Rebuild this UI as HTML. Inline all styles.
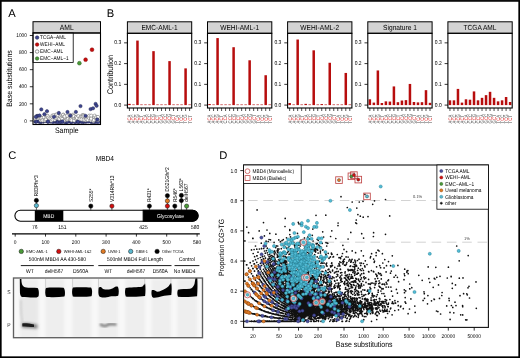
<!DOCTYPE html>
<html><head><meta charset="utf-8"><style>
html,body{margin:0;padding:0;background:#fff;}
svg{display:block;font-family:"Liberation Sans", sans-serif;will-change:transform;text-rendering:geometricPrecision;}
</style></head><body>
<svg width="520" height="358" viewBox="0 0 520 358">
<rect width="520" height="358" fill="#fff"/>
<rect x="0.8" y="0.9" width="518.4" height="356.3" fill="none" stroke="#000" stroke-width="1.7"/>
<text transform="translate(8.20,16.90)" font-size="11.20" text-anchor="start" fill="#000" >A</text>
<text transform="translate(106.80,16.70)" font-size="11.20" text-anchor="start" fill="#000" >B</text>
<text transform="translate(8.20,158.80)" font-size="11.20" text-anchor="start" fill="#000" >C</text>
<text transform="translate(219.20,158.50)" font-size="11.20" text-anchor="start" fill="#000" >D</text>
<rect x="33.0" y="21.7" width="67.5" height="11.3" fill="#d3d3d3" stroke="#000" stroke-width="1"/>
<text transform="translate(66.75,30.00) scale(0.8929,1)" font-size="7.62" text-anchor="middle" fill="#000" >AML</text>
<line x1="29.8" y1="120.90" x2="33.0" y2="120.90" stroke="#000" stroke-width="0.8"/>
<text transform="translate(26.90,122.65) scale(0.8929,1)" font-size="5.38" text-anchor="end" fill="#000" >0</text>
<line x1="29.8" y1="103.82" x2="33.0" y2="103.82" stroke="#000" stroke-width="0.8"/>
<text transform="translate(26.90,105.57) scale(0.8929,1)" font-size="5.38" text-anchor="end" fill="#000" >200</text>
<line x1="29.8" y1="86.74" x2="33.0" y2="86.74" stroke="#000" stroke-width="0.8"/>
<text transform="translate(26.90,88.49) scale(0.8929,1)" font-size="5.38" text-anchor="end" fill="#000" >400</text>
<line x1="29.8" y1="69.66" x2="33.0" y2="69.66" stroke="#000" stroke-width="0.8"/>
<text transform="translate(26.90,71.41) scale(0.8929,1)" font-size="5.38" text-anchor="end" fill="#000" >600</text>
<line x1="29.8" y1="52.58" x2="33.0" y2="52.58" stroke="#000" stroke-width="0.8"/>
<text transform="translate(26.90,54.33) scale(0.8929,1)" font-size="5.38" text-anchor="end" fill="#000" >800</text>
<line x1="29.8" y1="35.50" x2="33.0" y2="35.50" stroke="#000" stroke-width="0.8"/>
<text transform="translate(26.90,37.25) scale(0.8929,1)" font-size="5.38" text-anchor="end" fill="#000" >1000</text>
<text transform="translate(12.30,78.50) rotate(-90) scale(0.8929,1)" font-size="7.84" text-anchor="middle" fill="#000" >Base substitutions</text>
<text transform="translate(66.75,133.30) scale(0.8929,1)" font-size="7.84" text-anchor="middle" fill="#000" >Sample</text>
<g stroke-width="0.5">
<circle cx="35.5" cy="121.7" r="1.65" fill="#3d4591" stroke="#222650"/>
<circle cx="35.8" cy="121.6" r="1.65" fill="#3d4591" stroke="#222650"/>
<circle cx="36.8" cy="121.5" r="1.65" fill="#3d4591" stroke="#222650"/>
<circle cx="39.3" cy="121.7" r="1.65" fill="#3d4591" stroke="#222650"/>
<circle cx="39.2" cy="121.5" r="1.65" fill="#3d4591" stroke="#222650"/>
<circle cx="40.8" cy="121.9" r="1.65" fill="#3d4591" stroke="#222650"/>
<circle cx="41.1" cy="121.7" r="1.65" fill="#3d4591" stroke="#222650"/>
<circle cx="43.2" cy="121.7" r="1.65" fill="#3d4591" stroke="#222650"/>
<circle cx="43.6" cy="121.2" r="1.65" fill="#3d4591" stroke="#222650"/>
<circle cx="44.1" cy="120.9" r="1.65" fill="#3d4591" stroke="#222650"/>
<circle cx="45.8" cy="121.0" r="1.65" fill="#3d4591" stroke="#222650"/>
<circle cx="47.2" cy="121.2" r="1.65" fill="#3d4591" stroke="#222650"/>
<circle cx="48.0" cy="121.8" r="1.65" fill="#3d4591" stroke="#222650"/>
<circle cx="48.8" cy="120.7" r="1.65" fill="#3d4591" stroke="#222650"/>
<circle cx="50.3" cy="121.7" r="1.65" fill="#3d4591" stroke="#222650"/>
<circle cx="51.0" cy="121.1" r="1.65" fill="#3d4591" stroke="#222650"/>
<circle cx="51.9" cy="121.3" r="1.65" fill="#3d4591" stroke="#222650"/>
<circle cx="52.9" cy="122.1" r="1.65" fill="#3d4591" stroke="#222650"/>
<circle cx="55.0" cy="121.7" r="1.65" fill="#3d4591" stroke="#222650"/>
<circle cx="55.5" cy="121.5" r="1.65" fill="#3d4591" stroke="#222650"/>
<circle cx="56.7" cy="121.7" r="1.65" fill="#3d4591" stroke="#222650"/>
<circle cx="57.7" cy="121.2" r="1.65" fill="#3d4591" stroke="#222650"/>
<circle cx="57.8" cy="122.2" r="1.65" fill="#3d4591" stroke="#222650"/>
<circle cx="59.9" cy="122.0" r="1.65" fill="#3d4591" stroke="#222650"/>
<circle cx="62.1" cy="121.4" r="1.65" fill="#3d4591" stroke="#222650"/>
<circle cx="61.2" cy="122.0" r="1.65" fill="#3d4591" stroke="#222650"/>
<circle cx="63.4" cy="121.7" r="1.65" fill="#3d4591" stroke="#222650"/>
<circle cx="64.5" cy="121.6" r="1.65" fill="#3d4591" stroke="#222650"/>
<circle cx="65.6" cy="121.7" r="1.65" fill="#3d4591" stroke="#222650"/>
<circle cx="65.8" cy="122.3" r="1.65" fill="#3d4591" stroke="#222650"/>
<circle cx="67.0" cy="121.8" r="1.65" fill="#3d4591" stroke="#222650"/>
<circle cx="67.6" cy="121.8" r="1.65" fill="#3d4591" stroke="#222650"/>
<circle cx="69.3" cy="121.5" r="1.65" fill="#3d4591" stroke="#222650"/>
<circle cx="71.2" cy="122.1" r="1.65" fill="#3d4591" stroke="#222650"/>
<circle cx="71.1" cy="121.2" r="1.65" fill="#3d4591" stroke="#222650"/>
<circle cx="71.4" cy="122.0" r="1.65" fill="#3d4591" stroke="#222650"/>
<circle cx="73.6" cy="121.5" r="1.65" fill="#3d4591" stroke="#222650"/>
<circle cx="75.2" cy="122.2" r="1.65" fill="#3d4591" stroke="#222650"/>
<circle cx="75.6" cy="121.6" r="1.65" fill="#3d4591" stroke="#222650"/>
<circle cx="77.8" cy="121.6" r="1.65" fill="#3d4591" stroke="#222650"/>
<circle cx="77.8" cy="121.5" r="1.65" fill="#3d4591" stroke="#222650"/>
<circle cx="78.9" cy="121.8" r="1.65" fill="#3d4591" stroke="#222650"/>
<circle cx="79.4" cy="121.6" r="1.65" fill="#3d4591" stroke="#222650"/>
<circle cx="80.9" cy="121.7" r="1.65" fill="#3d4591" stroke="#222650"/>
<circle cx="82.6" cy="122.2" r="1.65" fill="#3d4591" stroke="#222650"/>
<circle cx="83.7" cy="121.7" r="1.65" fill="#3d4591" stroke="#222650"/>
<circle cx="85.0" cy="121.6" r="1.65" fill="#3d4591" stroke="#222650"/>
<circle cx="85.8" cy="121.7" r="1.65" fill="#3d4591" stroke="#222650"/>
<circle cx="86.7" cy="121.2" r="1.65" fill="#3d4591" stroke="#222650"/>
<circle cx="86.3" cy="121.0" r="1.65" fill="#3d4591" stroke="#222650"/>
<circle cx="88.1" cy="121.6" r="1.65" fill="#3d4591" stroke="#222650"/>
<circle cx="91.0" cy="121.8" r="1.65" fill="#3d4591" stroke="#222650"/>
<circle cx="90.4" cy="121.4" r="1.65" fill="#3d4591" stroke="#222650"/>
<circle cx="92.1" cy="121.8" r="1.65" fill="#3d4591" stroke="#222650"/>
<circle cx="92.7" cy="121.6" r="1.65" fill="#3d4591" stroke="#222650"/>
<circle cx="94.2" cy="122.0" r="1.65" fill="#3d4591" stroke="#222650"/>
<circle cx="95.0" cy="121.3" r="1.65" fill="#3d4591" stroke="#222650"/>
<circle cx="95.4" cy="121.7" r="1.65" fill="#3d4591" stroke="#222650"/>
<circle cx="96.6" cy="121.8" r="1.65" fill="#3d4591" stroke="#222650"/>
<circle cx="98.3" cy="122.1" r="1.65" fill="#3d4591" stroke="#222650"/>
<circle cx="34.9" cy="118.6" r="1.65" fill="#fff" stroke="#6a6a6a"/>
<circle cx="34.8" cy="117.8" r="1.65" fill="#fff" stroke="#6a6a6a"/>
<circle cx="36.9" cy="116.0" r="1.65" fill="#fff" stroke="#6a6a6a"/>
<circle cx="37.8" cy="116.9" r="1.65" fill="#fff" stroke="#6a6a6a"/>
<circle cx="38.4" cy="116.7" r="1.65" fill="#fff" stroke="#6a6a6a"/>
<circle cx="39.1" cy="118.2" r="1.65" fill="#fff" stroke="#6a6a6a"/>
<circle cx="38.4" cy="116.3" r="1.65" fill="#fff" stroke="#6a6a6a"/>
<circle cx="40.8" cy="117.4" r="1.65" fill="#fff" stroke="#6a6a6a"/>
<circle cx="40.5" cy="117.9" r="1.65" fill="#fff" stroke="#6a6a6a"/>
<circle cx="40.7" cy="120.3" r="1.65" fill="#fff" stroke="#6a6a6a"/>
<circle cx="41.7" cy="118.3" r="1.65" fill="#fff" stroke="#6a6a6a"/>
<circle cx="42.2" cy="120.2" r="1.65" fill="#fff" stroke="#6a6a6a"/>
<circle cx="42.6" cy="120.5" r="1.65" fill="#fff" stroke="#6a6a6a"/>
<circle cx="43.9" cy="117.3" r="1.65" fill="#fff" stroke="#6a6a6a"/>
<circle cx="44.7" cy="120.7" r="1.65" fill="#fff" stroke="#6a6a6a"/>
<circle cx="45.1" cy="119.7" r="1.65" fill="#fff" stroke="#6a6a6a"/>
<circle cx="46.0" cy="119.2" r="1.65" fill="#fff" stroke="#6a6a6a"/>
<circle cx="46.5" cy="116.7" r="1.65" fill="#fff" stroke="#6a6a6a"/>
<circle cx="46.9" cy="115.8" r="1.65" fill="#fff" stroke="#6a6a6a"/>
<circle cx="47.6" cy="115.9" r="1.65" fill="#fff" stroke="#6a6a6a"/>
<circle cx="48.9" cy="120.0" r="1.65" fill="#fff" stroke="#6a6a6a"/>
<circle cx="48.5" cy="117.6" r="1.65" fill="#fff" stroke="#6a6a6a"/>
<circle cx="49.6" cy="118.8" r="1.65" fill="#fff" stroke="#6a6a6a"/>
<circle cx="51.1" cy="120.7" r="1.65" fill="#fff" stroke="#6a6a6a"/>
<circle cx="51.4" cy="118.6" r="1.65" fill="#fff" stroke="#6a6a6a"/>
<circle cx="52.3" cy="115.7" r="1.65" fill="#fff" stroke="#6a6a6a"/>
<circle cx="52.6" cy="117.2" r="1.65" fill="#fff" stroke="#6a6a6a"/>
<circle cx="52.6" cy="119.8" r="1.65" fill="#fff" stroke="#6a6a6a"/>
<circle cx="53.7" cy="115.2" r="1.65" fill="#fff" stroke="#6a6a6a"/>
<circle cx="54.7" cy="119.7" r="1.65" fill="#fff" stroke="#6a6a6a"/>
<circle cx="55.1" cy="117.9" r="1.65" fill="#fff" stroke="#6a6a6a"/>
<circle cx="55.9" cy="114.8" r="1.65" fill="#fff" stroke="#6a6a6a"/>
<circle cx="56.7" cy="114.6" r="1.65" fill="#fff" stroke="#6a6a6a"/>
<circle cx="57.8" cy="116.1" r="1.65" fill="#fff" stroke="#6a6a6a"/>
<circle cx="57.7" cy="118.2" r="1.65" fill="#fff" stroke="#6a6a6a"/>
<circle cx="59.3" cy="118.3" r="1.65" fill="#fff" stroke="#6a6a6a"/>
<circle cx="59.3" cy="118.9" r="1.65" fill="#fff" stroke="#6a6a6a"/>
<circle cx="60.5" cy="116.5" r="1.65" fill="#fff" stroke="#6a6a6a"/>
<circle cx="61.3" cy="118.0" r="1.65" fill="#fff" stroke="#6a6a6a"/>
<circle cx="62.3" cy="118.8" r="1.65" fill="#fff" stroke="#6a6a6a"/>
<circle cx="62.6" cy="115.7" r="1.65" fill="#fff" stroke="#6a6a6a"/>
<circle cx="63.3" cy="114.8" r="1.65" fill="#fff" stroke="#6a6a6a"/>
<circle cx="64.3" cy="120.7" r="1.65" fill="#fff" stroke="#6a6a6a"/>
<circle cx="63.1" cy="114.8" r="1.65" fill="#fff" stroke="#6a6a6a"/>
<circle cx="64.1" cy="116.6" r="1.65" fill="#fff" stroke="#6a6a6a"/>
<circle cx="65.9" cy="118.6" r="1.65" fill="#fff" stroke="#6a6a6a"/>
<circle cx="64.8" cy="116.5" r="1.65" fill="#fff" stroke="#6a6a6a"/>
<circle cx="66.8" cy="119.7" r="1.65" fill="#fff" stroke="#6a6a6a"/>
<circle cx="67.4" cy="119.5" r="1.65" fill="#fff" stroke="#6a6a6a"/>
<circle cx="67.2" cy="115.8" r="1.65" fill="#fff" stroke="#6a6a6a"/>
<circle cx="68.2" cy="118.7" r="1.65" fill="#fff" stroke="#6a6a6a"/>
<circle cx="69.7" cy="115.1" r="1.65" fill="#fff" stroke="#6a6a6a"/>
<circle cx="70.3" cy="118.6" r="1.65" fill="#fff" stroke="#6a6a6a"/>
<circle cx="70.4" cy="119.7" r="1.65" fill="#fff" stroke="#6a6a6a"/>
<circle cx="70.9" cy="119.2" r="1.65" fill="#fff" stroke="#6a6a6a"/>
<circle cx="71.6" cy="120.3" r="1.65" fill="#fff" stroke="#6a6a6a"/>
<circle cx="73.0" cy="114.7" r="1.65" fill="#fff" stroke="#6a6a6a"/>
<circle cx="72.6" cy="115.9" r="1.65" fill="#fff" stroke="#6a6a6a"/>
<circle cx="74.1" cy="120.6" r="1.65" fill="#fff" stroke="#6a6a6a"/>
<circle cx="73.9" cy="116.1" r="1.65" fill="#fff" stroke="#6a6a6a"/>
<circle cx="75.9" cy="118.8" r="1.65" fill="#fff" stroke="#6a6a6a"/>
<circle cx="76.2" cy="117.0" r="1.65" fill="#fff" stroke="#6a6a6a"/>
<circle cx="77.5" cy="118.8" r="1.65" fill="#fff" stroke="#6a6a6a"/>
<circle cx="76.1" cy="116.9" r="1.65" fill="#fff" stroke="#6a6a6a"/>
<circle cx="76.9" cy="118.0" r="1.65" fill="#fff" stroke="#6a6a6a"/>
<circle cx="78.4" cy="116.1" r="1.65" fill="#fff" stroke="#6a6a6a"/>
<circle cx="80.3" cy="117.5" r="1.65" fill="#fff" stroke="#6a6a6a"/>
<circle cx="79.4" cy="119.4" r="1.65" fill="#fff" stroke="#6a6a6a"/>
<circle cx="81.5" cy="116.4" r="1.65" fill="#fff" stroke="#6a6a6a"/>
<circle cx="81.5" cy="119.5" r="1.65" fill="#fff" stroke="#6a6a6a"/>
<circle cx="82.2" cy="115.4" r="1.65" fill="#fff" stroke="#6a6a6a"/>
<circle cx="83.1" cy="115.0" r="1.65" fill="#fff" stroke="#6a6a6a"/>
<circle cx="82.9" cy="116.3" r="1.65" fill="#fff" stroke="#6a6a6a"/>
<circle cx="83.7" cy="119.9" r="1.65" fill="#fff" stroke="#6a6a6a"/>
<circle cx="84.1" cy="115.7" r="1.65" fill="#fff" stroke="#6a6a6a"/>
<circle cx="85.5" cy="120.2" r="1.65" fill="#fff" stroke="#6a6a6a"/>
<circle cx="87.2" cy="119.1" r="1.65" fill="#fff" stroke="#6a6a6a"/>
<circle cx="86.5" cy="119.2" r="1.65" fill="#fff" stroke="#6a6a6a"/>
<circle cx="87.7" cy="119.9" r="1.65" fill="#fff" stroke="#6a6a6a"/>
<circle cx="88.3" cy="116.9" r="1.65" fill="#fff" stroke="#6a6a6a"/>
<circle cx="88.9" cy="117.9" r="1.65" fill="#fff" stroke="#6a6a6a"/>
<circle cx="89.3" cy="115.7" r="1.65" fill="#fff" stroke="#6a6a6a"/>
<circle cx="90.9" cy="118.0" r="1.65" fill="#fff" stroke="#6a6a6a"/>
<circle cx="90.8" cy="120.3" r="1.65" fill="#fff" stroke="#6a6a6a"/>
<circle cx="91.2" cy="115.7" r="1.65" fill="#fff" stroke="#6a6a6a"/>
<circle cx="91.1" cy="118.7" r="1.65" fill="#fff" stroke="#6a6a6a"/>
<circle cx="93.4" cy="121.0" r="1.65" fill="#fff" stroke="#6a6a6a"/>
<circle cx="93.9" cy="120.0" r="1.65" fill="#fff" stroke="#6a6a6a"/>
<circle cx="94.3" cy="117.1" r="1.65" fill="#fff" stroke="#6a6a6a"/>
<circle cx="94.7" cy="115.7" r="1.65" fill="#fff" stroke="#6a6a6a"/>
<circle cx="96.4" cy="119.4" r="1.65" fill="#fff" stroke="#6a6a6a"/>
<circle cx="96.2" cy="117.4" r="1.65" fill="#fff" stroke="#6a6a6a"/>
<circle cx="96.5" cy="117.2" r="1.65" fill="#fff" stroke="#6a6a6a"/>
<circle cx="97.8" cy="120.0" r="1.65" fill="#fff" stroke="#6a6a6a"/>
<circle cx="98.0" cy="117.0" r="1.65" fill="#fff" stroke="#6a6a6a"/>
<circle cx="41.3" cy="109.4" r="1.65" fill="#3d4591" stroke="#222650"/>
<circle cx="47.0" cy="111.2" r="1.65" fill="#3d4591" stroke="#222650"/>
<circle cx="44.4" cy="114.2" r="1.65" fill="#3d4591" stroke="#222650"/>
<circle cx="58.8" cy="113.0" r="1.65" fill="#3d4591" stroke="#222650"/>
<circle cx="67.5" cy="112.0" r="1.65" fill="#3d4591" stroke="#222650"/>
<circle cx="75.9" cy="111.9" r="1.65" fill="#3d4591" stroke="#222650"/>
<circle cx="80.5" cy="106.1" r="1.65" fill="#3d4591" stroke="#222650"/>
<circle cx="90.6" cy="109.1" r="1.65" fill="#3d4591" stroke="#222650"/>
<circle cx="93.0" cy="108.3" r="1.65" fill="#3d4591" stroke="#222650"/>
<circle cx="95.6" cy="103.9" r="1.65" fill="#3d4591" stroke="#222650"/>
<circle cx="96.6" cy="105.8" r="1.65" fill="#3d4591" stroke="#222650"/>
<circle cx="37.2" cy="115.9" r="1.65" fill="#3d4591" stroke="#222650"/>
<circle cx="35.8" cy="116.9" r="1.65" fill="#3d4591" stroke="#222650"/>
<circle cx="39.5" cy="115.5" r="1.65" fill="#3d4591" stroke="#222650"/>
<circle cx="70.3" cy="115.6" r="1.65" fill="#3d4591" stroke="#222650"/>
<circle cx="85.5" cy="115.8" r="1.65" fill="#3d4591" stroke="#222650"/>
<circle cx="97.3" cy="119.5" r="1.65" fill="#3d4591" stroke="#222650"/>
<circle cx="54.0" cy="116.8" r="1.65" fill="#3d4591" stroke="#222650"/>
<circle cx="62.5" cy="121.5" r="1.65" fill="#3d4591" stroke="#222650"/>
<circle cx="48.0" cy="121.5" r="1.65" fill="#3d4591" stroke="#222650"/>
<circle cx="78.0" cy="121.7" r="1.65" fill="#3d4591" stroke="#222650"/>
<circle cx="92" cy="49.7" r="1.9" fill="#c50b0b" stroke="#8a1010"/>
<circle cx="85.6" cy="59.7" r="1.9" fill="#c50b0b" stroke="#8a1010"/>
<circle cx="79.4" cy="63.2" r="1.9" fill="#4a9a38" stroke="#2e6124"/>
</g>
<rect x="33.0" y="33.0" width="40.2" height="29.4" fill="#fff" stroke="#000" stroke-width="0.8"/>
<circle cx="37.1" cy="37.60" r="1.75" fill="#3d4591" stroke="#222650" stroke-width="0.55"/>
<text transform="translate(40.10,39.20) scale(0.8929,1)" font-size="5.32" text-anchor="start" fill="#000" >TCGA−AML</text>
<circle cx="37.1" cy="44.57" r="1.75" fill="#c50b0b" stroke="#8a1010" stroke-width="0.55"/>
<text transform="translate(40.10,46.17) scale(0.8929,1)" font-size="5.32" text-anchor="start" fill="#000" >WEHI−AML</text>
<circle cx="37.1" cy="51.54" r="1.75" fill="#fff" stroke="#444" stroke-width="0.55"/>
<text transform="translate(40.10,53.14) scale(0.8929,1)" font-size="5.32" text-anchor="start" fill="#000" >EMC−AML</text>
<circle cx="37.1" cy="58.51" r="1.75" fill="#4a9a38" stroke="#2e6124" stroke-width="0.55"/>
<text transform="translate(40.10,60.11) scale(0.8929,1)" font-size="5.32" text-anchor="start" fill="#000" >EMC−AML−1</text>
<rect x="33.0" y="33.0" width="67.5" height="91.5" fill="none" stroke="#000" stroke-width="1.1"/>
<text transform="translate(112.60,74.60) rotate(-90) scale(0.8929,1)" font-size="8.18" text-anchor="middle" fill="#000" >Contribution</text>
<rect x="127.4" y="21.8" width="64.3" height="11.499999999999996" fill="#d3d3d3" stroke="#000" stroke-width="1"/>
<text transform="translate(159.55,30.00) scale(0.8929,1)" font-size="7.39" text-anchor="middle" fill="#000" >EMC-AML-1</text>
<line x1="124.10000000000001" y1="105.10" x2="127.4" y2="105.10" stroke="#000" stroke-width="0.8"/>
<text transform="translate(121.20,106.55) scale(0.8929,1)" font-size="5.60" text-anchor="end" fill="#000" >0.0</text>
<line x1="124.10000000000001" y1="84.35" x2="127.4" y2="84.35" stroke="#000" stroke-width="0.8"/>
<text transform="translate(121.20,85.80) scale(0.8929,1)" font-size="5.60" text-anchor="end" fill="#000" >0.1</text>
<line x1="124.10000000000001" y1="63.60" x2="127.4" y2="63.60" stroke="#000" stroke-width="0.8"/>
<text transform="translate(121.20,65.05) scale(0.8929,1)" font-size="5.60" text-anchor="end" fill="#000" >0.2</text>
<line x1="124.10000000000001" y1="42.85" x2="127.4" y2="42.85" stroke="#000" stroke-width="0.8"/>
<text transform="translate(121.20,44.30) scale(0.8929,1)" font-size="5.60" text-anchor="end" fill="#000" >0.3</text>
<rect x="128.20" y="103.85" width="2.5" height="1.25" fill="#b70d0d"/>
<line x1="129.45" y1="108.0" x2="129.45" y2="111.0" stroke="#000" stroke-width="0.7"/>
<text transform="translate(131.35,123.4) rotate(-90) scale(0.82,1)" font-size="5.2" fill="#555">A<tspan fill="#e03a3a">C</tspan>A</text>
<rect x="132.21" y="104.50" width="2.5" height="0.60" fill="#b70d0d"/>
<line x1="133.46" y1="108.0" x2="133.46" y2="111.0" stroke="#000" stroke-width="0.7"/>
<text transform="translate(135.36,123.4) rotate(-90) scale(0.82,1)" font-size="5.2" fill="#555">A<tspan fill="#e03a3a">C</tspan>C</text>
<rect x="136.22" y="40.57" width="2.5" height="64.53" fill="#b70d0d"/>
<line x1="137.47" y1="108.0" x2="137.47" y2="111.0" stroke="#000" stroke-width="0.7"/>
<text transform="translate(139.37,123.4) rotate(-90) scale(0.82,1)" font-size="5.2" fill="#555">A<tspan fill="#e03a3a">C</tspan>G</text>
<rect x="140.23" y="104.50" width="2.5" height="0.60" fill="#b70d0d"/>
<line x1="141.48" y1="108.0" x2="141.48" y2="111.0" stroke="#000" stroke-width="0.7"/>
<text transform="translate(143.38,123.4) rotate(-90) scale(0.82,1)" font-size="5.2" fill="#555">A<tspan fill="#e03a3a">C</tspan>T</text>
<rect x="144.24" y="104.50" width="2.5" height="0.60" fill="#b70d0d"/>
<line x1="145.49" y1="108.0" x2="145.49" y2="111.0" stroke="#000" stroke-width="0.7"/>
<text transform="translate(147.39,123.4) rotate(-90) scale(0.82,1)" font-size="5.2" fill="#555">C<tspan fill="#e03a3a">C</tspan>A</text>
<rect x="148.25" y="104.50" width="2.5" height="0.60" fill="#b70d0d"/>
<line x1="149.50" y1="108.0" x2="149.50" y2="111.0" stroke="#000" stroke-width="0.7"/>
<text transform="translate(151.40,123.4) rotate(-90) scale(0.82,1)" font-size="5.2" fill="#555">C<tspan fill="#e03a3a">C</tspan>C</text>
<rect x="152.26" y="51.15" width="2.5" height="53.95" fill="#b70d0d"/>
<line x1="153.51" y1="108.0" x2="153.51" y2="111.0" stroke="#000" stroke-width="0.7"/>
<text transform="translate(155.41,123.4) rotate(-90) scale(0.82,1)" font-size="5.2" fill="#555">C<tspan fill="#e03a3a">C</tspan>G</text>
<rect x="156.27" y="104.50" width="2.5" height="0.60" fill="#b70d0d"/>
<line x1="157.52" y1="108.0" x2="157.52" y2="111.0" stroke="#000" stroke-width="0.7"/>
<text transform="translate(159.42,123.4) rotate(-90) scale(0.82,1)" font-size="5.2" fill="#555">C<tspan fill="#e03a3a">C</tspan>T</text>
<rect x="160.28" y="104.50" width="2.5" height="0.60" fill="#b70d0d"/>
<line x1="161.53" y1="108.0" x2="161.53" y2="111.0" stroke="#000" stroke-width="0.7"/>
<text transform="translate(163.43,123.4) rotate(-90) scale(0.82,1)" font-size="5.2" fill="#555">G<tspan fill="#e03a3a">C</tspan>A</text>
<rect x="164.29" y="104.50" width="2.5" height="0.60" fill="#b70d0d"/>
<line x1="165.54" y1="108.0" x2="165.54" y2="111.0" stroke="#000" stroke-width="0.7"/>
<text transform="translate(167.44,123.4) rotate(-90) scale(0.82,1)" font-size="5.2" fill="#555">G<tspan fill="#e03a3a">C</tspan>C</text>
<rect x="168.30" y="61.11" width="2.5" height="43.99" fill="#b70d0d"/>
<line x1="169.55" y1="108.0" x2="169.55" y2="111.0" stroke="#000" stroke-width="0.7"/>
<text transform="translate(171.45,123.4) rotate(-90) scale(0.82,1)" font-size="5.2" fill="#555">G<tspan fill="#e03a3a">C</tspan>G</text>
<rect x="172.31" y="104.50" width="2.5" height="0.60" fill="#b70d0d"/>
<line x1="173.56" y1="108.0" x2="173.56" y2="111.0" stroke="#000" stroke-width="0.7"/>
<text transform="translate(175.46,123.4) rotate(-90) scale(0.82,1)" font-size="5.2" fill="#555">G<tspan fill="#e03a3a">C</tspan>T</text>
<rect x="176.32" y="104.50" width="2.5" height="0.60" fill="#b70d0d"/>
<line x1="177.57" y1="108.0" x2="177.57" y2="111.0" stroke="#000" stroke-width="0.7"/>
<text transform="translate(179.47,123.4) rotate(-90) scale(0.82,1)" font-size="5.2" fill="#555">T<tspan fill="#e03a3a">C</tspan>A</text>
<rect x="180.33" y="104.50" width="2.5" height="0.60" fill="#b70d0d"/>
<line x1="181.58" y1="108.0" x2="181.58" y2="111.0" stroke="#000" stroke-width="0.7"/>
<text transform="translate(183.48,123.4) rotate(-90) scale(0.82,1)" font-size="5.2" fill="#555">T<tspan fill="#e03a3a">C</tspan>C</text>
<rect x="184.34" y="68.37" width="2.5" height="36.73" fill="#b70d0d"/>
<line x1="185.59" y1="108.0" x2="185.59" y2="111.0" stroke="#000" stroke-width="0.7"/>
<text transform="translate(187.49,123.4) rotate(-90) scale(0.82,1)" font-size="5.2" fill="#555">T<tspan fill="#e03a3a">C</tspan>G</text>
<rect x="188.35" y="104.50" width="2.5" height="0.60" fill="#b70d0d"/>
<line x1="189.60" y1="108.0" x2="189.60" y2="111.0" stroke="#000" stroke-width="0.7"/>
<text transform="translate(191.50,123.4) rotate(-90) scale(0.82,1)" font-size="5.2" fill="#555">T<tspan fill="#e03a3a">C</tspan>T</text>
<rect x="127.4" y="33.3" width="64.3" height="74.7" fill="none" stroke="#000" stroke-width="1.1"/>
<rect x="207.5" y="21.8" width="64.3" height="11.499999999999996" fill="#d3d3d3" stroke="#000" stroke-width="1"/>
<text transform="translate(239.65,30.00) scale(0.8929,1)" font-size="7.39" text-anchor="middle" fill="#000" >WEHI-AML-1</text>
<line x1="204.2" y1="105.10" x2="207.5" y2="105.10" stroke="#000" stroke-width="0.8"/>
<text transform="translate(201.30,106.55) scale(0.8929,1)" font-size="5.60" text-anchor="end" fill="#000" >0.0</text>
<line x1="204.2" y1="84.35" x2="207.5" y2="84.35" stroke="#000" stroke-width="0.8"/>
<text transform="translate(201.30,85.80) scale(0.8929,1)" font-size="5.60" text-anchor="end" fill="#000" >0.1</text>
<line x1="204.2" y1="63.60" x2="207.5" y2="63.60" stroke="#000" stroke-width="0.8"/>
<text transform="translate(201.30,65.05) scale(0.8929,1)" font-size="5.60" text-anchor="end" fill="#000" >0.2</text>
<line x1="204.2" y1="42.85" x2="207.5" y2="42.85" stroke="#000" stroke-width="0.8"/>
<text transform="translate(201.30,44.30) scale(0.8929,1)" font-size="5.60" text-anchor="end" fill="#000" >0.3</text>
<rect x="208.30" y="104.06" width="2.5" height="1.04" fill="#b70d0d"/>
<line x1="209.55" y1="108.0" x2="209.55" y2="111.0" stroke="#000" stroke-width="0.7"/>
<text transform="translate(211.45,123.4) rotate(-90) scale(0.82,1)" font-size="5.2" fill="#555">A<tspan fill="#e03a3a">C</tspan>A</text>
<rect x="212.31" y="104.50" width="2.5" height="0.60" fill="#b70d0d"/>
<line x1="213.56" y1="108.0" x2="213.56" y2="111.0" stroke="#000" stroke-width="0.7"/>
<text transform="translate(215.46,123.4) rotate(-90) scale(0.82,1)" font-size="5.2" fill="#555">A<tspan fill="#e03a3a">C</tspan>C</text>
<rect x="216.32" y="38.08" width="2.5" height="67.02" fill="#b70d0d"/>
<line x1="217.57" y1="108.0" x2="217.57" y2="111.0" stroke="#000" stroke-width="0.7"/>
<text transform="translate(219.47,123.4) rotate(-90) scale(0.82,1)" font-size="5.2" fill="#555">A<tspan fill="#e03a3a">C</tspan>G</text>
<rect x="220.33" y="104.50" width="2.5" height="0.60" fill="#b70d0d"/>
<line x1="221.58" y1="108.0" x2="221.58" y2="111.0" stroke="#000" stroke-width="0.7"/>
<text transform="translate(223.48,123.4) rotate(-90) scale(0.82,1)" font-size="5.2" fill="#555">A<tspan fill="#e03a3a">C</tspan>T</text>
<rect x="224.34" y="104.50" width="2.5" height="0.60" fill="#b70d0d"/>
<line x1="225.59" y1="108.0" x2="225.59" y2="111.0" stroke="#000" stroke-width="0.7"/>
<text transform="translate(227.49,123.4) rotate(-90) scale(0.82,1)" font-size="5.2" fill="#555">C<tspan fill="#e03a3a">C</tspan>A</text>
<rect x="228.35" y="104.50" width="2.5" height="0.60" fill="#b70d0d"/>
<line x1="229.60" y1="108.0" x2="229.60" y2="111.0" stroke="#000" stroke-width="0.7"/>
<text transform="translate(231.50,123.4) rotate(-90) scale(0.82,1)" font-size="5.2" fill="#555">C<tspan fill="#e03a3a">C</tspan>C</text>
<rect x="232.36" y="47.21" width="2.5" height="57.89" fill="#b70d0d"/>
<line x1="233.61" y1="108.0" x2="233.61" y2="111.0" stroke="#000" stroke-width="0.7"/>
<text transform="translate(235.51,123.4) rotate(-90) scale(0.82,1)" font-size="5.2" fill="#555">C<tspan fill="#e03a3a">C</tspan>G</text>
<rect x="236.37" y="104.50" width="2.5" height="0.60" fill="#b70d0d"/>
<line x1="237.62" y1="108.0" x2="237.62" y2="111.0" stroke="#000" stroke-width="0.7"/>
<text transform="translate(239.52,123.4) rotate(-90) scale(0.82,1)" font-size="5.2" fill="#555">C<tspan fill="#e03a3a">C</tspan>T</text>
<rect x="240.38" y="104.50" width="2.5" height="0.60" fill="#b70d0d"/>
<line x1="241.63" y1="108.0" x2="241.63" y2="111.0" stroke="#000" stroke-width="0.7"/>
<text transform="translate(243.53,123.4) rotate(-90) scale(0.82,1)" font-size="5.2" fill="#555">G<tspan fill="#e03a3a">C</tspan>A</text>
<rect x="244.39" y="104.50" width="2.5" height="0.60" fill="#b70d0d"/>
<line x1="245.64" y1="108.0" x2="245.64" y2="111.0" stroke="#000" stroke-width="0.7"/>
<text transform="translate(247.54,123.4) rotate(-90) scale(0.82,1)" font-size="5.2" fill="#555">G<tspan fill="#e03a3a">C</tspan>C</text>
<rect x="248.40" y="60.28" width="2.5" height="44.82" fill="#b70d0d"/>
<line x1="249.65" y1="108.0" x2="249.65" y2="111.0" stroke="#000" stroke-width="0.7"/>
<text transform="translate(251.55,123.4) rotate(-90) scale(0.82,1)" font-size="5.2" fill="#555">G<tspan fill="#e03a3a">C</tspan>G</text>
<rect x="252.41" y="104.50" width="2.5" height="0.60" fill="#b70d0d"/>
<line x1="253.66" y1="108.0" x2="253.66" y2="111.0" stroke="#000" stroke-width="0.7"/>
<text transform="translate(255.56,123.4) rotate(-90) scale(0.82,1)" font-size="5.2" fill="#555">G<tspan fill="#e03a3a">C</tspan>T</text>
<rect x="256.42" y="104.50" width="2.5" height="0.60" fill="#b70d0d"/>
<line x1="257.67" y1="108.0" x2="257.67" y2="111.0" stroke="#000" stroke-width="0.7"/>
<text transform="translate(259.57,123.4) rotate(-90) scale(0.82,1)" font-size="5.2" fill="#555">T<tspan fill="#e03a3a">C</tspan>A</text>
<rect x="260.43" y="104.50" width="2.5" height="0.60" fill="#b70d0d"/>
<line x1="261.68" y1="108.0" x2="261.68" y2="111.0" stroke="#000" stroke-width="0.7"/>
<text transform="translate(263.58,123.4) rotate(-90) scale(0.82,1)" font-size="5.2" fill="#555">T<tspan fill="#e03a3a">C</tspan>C</text>
<rect x="264.44" y="75.22" width="2.5" height="29.88" fill="#b70d0d"/>
<line x1="265.69" y1="108.0" x2="265.69" y2="111.0" stroke="#000" stroke-width="0.7"/>
<text transform="translate(267.59,123.4) rotate(-90) scale(0.82,1)" font-size="5.2" fill="#555">T<tspan fill="#e03a3a">C</tspan>G</text>
<rect x="268.45" y="104.50" width="2.5" height="0.60" fill="#b70d0d"/>
<line x1="269.70" y1="108.0" x2="269.70" y2="111.0" stroke="#000" stroke-width="0.7"/>
<text transform="translate(271.60,123.4) rotate(-90) scale(0.82,1)" font-size="5.2" fill="#555">T<tspan fill="#e03a3a">C</tspan>T</text>
<rect x="207.5" y="33.3" width="64.3" height="74.7" fill="none" stroke="#000" stroke-width="1.1"/>
<rect x="287.6" y="21.8" width="64.3" height="11.499999999999996" fill="#d3d3d3" stroke="#000" stroke-width="1"/>
<text transform="translate(319.75,30.00) scale(0.8929,1)" font-size="7.39" text-anchor="middle" fill="#000" >WEHI-AML-2</text>
<line x1="284.3" y1="105.10" x2="287.6" y2="105.10" stroke="#000" stroke-width="0.8"/>
<text transform="translate(281.40,106.55) scale(0.8929,1)" font-size="5.60" text-anchor="end" fill="#000" >0.0</text>
<line x1="284.3" y1="84.35" x2="287.6" y2="84.35" stroke="#000" stroke-width="0.8"/>
<text transform="translate(281.40,85.80) scale(0.8929,1)" font-size="5.60" text-anchor="end" fill="#000" >0.1</text>
<line x1="284.3" y1="63.60" x2="287.6" y2="63.60" stroke="#000" stroke-width="0.8"/>
<text transform="translate(281.40,65.05) scale(0.8929,1)" font-size="5.60" text-anchor="end" fill="#000" >0.2</text>
<line x1="284.3" y1="42.85" x2="287.6" y2="42.85" stroke="#000" stroke-width="0.8"/>
<text transform="translate(281.40,44.30) scale(0.8929,1)" font-size="5.60" text-anchor="end" fill="#000" >0.3</text>
<rect x="288.40" y="103.02" width="2.5" height="2.08" fill="#b70d0d"/>
<line x1="289.65" y1="108.0" x2="289.65" y2="111.0" stroke="#000" stroke-width="0.7"/>
<text transform="translate(291.55,123.4) rotate(-90) scale(0.82,1)" font-size="5.2" fill="#555">A<tspan fill="#e03a3a">C</tspan>A</text>
<rect x="292.41" y="104.50" width="2.5" height="0.60" fill="#b70d0d"/>
<line x1="293.66" y1="108.0" x2="293.66" y2="111.0" stroke="#000" stroke-width="0.7"/>
<text transform="translate(295.56,123.4) rotate(-90) scale(0.82,1)" font-size="5.2" fill="#555">A<tspan fill="#e03a3a">C</tspan>C</text>
<rect x="296.42" y="39.53" width="2.5" height="65.57" fill="#b70d0d"/>
<line x1="297.67" y1="108.0" x2="297.67" y2="111.0" stroke="#000" stroke-width="0.7"/>
<text transform="translate(299.57,123.4) rotate(-90) scale(0.82,1)" font-size="5.2" fill="#555">A<tspan fill="#e03a3a">C</tspan>G</text>
<rect x="300.43" y="104.50" width="2.5" height="0.60" fill="#b70d0d"/>
<line x1="301.68" y1="108.0" x2="301.68" y2="111.0" stroke="#000" stroke-width="0.7"/>
<text transform="translate(303.58,123.4) rotate(-90) scale(0.82,1)" font-size="5.2" fill="#555">A<tspan fill="#e03a3a">C</tspan>T</text>
<rect x="304.44" y="103.85" width="2.5" height="1.25" fill="#b70d0d"/>
<line x1="305.69" y1="108.0" x2="305.69" y2="111.0" stroke="#000" stroke-width="0.7"/>
<text transform="translate(307.59,123.4) rotate(-90) scale(0.82,1)" font-size="5.2" fill="#555">C<tspan fill="#e03a3a">C</tspan>A</text>
<rect x="308.45" y="104.48" width="2.5" height="0.62" fill="#b70d0d"/>
<line x1="309.70" y1="108.0" x2="309.70" y2="111.0" stroke="#000" stroke-width="0.7"/>
<text transform="translate(311.60,123.4) rotate(-90) scale(0.82,1)" font-size="5.2" fill="#555">C<tspan fill="#e03a3a">C</tspan>C</text>
<rect x="312.46" y="50.32" width="2.5" height="54.78" fill="#b70d0d"/>
<line x1="313.71" y1="108.0" x2="313.71" y2="111.0" stroke="#000" stroke-width="0.7"/>
<text transform="translate(315.61,123.4) rotate(-90) scale(0.82,1)" font-size="5.2" fill="#555">C<tspan fill="#e03a3a">C</tspan>G</text>
<rect x="316.47" y="104.50" width="2.5" height="0.60" fill="#b70d0d"/>
<line x1="317.72" y1="108.0" x2="317.72" y2="111.0" stroke="#000" stroke-width="0.7"/>
<text transform="translate(319.62,123.4) rotate(-90) scale(0.82,1)" font-size="5.2" fill="#555">C<tspan fill="#e03a3a">C</tspan>T</text>
<rect x="320.48" y="104.06" width="2.5" height="1.04" fill="#b70d0d"/>
<line x1="321.73" y1="108.0" x2="321.73" y2="111.0" stroke="#000" stroke-width="0.7"/>
<text transform="translate(323.63,123.4) rotate(-90) scale(0.82,1)" font-size="5.2" fill="#555">G<tspan fill="#e03a3a">C</tspan>A</text>
<rect x="324.49" y="104.50" width="2.5" height="0.60" fill="#b70d0d"/>
<line x1="325.74" y1="108.0" x2="325.74" y2="111.0" stroke="#000" stroke-width="0.7"/>
<text transform="translate(327.64,123.4) rotate(-90) scale(0.82,1)" font-size="5.2" fill="#555">G<tspan fill="#e03a3a">C</tspan>C</text>
<rect x="328.50" y="62.77" width="2.5" height="42.33" fill="#b70d0d"/>
<line x1="329.75" y1="108.0" x2="329.75" y2="111.0" stroke="#000" stroke-width="0.7"/>
<text transform="translate(331.65,123.4) rotate(-90) scale(0.82,1)" font-size="5.2" fill="#555">G<tspan fill="#e03a3a">C</tspan>G</text>
<rect x="332.51" y="104.50" width="2.5" height="0.60" fill="#b70d0d"/>
<line x1="333.76" y1="108.0" x2="333.76" y2="111.0" stroke="#000" stroke-width="0.7"/>
<text transform="translate(335.66,123.4) rotate(-90) scale(0.82,1)" font-size="5.2" fill="#555">G<tspan fill="#e03a3a">C</tspan>T</text>
<rect x="336.52" y="104.50" width="2.5" height="0.60" fill="#b70d0d"/>
<line x1="337.77" y1="108.0" x2="337.77" y2="111.0" stroke="#000" stroke-width="0.7"/>
<text transform="translate(339.67,123.4) rotate(-90) scale(0.82,1)" font-size="5.2" fill="#555">T<tspan fill="#e03a3a">C</tspan>A</text>
<rect x="340.53" y="104.50" width="2.5" height="0.60" fill="#b70d0d"/>
<line x1="341.78" y1="108.0" x2="341.78" y2="111.0" stroke="#000" stroke-width="0.7"/>
<text transform="translate(343.68,123.4) rotate(-90) scale(0.82,1)" font-size="5.2" fill="#555">T<tspan fill="#e03a3a">C</tspan>C</text>
<rect x="344.54" y="72.94" width="2.5" height="32.16" fill="#b70d0d"/>
<line x1="345.79" y1="108.0" x2="345.79" y2="111.0" stroke="#000" stroke-width="0.7"/>
<text transform="translate(347.69,123.4) rotate(-90) scale(0.82,1)" font-size="5.2" fill="#555">T<tspan fill="#e03a3a">C</tspan>G</text>
<rect x="348.55" y="104.50" width="2.5" height="0.60" fill="#b70d0d"/>
<line x1="349.80" y1="108.0" x2="349.80" y2="111.0" stroke="#000" stroke-width="0.7"/>
<text transform="translate(351.70,123.4) rotate(-90) scale(0.82,1)" font-size="5.2" fill="#555">T<tspan fill="#e03a3a">C</tspan>T</text>
<rect x="287.6" y="33.3" width="64.3" height="74.7" fill="none" stroke="#000" stroke-width="1.1"/>
<rect x="367.8" y="21.8" width="64.3" height="11.499999999999996" fill="#d3d3d3" stroke="#000" stroke-width="1"/>
<text transform="translate(399.95,30.00) scale(0.8929,1)" font-size="7.39" text-anchor="middle" fill="#000" >Signature 1</text>
<line x1="364.5" y1="105.10" x2="367.8" y2="105.10" stroke="#000" stroke-width="0.8"/>
<text transform="translate(361.60,106.55) scale(0.8929,1)" font-size="5.60" text-anchor="end" fill="#000" >0.0</text>
<line x1="364.5" y1="84.35" x2="367.8" y2="84.35" stroke="#000" stroke-width="0.8"/>
<text transform="translate(361.60,85.80) scale(0.8929,1)" font-size="5.60" text-anchor="end" fill="#000" >0.1</text>
<line x1="364.5" y1="63.60" x2="367.8" y2="63.60" stroke="#000" stroke-width="0.8"/>
<text transform="translate(361.60,65.05) scale(0.8929,1)" font-size="5.60" text-anchor="end" fill="#000" >0.2</text>
<line x1="364.5" y1="42.85" x2="367.8" y2="42.85" stroke="#000" stroke-width="0.8"/>
<text transform="translate(361.60,44.30) scale(0.8929,1)" font-size="5.60" text-anchor="end" fill="#000" >0.3</text>
<rect x="368.60" y="99.29" width="2.5" height="5.81" fill="#b70d0d"/>
<line x1="369.85" y1="108.0" x2="369.85" y2="111.0" stroke="#000" stroke-width="0.7"/>
<text transform="translate(371.75,123.4) rotate(-90) scale(0.82,1)" font-size="5.2" fill="#555">A<tspan fill="#e03a3a">C</tspan>A</text>
<rect x="372.61" y="102.61" width="2.5" height="2.49" fill="#b70d0d"/>
<line x1="373.86" y1="108.0" x2="373.86" y2="111.0" stroke="#000" stroke-width="0.7"/>
<text transform="translate(375.76,123.4) rotate(-90) scale(0.82,1)" font-size="5.2" fill="#555">A<tspan fill="#e03a3a">C</tspan>C</text>
<rect x="376.62" y="70.45" width="2.5" height="34.65" fill="#b70d0d"/>
<line x1="377.87" y1="108.0" x2="377.87" y2="111.0" stroke="#000" stroke-width="0.7"/>
<text transform="translate(379.77,123.4) rotate(-90) scale(0.82,1)" font-size="5.2" fill="#555">A<tspan fill="#e03a3a">C</tspan>G</text>
<rect x="380.63" y="103.02" width="2.5" height="2.08" fill="#b70d0d"/>
<line x1="381.88" y1="108.0" x2="381.88" y2="111.0" stroke="#000" stroke-width="0.7"/>
<text transform="translate(383.78,123.4) rotate(-90) scale(0.82,1)" font-size="5.2" fill="#555">A<tspan fill="#e03a3a">C</tspan>T</text>
<rect x="384.64" y="101.36" width="2.5" height="3.73" fill="#b70d0d"/>
<line x1="385.89" y1="108.0" x2="385.89" y2="111.0" stroke="#000" stroke-width="0.7"/>
<text transform="translate(387.79,123.4) rotate(-90) scale(0.82,1)" font-size="5.2" fill="#555">C<tspan fill="#e03a3a">C</tspan>A</text>
<rect x="388.65" y="101.57" width="2.5" height="3.53" fill="#b70d0d"/>
<line x1="389.90" y1="108.0" x2="389.90" y2="111.0" stroke="#000" stroke-width="0.7"/>
<text transform="translate(391.80,123.4) rotate(-90) scale(0.82,1)" font-size="5.2" fill="#555">C<tspan fill="#e03a3a">C</tspan>C</text>
<rect x="392.66" y="86.42" width="2.5" height="18.67" fill="#b70d0d"/>
<line x1="393.91" y1="108.0" x2="393.91" y2="111.0" stroke="#000" stroke-width="0.7"/>
<text transform="translate(395.81,123.4) rotate(-90) scale(0.82,1)" font-size="5.2" fill="#555">C<tspan fill="#e03a3a">C</tspan>G</text>
<rect x="396.67" y="102.19" width="2.5" height="2.91" fill="#b70d0d"/>
<line x1="397.92" y1="108.0" x2="397.92" y2="111.0" stroke="#000" stroke-width="0.7"/>
<text transform="translate(399.82,123.4) rotate(-90) scale(0.82,1)" font-size="5.2" fill="#555">C<tspan fill="#e03a3a">C</tspan>T</text>
<rect x="400.68" y="100.53" width="2.5" height="4.56" fill="#b70d0d"/>
<line x1="401.93" y1="108.0" x2="401.93" y2="111.0" stroke="#000" stroke-width="0.7"/>
<text transform="translate(403.83,123.4) rotate(-90) scale(0.82,1)" font-size="5.2" fill="#555">G<tspan fill="#e03a3a">C</tspan>A</text>
<rect x="404.69" y="100.12" width="2.5" height="4.98" fill="#b70d0d"/>
<line x1="405.94" y1="108.0" x2="405.94" y2="111.0" stroke="#000" stroke-width="0.7"/>
<text transform="translate(407.84,123.4) rotate(-90) scale(0.82,1)" font-size="5.2" fill="#555">G<tspan fill="#e03a3a">C</tspan>C</text>
<rect x="408.70" y="83.94" width="2.5" height="21.16" fill="#b70d0d"/>
<line x1="409.95" y1="108.0" x2="409.95" y2="111.0" stroke="#000" stroke-width="0.7"/>
<text transform="translate(411.85,123.4) rotate(-90) scale(0.82,1)" font-size="5.2" fill="#555">G<tspan fill="#e03a3a">C</tspan>G</text>
<rect x="412.71" y="101.99" width="2.5" height="3.11" fill="#b70d0d"/>
<line x1="413.96" y1="108.0" x2="413.96" y2="111.0" stroke="#000" stroke-width="0.7"/>
<text transform="translate(415.86,123.4) rotate(-90) scale(0.82,1)" font-size="5.2" fill="#555">G<tspan fill="#e03a3a">C</tspan>T</text>
<rect x="416.72" y="102.40" width="2.5" height="2.70" fill="#b70d0d"/>
<line x1="417.97" y1="108.0" x2="417.97" y2="111.0" stroke="#000" stroke-width="0.7"/>
<text transform="translate(419.87,123.4) rotate(-90) scale(0.82,1)" font-size="5.2" fill="#555">T<tspan fill="#e03a3a">C</tspan>A</text>
<rect x="420.73" y="102.19" width="2.5" height="2.91" fill="#b70d0d"/>
<line x1="421.98" y1="108.0" x2="421.98" y2="111.0" stroke="#000" stroke-width="0.7"/>
<text transform="translate(423.88,123.4) rotate(-90) scale(0.82,1)" font-size="5.2" fill="#555">T<tspan fill="#e03a3a">C</tspan>C</text>
<rect x="424.74" y="90.16" width="2.5" height="14.94" fill="#b70d0d"/>
<line x1="425.99" y1="108.0" x2="425.99" y2="111.0" stroke="#000" stroke-width="0.7"/>
<text transform="translate(427.89,123.4) rotate(-90) scale(0.82,1)" font-size="5.2" fill="#555">T<tspan fill="#e03a3a">C</tspan>G</text>
<rect x="428.75" y="102.82" width="2.5" height="2.28" fill="#b70d0d"/>
<line x1="430.00" y1="108.0" x2="430.00" y2="111.0" stroke="#000" stroke-width="0.7"/>
<text transform="translate(431.90,123.4) rotate(-90) scale(0.82,1)" font-size="5.2" fill="#555">T<tspan fill="#e03a3a">C</tspan>T</text>
<rect x="367.8" y="33.3" width="64.3" height="74.7" fill="none" stroke="#000" stroke-width="1.1"/>
<rect x="447.9" y="21.8" width="64.3" height="11.499999999999996" fill="#d3d3d3" stroke="#000" stroke-width="1"/>
<text transform="translate(480.05,30.00) scale(0.8929,1)" font-size="7.39" text-anchor="middle" fill="#000" >TCGA AML</text>
<line x1="444.59999999999997" y1="105.10" x2="447.9" y2="105.10" stroke="#000" stroke-width="0.8"/>
<text transform="translate(441.70,106.55) scale(0.8929,1)" font-size="5.60" text-anchor="end" fill="#000" >0.0</text>
<line x1="444.59999999999997" y1="84.35" x2="447.9" y2="84.35" stroke="#000" stroke-width="0.8"/>
<text transform="translate(441.70,85.80) scale(0.8929,1)" font-size="5.60" text-anchor="end" fill="#000" >0.1</text>
<line x1="444.59999999999997" y1="63.60" x2="447.9" y2="63.60" stroke="#000" stroke-width="0.8"/>
<text transform="translate(441.70,65.05) scale(0.8929,1)" font-size="5.60" text-anchor="end" fill="#000" >0.2</text>
<line x1="444.59999999999997" y1="42.85" x2="447.9" y2="42.85" stroke="#000" stroke-width="0.8"/>
<text transform="translate(441.70,44.30) scale(0.8929,1)" font-size="5.60" text-anchor="end" fill="#000" >0.3</text>
<rect x="448.70" y="100.33" width="2.5" height="4.77" fill="#b70d0d"/>
<line x1="449.95" y1="108.0" x2="449.95" y2="111.0" stroke="#000" stroke-width="0.7"/>
<text transform="translate(451.85,123.4) rotate(-90) scale(0.82,1)" font-size="5.2" fill="#555">A<tspan fill="#e03a3a">C</tspan>A</text>
<rect x="452.71" y="100.33" width="2.5" height="4.77" fill="#b70d0d"/>
<line x1="453.96" y1="108.0" x2="453.96" y2="111.0" stroke="#000" stroke-width="0.7"/>
<text transform="translate(455.86,123.4) rotate(-90) scale(0.82,1)" font-size="5.2" fill="#555">A<tspan fill="#e03a3a">C</tspan>C</text>
<rect x="456.72" y="88.91" width="2.5" height="16.19" fill="#b70d0d"/>
<line x1="457.97" y1="108.0" x2="457.97" y2="111.0" stroke="#000" stroke-width="0.7"/>
<text transform="translate(459.87,123.4) rotate(-90) scale(0.82,1)" font-size="5.2" fill="#555">A<tspan fill="#e03a3a">C</tspan>G</text>
<rect x="460.73" y="102.61" width="2.5" height="2.49" fill="#b70d0d"/>
<line x1="461.98" y1="108.0" x2="461.98" y2="111.0" stroke="#000" stroke-width="0.7"/>
<text transform="translate(463.88,123.4) rotate(-90) scale(0.82,1)" font-size="5.2" fill="#555">A<tspan fill="#e03a3a">C</tspan>T</text>
<rect x="464.74" y="99.29" width="2.5" height="5.81" fill="#b70d0d"/>
<line x1="465.99" y1="108.0" x2="465.99" y2="111.0" stroke="#000" stroke-width="0.7"/>
<text transform="translate(467.89,123.4) rotate(-90) scale(0.82,1)" font-size="5.2" fill="#555">C<tspan fill="#e03a3a">C</tspan>A</text>
<rect x="468.75" y="99.70" width="2.5" height="5.39" fill="#b70d0d"/>
<line x1="470.00" y1="108.0" x2="470.00" y2="111.0" stroke="#000" stroke-width="0.7"/>
<text transform="translate(471.90,123.4) rotate(-90) scale(0.82,1)" font-size="5.2" fill="#555">C<tspan fill="#e03a3a">C</tspan>C</text>
<rect x="472.76" y="91.41" width="2.5" height="13.69" fill="#b70d0d"/>
<line x1="474.01" y1="108.0" x2="474.01" y2="111.0" stroke="#000" stroke-width="0.7"/>
<text transform="translate(475.91,123.4) rotate(-90) scale(0.82,1)" font-size="5.2" fill="#555">C<tspan fill="#e03a3a">C</tspan>G</text>
<rect x="476.77" y="100.33" width="2.5" height="4.77" fill="#b70d0d"/>
<line x1="478.02" y1="108.0" x2="478.02" y2="111.0" stroke="#000" stroke-width="0.7"/>
<text transform="translate(479.92,123.4) rotate(-90) scale(0.82,1)" font-size="5.2" fill="#555">C<tspan fill="#e03a3a">C</tspan>T</text>
<rect x="480.78" y="97.84" width="2.5" height="7.26" fill="#b70d0d"/>
<line x1="482.03" y1="108.0" x2="482.03" y2="111.0" stroke="#000" stroke-width="0.7"/>
<text transform="translate(483.93,123.4) rotate(-90) scale(0.82,1)" font-size="5.2" fill="#555">G<tspan fill="#e03a3a">C</tspan>A</text>
<rect x="484.79" y="95.14" width="2.5" height="9.96" fill="#b70d0d"/>
<line x1="486.04" y1="108.0" x2="486.04" y2="111.0" stroke="#000" stroke-width="0.7"/>
<text transform="translate(487.94,123.4) rotate(-90) scale(0.82,1)" font-size="5.2" fill="#555">G<tspan fill="#e03a3a">C</tspan>C</text>
<rect x="488.80" y="91.82" width="2.5" height="13.28" fill="#b70d0d"/>
<line x1="490.05" y1="108.0" x2="490.05" y2="111.0" stroke="#000" stroke-width="0.7"/>
<text transform="translate(491.95,123.4) rotate(-90) scale(0.82,1)" font-size="5.2" fill="#555">G<tspan fill="#e03a3a">C</tspan>G</text>
<rect x="492.81" y="97.84" width="2.5" height="7.26" fill="#b70d0d"/>
<line x1="494.06" y1="108.0" x2="494.06" y2="111.0" stroke="#000" stroke-width="0.7"/>
<text transform="translate(495.96,123.4) rotate(-90) scale(0.82,1)" font-size="5.2" fill="#555">G<tspan fill="#e03a3a">C</tspan>T</text>
<rect x="496.82" y="101.36" width="2.5" height="3.73" fill="#b70d0d"/>
<line x1="498.07" y1="108.0" x2="498.07" y2="111.0" stroke="#000" stroke-width="0.7"/>
<text transform="translate(499.97,123.4) rotate(-90) scale(0.82,1)" font-size="5.2" fill="#555">T<tspan fill="#e03a3a">C</tspan>A</text>
<rect x="500.83" y="100.33" width="2.5" height="4.77" fill="#b70d0d"/>
<line x1="502.08" y1="108.0" x2="502.08" y2="111.0" stroke="#000" stroke-width="0.7"/>
<text transform="translate(503.98,123.4) rotate(-90) scale(0.82,1)" font-size="5.2" fill="#555">T<tspan fill="#e03a3a">C</tspan>C</text>
<rect x="504.84" y="97.01" width="2.5" height="8.09" fill="#b70d0d"/>
<line x1="506.09" y1="108.0" x2="506.09" y2="111.0" stroke="#000" stroke-width="0.7"/>
<text transform="translate(507.99,123.4) rotate(-90) scale(0.82,1)" font-size="5.2" fill="#555">T<tspan fill="#e03a3a">C</tspan>G</text>
<rect x="508.85" y="101.99" width="2.5" height="3.11" fill="#b70d0d"/>
<line x1="510.10" y1="108.0" x2="510.10" y2="111.0" stroke="#000" stroke-width="0.7"/>
<text transform="translate(512.00,123.4) rotate(-90) scale(0.82,1)" font-size="5.2" fill="#555">T<tspan fill="#e03a3a">C</tspan>T</text>
<rect x="447.9" y="33.3" width="64.3" height="74.7" fill="none" stroke="#000" stroke-width="1.1"/>
<text transform="translate(104.80,160.90) scale(0.8929,1)" font-size="7.39" text-anchor="middle" fill="#000" >MBD4</text>
<rect x="14.9" y="210.3" width="183.2" height="10.899999999999977" rx="5.5" ry="5.5" fill="#fff" stroke="#000" stroke-width="1.1"/>
<rect x="34.8" y="210.3" width="28.5" height="10.899999999999977" fill="#000"/>
<path d="M143.2 210.3H192.6A5.45 5.45 0 0 1 192.6 221.2H143.2Z" fill="#000" stroke="#000" stroke-width="1.1"/>
<text transform="translate(48.70,217.50) scale(0.8929,1)" font-size="5.60" text-anchor="middle" fill="#fff" >MBD</text>
<text transform="translate(170.50,217.70) scale(0.8929,1)" font-size="5.60" text-anchor="middle" fill="#fff" >Glycosylase</text>
<text transform="translate(34.80,229.00) scale(0.8929,1)" font-size="5.60" text-anchor="middle" fill="#000" >76</text>
<text transform="translate(62.40,229.00) scale(0.8929,1)" font-size="5.60" text-anchor="middle" fill="#000" >151</text>
<text transform="translate(143.50,229.00) scale(0.8929,1)" font-size="5.60" text-anchor="middle" fill="#000" >425</text>
<text transform="translate(195.20,229.00) scale(0.8929,1)" font-size="5.60" text-anchor="middle" fill="#000" >580</text>
<line x1="36.4" y1="210.3" x2="36.4" y2="200.4" stroke="#000" stroke-width="0.6"/>
<circle cx="36.4" cy="205.6" r="2.15" fill="#5bb8cf" stroke="#000" stroke-width="0.45"/>
<circle cx="36.4" cy="200.4" r="2.15" fill="#000" stroke="#000" stroke-width="0.45"/>
<text transform="translate(38.20,196.40) rotate(-90) scale(0.8929,1)" font-size="5.60" text-anchor="start" fill="#000" >R83Pfs*3</text>
<line x1="90.8" y1="210.3" x2="90.8" y2="206.1" stroke="#000" stroke-width="0.6"/>
<circle cx="90.8" cy="206.1" r="2.15" fill="#000" stroke="#000" stroke-width="0.45"/>
<text transform="translate(92.60,202.10) rotate(-90) scale(0.8929,1)" font-size="5.60" text-anchor="start" fill="#000" >S255*</text>
<line x1="111.9" y1="210.3" x2="111.9" y2="206.1" stroke="#000" stroke-width="0.6"/>
<circle cx="111.9" cy="206.1" r="2.15" fill="#d40f0f" stroke="#000" stroke-width="0.45"/>
<text transform="translate(113.70,202.10) rotate(-90) scale(0.8929,1)" font-size="5.60" text-anchor="start" fill="#000" >V314Rfs*13</text>
<line x1="149.4" y1="210.3" x2="149.4" y2="206.1" stroke="#000" stroke-width="0.6"/>
<circle cx="149.4" cy="206.1" r="2.15" fill="#000" stroke="#000" stroke-width="0.45"/>
<text transform="translate(151.20,202.10) rotate(-90) scale(0.8929,1)" font-size="5.60" text-anchor="start" fill="#000" >R431*</text>
<line x1="167.4" y1="210.3" x2="167.4" y2="195.7" stroke="#000" stroke-width="0.6"/>
<circle cx="167.4" cy="206.1" r="2.15" fill="#d40f0f" stroke="#000" stroke-width="0.45"/>
<circle cx="167.4" cy="200.9" r="2.15" fill="#e07b26" stroke="#000" stroke-width="0.45"/>
<circle cx="167.4" cy="195.7" r="2.15" fill="#000" stroke="#000" stroke-width="0.45"/>
<text transform="translate(169.20,191.70) rotate(-90) scale(0.8929,1)" font-size="5.60" text-anchor="start" fill="#000" >D521Gfs*2</text>
<line x1="174.8" y1="210.3" x2="174.8" y2="206.1" stroke="#000" stroke-width="0.6"/>
<circle cx="174.8" cy="206.1" r="2.15" fill="#000" stroke="#000" stroke-width="0.45"/>
<text transform="translate(176.60,202.10) rotate(-90) scale(0.8929,1)" font-size="5.60" text-anchor="start" fill="#000" >R546*</text>
<line x1="181.4" y1="210.3" x2="181.4" y2="195.4" stroke="#000" stroke-width="0.6"/>
<circle cx="181.4" cy="200.6" r="2.15" fill="#000" stroke="#000" stroke-width="0.45"/>
<circle cx="181.4" cy="195.4" r="2.15" fill="#000" stroke="#000" stroke-width="0.45"/>
<text transform="translate(183.20,191.40) rotate(-90) scale(0.8929,1)" font-size="5.60" text-anchor="start" fill="#000" >L563*</text>
<line x1="186.6" y1="210.3" x2="186.6" y2="206.1" stroke="#000" stroke-width="0.6"/>
<circle cx="186.6" cy="206.1" r="2.15" fill="#4a9a38" stroke="#000" stroke-width="0.45"/>
<text transform="translate(188.40,202.10) rotate(-90) scale(0.8929,1)" font-size="5.60" text-anchor="start" fill="#000" >delH567</text>
<line x1="12" y1="233.9" x2="199.8" y2="233.9" stroke="#000" stroke-width="1.3"/>
<line x1="15.2" y1="233.9" x2="15.2" y2="236.6" stroke="#000" stroke-width="0.8"/>
<text transform="translate(15.20,244.00) scale(0.8929,1)" font-size="5.49" text-anchor="middle" fill="#000" >0</text>
<line x1="45.5" y1="233.9" x2="45.5" y2="236.6" stroke="#000" stroke-width="0.8"/>
<text transform="translate(45.50,244.00) scale(0.8929,1)" font-size="5.49" text-anchor="middle" fill="#000" >100</text>
<line x1="75.8" y1="233.9" x2="75.8" y2="236.6" stroke="#000" stroke-width="0.8"/>
<text transform="translate(75.80,244.00) scale(0.8929,1)" font-size="5.49" text-anchor="middle" fill="#000" >200</text>
<line x1="106.1" y1="233.9" x2="106.1" y2="236.6" stroke="#000" stroke-width="0.8"/>
<text transform="translate(106.10,244.00) scale(0.8929,1)" font-size="5.49" text-anchor="middle" fill="#000" >300</text>
<line x1="136.4" y1="233.9" x2="136.4" y2="236.6" stroke="#000" stroke-width="0.8"/>
<text transform="translate(136.40,244.00) scale(0.8929,1)" font-size="5.49" text-anchor="middle" fill="#000" >400</text>
<line x1="166.7" y1="233.9" x2="166.7" y2="236.6" stroke="#000" stroke-width="0.8"/>
<text transform="translate(166.70,244.00) scale(0.8929,1)" font-size="5.49" text-anchor="middle" fill="#000" >500</text>
<line x1="197.1" y1="233.9" x2="197.1" y2="236.6" stroke="#000" stroke-width="0.8"/>
<text transform="translate(197.10,244.00) scale(0.8929,1)" font-size="5.49" text-anchor="middle" fill="#000" >580</text>
<circle cx="21.3" cy="251.4" r="2.2" fill="#4a9a38" stroke="#000" stroke-width="0.45"/>
<text transform="translate(26.30,252.90) scale(0.8929,1)" font-size="4.37" text-anchor="start" fill="#000" >EMC-AML-1</text>
<circle cx="58.8" cy="251.4" r="2.2" fill="#d40f0f" stroke="#000" stroke-width="0.45"/>
<text transform="translate(63.80,252.90) scale(0.8929,1)" font-size="4.37" text-anchor="start" fill="#000" >WEHI-AML-1&amp;2</text>
<circle cx="103.2" cy="251.4" r="2.2" fill="#e07b26" stroke="#000" stroke-width="0.45"/>
<text transform="translate(108.20,252.90) scale(0.8929,1)" font-size="4.37" text-anchor="start" fill="#000" >UVM-1</text>
<circle cx="130.7" cy="251.4" r="2.2" fill="#5bb8cf" stroke="#000" stroke-width="0.45"/>
<text transform="translate(135.70,252.90) scale(0.8929,1)" font-size="4.37" text-anchor="start" fill="#000" >GBM-1</text>
<circle cx="157.1" cy="251.4" r="2.2" fill="#000" stroke="#000" stroke-width="0.45"/>
<text transform="translate(162.10,252.90) scale(0.8929,1)" font-size="4.37" text-anchor="start" fill="#000" >Other TCGA</text>
<text transform="translate(57.40,261.30) scale(0.8929,1)" font-size="5.54" text-anchor="middle" fill="#000" >500nM MBD4 AA 430-580</text>
<text transform="translate(135.00,261.30) scale(0.8929,1)" font-size="5.54" text-anchor="middle" fill="#000" >500nM MBD4 Full Length</text>
<text transform="translate(187.00,261.30) scale(0.8929,1)" font-size="5.54" text-anchor="middle" fill="#000" >Control</text>
<line x1="20.8" y1="265.6" x2="93.8" y2="265.6" stroke="#000" stroke-width="0.9"/>
<line x1="98.3" y1="265.6" x2="171.5" y2="265.6" stroke="#000" stroke-width="0.9"/>
<line x1="174.5" y1="265.6" x2="199.4" y2="265.6" stroke="#000" stroke-width="0.9"/>
<text transform="translate(30.00,273.00) scale(0.8929,1)" font-size="5.60" text-anchor="middle" fill="#000" >WT</text>
<text transform="translate(54.00,273.00) scale(0.8929,1)" font-size="5.60" text-anchor="middle" fill="#000" >delH567</text>
<text transform="translate(80.60,273.00) scale(0.8929,1)" font-size="5.60" text-anchor="middle" fill="#000" >D560A</text>
<text transform="translate(108.50,273.00) scale(0.8929,1)" font-size="5.60" text-anchor="middle" fill="#000" >WT</text>
<text transform="translate(136.00,273.00) scale(0.8929,1)" font-size="5.60" text-anchor="middle" fill="#000" >delH567</text>
<text transform="translate(160.30,273.00) scale(0.8929,1)" font-size="5.60" text-anchor="middle" fill="#000" >D560A</text>
<text transform="translate(184.60,273.00) scale(0.8929,1)" font-size="5.60" text-anchor="middle" fill="#000" >No MBD4</text>
<text transform="translate(8.80,294.40) scale(0.8929,1)" font-size="5.60" text-anchor="middle" fill="#333" >S</text>
<text transform="translate(8.80,327.40) scale(0.8929,1)" font-size="5.60" text-anchor="middle" fill="#333" >P</text>
<defs><filter id="bl1" x="-50%" y="-50%" width="200%" height="200%"><feGaussianBlur stdDeviation="0.75"/></filter><filter id="bl2" x="-50%" y="-50%" width="200%" height="200%"><feGaussianBlur stdDeviation="1.5"/></filter><filter id="bl3" x="-50%" y="-50%" width="200%" height="200%"><feGaussianBlur stdDeviation="0.9"/></filter><clipPath id="gclip"><rect x="13.5" y="278.0" width="189.0" height="59.69999999999999"/></clipPath></defs>
<g clip-path="url(#gclip)">
<rect x="13.5" y="278.0" width="189.0" height="59.69999999999999" fill="#f8f8f8"/>
<g filter="url(#bl2)">
<rect x="20.0" y="279" width="18.3" height="60" fill="#eeeeee"/>
<rect x="45.4" y="279" width="18.89999999999999" height="60" fill="#eeeeee"/>
<rect x="72.39999999999999" y="279" width="19.000000000000007" height="60" fill="#eeeeee"/>
<rect x="98.39999999999999" y="279" width="19.6" height="60" fill="#eeeeee"/>
<rect x="125.2" y="279" width="19.9" height="60" fill="#eeeeee"/>
<rect x="151.60000000000002" y="279" width="19.4" height="60" fill="#eeeeee"/>
<rect x="177.4" y="279" width="19.600000000000016" height="60" fill="#eeeeee"/>
</g>
<path d="M20.5 297 C20.5 308 21 316 23 322 L37.5 322 L37.5 297 Z" fill="#e8e8e8" filter="url(#bl2)"/>
<g filter="url(#bl1)" fill="#000">
<path d="M19.8 279 L21.4 279 C21.4 283 22 286 25 287.3 C29 288 34 287.8 37.5 288 C39 289 39.2 294 38.6 296.2 C37 297.8 35 297.6 33 297.6 C30 297.2 26 297.4 22 297 C20.4 296.3 19.8 294 19.9 291 Z"/>
<path d="M45.8 288 C50 287.4 58 287.6 63.6 287.8 C65.2 289 65.3 295 64.4 296.6 C58 297.4 50 297.4 46 296.8 C45 294.5 45 290.5 45.8 288 Z"/>
<path d="M72.8 287.5 C78 287 86 287.2 91 287.5 C92.4 289 92.4 294.5 91.4 296.2 C86 297 78 297 72.8 296.4 C71.8 294 71.8 290 72.8 287.5 Z"/>
<path d="M98.6 287.4 C100.2 286.4 101.5 286.8 103 288.9 C106 289.9 110 289.9 113 288.2 C115 286.6 117 286.2 118 287 C119 289 119 293.5 118.2 295.7 C115 296.4 112 296.2 110 296.4 C106 297.7 103 297.8 100.5 297 C98.3 296.2 98.1 293 98.6 287.4 Z"/>
<path d="M125.6 288 C130 287.2 138 287.4 142 286.8 C143.2 286.2 143.8 285.2 144.2 283.8 L145.2 283.8 C145.6 287 145.6 293 145.1 296 C140 296.8 130 297 125.8 296.4 C124.8 294 124.8 290.5 125.6 288 Z"/>
<path d="M151.7 290.2 C153 289.5 155 290.2 157 291.7 C160 291.7 163 289.8 166 288.2 C168 287.2 169.5 285.2 170.4 283.2 L171.4 283.5 C171.8 287 171.8 291 171.3 295 C168 295.7 165 295.4 162 296.3 C159 297.3 156 298 153.3 297.7 C151.4 297 151.2 293 151.7 290.2 Z"/>
<path d="M177.9 289.8 C181 289.2 186 289 190 288.8 C192 288.3 193.5 286.8 194.5 284 C195 281 195.3 279 195.6 277.8 L197.3 278 C197.6 283 197.6 290 197.1 296.2 C192 297 184 297.2 178 296.7 C177.1 294.5 177.1 292 177.9 289.8 Z"/>
</g>
<line x1="45.6" y1="279" x2="45.6" y2="288.5" stroke="#b8b8b8" stroke-width="0.6"/>
<line x1="72.6" y1="279" x2="72.6" y2="288" stroke="#b8b8b8" stroke-width="0.6"/>
<line x1="144.7" y1="279" x2="144.7" y2="285" stroke="#b8b8b8" stroke-width="0.6"/>
<line x1="170.9" y1="279" x2="170.9" y2="284.5" stroke="#b8b8b8" stroke-width="0.6"/>
<line x1="98.5" y1="279" x2="98.5" y2="288" stroke="#b8b8b8" stroke-width="0.6"/>
<path d="M21.8 323 C26 322.6 32 323.4 37.4 324.4 L37.4 328.4 C32 328.4 26 327.8 22 327.6 Z" fill="#777" filter="url(#bl2)"/>
<path d="M20.8 300 C20.8 310 21.2 318 22.6 323.5" fill="none" stroke="#c8c8c8" stroke-width="1.6" filter="url(#bl3)"/>
<path d="M22.2 323.5 C25 323.1 30 323.6 34 324.6 L34 327 C30 326.9 25 326.6 22.4 326.5 Z" fill="#1e1e1e" filter="url(#bl1)"/>
<path d="M100 324.2 C102 325.5 103.5 326.2 105 326 C107 325.5 108 324.2 110 324.1 C112 324 114 324.3 116.5 324.5" fill="none" stroke="#7f7f7f" stroke-width="2.6" filter="url(#bl3)"/>
</g>
<rect x="13.5" y="278.0" width="189.0" height="59.69999999999999" fill="none" stroke="#606060" stroke-width="1.35"/>
<defs><clipPath id="dclip"><rect x="243.6" y="165.0" width="244.8" height="162.4"/></clipPath></defs>
<line x1="248" y1="200.5" x2="488.4" y2="200.5" stroke="#c8c8c8" stroke-width="0.8" stroke-dasharray="9.6 5.7"/>
<line x1="248" y1="242.2" x2="488.4" y2="242.2" stroke="#c8c8c8" stroke-width="0.8" stroke-dasharray="9.6 5.7"/>
<text transform="translate(417.60,197.60) scale(0.8929,1)" font-size="4.48" text-anchor="middle" fill="#444" >0.1%</text>
<text transform="translate(467.00,239.50) scale(0.8929,1)" font-size="4.48" text-anchor="middle" fill="#444" >1%</text>
<g clip-path="url(#dclip)">
<path d="M305.5 296.8h0M296.0 301.4h0M315.2 300.6h0M271.4 297.5h0M317.4 310.5h0M313.5 300.9h0M302.3 292.2h0M277.3 305.3h0M270.4 317.2h0M282.9 318.7h0M321.3 311.3h0M312.0 306.3h0M315.0 295.2h0M290.2 309.2h0M325.1 311.3h0M289.4 321.3h0M314.5 311.1h0M320.0 308.6h0M322.5 315.5h0M316.1 318.9h0M300.3 301.6h0M304.6 310.4h0M316.0 313.2h0M295.6 306.2h0M301.8 299.8h0M337.6 316.8h0M313.3 299.1h0M328.0 314.4h0M328.5 318.7h0M281.0 310.1h0M342.0 316.8h0M317.9 298.5h0M301.4 307.6h0M310.6 312.5h0M281.5 288.4h0M301.3 315.9h0M314.4 292.4h0M279.0 297.2h0M289.9 315.2h0M289.8 311.1h0M308.3 304.3h0M321.6 304.8h0M266.3 316.6h0M294.5 300.3h0M329.0 299.8h0M292.1 306.2h0M284.7 306.5h0M309.3 311.1h0M303.8 305.0h0M315.6 309.8h0M341.5 301.6h0M290.0 305.0h0M315.3 303.0h0M308.2 318.1h0M325.8 315.0h0M296.6 298.6h0M310.8 301.7h0M296.5 308.5h0M312.4 304.6h0M280.7 295.7h0M291.5 315.5h0M310.2 308.4h0M289.6 290.3h0M283.7 308.5h0M337.7 315.6h0M315.1 317.1h0M323.4 303.0h0M322.2 301.8h0M297.4 313.5h0M288.0 310.4h0M285.1 311.6h0M322.4 307.8h0M296.8 310.1h0M262.7 305.2h0M292.3 308.1h0M288.0 303.8h0M304.4 306.7h0M270.2 300.9h0M296.8 311.8h0M289.1 310.8h0M301.0 306.2h0M336.6 304.4h0M342.0 305.7h0M293.8 305.2h0M311.7 308.1h0M282.0 302.5h0M283.0 305.7h0M283.4 293.2h0M270.4 317.2h0M316.7 309.4h0M313.7 307.1h0M307.7 298.5h0M285.9 311.9h0M311.3 308.7h0M296.1 308.2h0M309.9 314.3h0M295.4 314.6h0M298.0 304.6h0M312.3 284.3h0M271.8 321.3h0M304.3 295.6h0M308.0 290.3h0M304.4 309.0h0M307.4 310.3h0M353.2 298.6h0M289.1 296.2h0M340.2 299.6h0M328.4 301.6h0M308.4 311.7h0M294.7 312.6h0M342.5 298.0h0M324.3 309.1h0M260.6 298.1h0M334.2 294.6h0M265.4 306.7h0M322.7 312.3h0M277.6 308.7h0M311.2 298.4h0M310.6 304.7h0M314.2 312.6h0M336.6 304.2h0M307.0 302.5h0M282.2 310.5h0M334.0 320.4h0M295.3 297.6h0M311.5 290.0h0M312.8 308.6h0M314.9 304.5h0M304.6 306.6h0M303.9 306.5h0M323.2 298.5h0M297.4 307.2h0M306.7 315.7h0M279.3 306.5h0M282.1 310.5h0M274.5 293.3h0M277.6 302.5h0M296.3 306.6h0M328.9 301.1h0M322.2 314.1h0M307.5 289.6h0M296.5 314.9h0M298.7 309.2h0M335.7 308.0h0M270.4 309.1h0M348.8 301.3h0M259.5 309.2h0M292.0 302.2h0M276.5 291.8h0M309.4 312.0h0M277.2 302.1h0M282.5 289.6h0M267.0 303.0h0M311.1 313.5h0M291.4 292.3h0M299.0 294.7h0M298.1 305.9h0M318.5 307.9h0M286.2 309.7h0M311.3 299.4h0M318.7 301.3h0M323.9 304.8h0M313.8 308.1h0M282.1 294.4h0M301.8 314.6h0M328.3 297.1h0M290.8 309.4h0M325.6 301.6h0M313.9 313.4h0M288.7 306.4h0M315.4 295.8h0M294.8 309.3h0M295.3 285.7h0M324.5 302.2h0M324.5 311.2h0M329.0 309.6h0M305.0 311.7h0M307.8 299.6h0M314.2 312.6h0M308.1 311.6h0M283.1 308.3h0M286.4 305.1h0M302.4 298.8h0M284.7 311.4h0M319.1 315.5h0M315.7 315.5h0M333.2 313.0h0M271.7 313.6h0M313.6 316.9h0M312.4 289.9h0M307.2 309.0h0M334.9 315.1h0M311.5 315.5h0M340.7 314.1h0M306.3 306.3h0M308.9 308.9h0M328.4 302.0h0M334.7 314.2h0M301.7 295.7h0M304.5 309.0h0M313.5 306.3h0M298.2 306.1h0M293.1 306.6h0M346.2 309.1h0M283.6 313.6h0M312.2 290.6h0M334.6 320.9h0M323.7 303.9h0M325.6 316.1h0M331.5 312.4h0M320.3 315.7h0M282.9 300.5h0M296.8 313.4h0M270.2 313.2h0M317.6 315.1h0M299.3 312.5h0M335.1 304.1h0M292.3 306.4h0M312.0 299.9h0M304.1 305.1h0M298.1 309.1h0M312.4 310.3h0M305.3 311.8h0M288.5 312.7h0M302.5 310.9h0M294.2 305.5h0M294.8 293.6h0M332.1 294.7h0M313.2 305.2h0M306.6 298.5h0M285.7 300.1h0M294.7 314.4h0M322.9 317.5h0M302.6 304.3h0M278.4 302.8h0M298.1 309.1h0M318.8 301.3h0M287.5 316.9h0M307.4 304.8h0M300.4 304.4h0M334.6 310.3h0M329.3 304.1h0M326.8 311.9h0M284.4 308.9h0M305.2 308.1h0M286.4 319.0h0M285.6 321.3h0M293.0 317.6h0M289.5 315.1h0M326.4 312.8h0M287.0 303.0h0M290.2 309.2h0M279.3 312.4h0M344.7 296.5h0M316.8 320.5h0M280.5 318.5h0M298.4 301.7h0M309.6 311.2h0M302.5 295.3h0M254.1 285.4h0M313.5 308.0h0M314.2 304.0h0M306.3 306.5h0M284.4 306.5h0M316.6 303.2h0M352.3 300.9h0M306.0 299.3h0M335.8 306.0h0M302.2 317.4h0M305.4 306.0h0M278.1 309.0h0M331.6 299.9h0M304.1 295.4h0M314.6 302.6h0M300.3 295.9h0M310.0 304.1h0M313.6 307.1h0M277.7 311.9h0M309.2 311.0h0M304.0 295.4h0M310.8 301.7h0M266.9 307.6h0M327.9 293.9h0M333.8 300.1h0M307.0 308.9h0M280.6 295.7h0M311.3 304.0h0M329.2 315.2h0M275.7 291.2h0M306.3 309.8h0M285.0 311.6h0M278.5 321.3h0M301.2 306.4h0M320.6 295.3h0M279.4 297.7h0M317.4 311.3h0M319.2 301.0h0M318.5 311.6h0M323.7 308.9h0M312.4 302.0h0M321.8 308.7h0M315.1 308.7h0M345.7 294.8h0M316.2 314.0h0M287.9 308.2h0M344.5 304.3h0M297.7 302.7h0M279.9 318.4h0M318.4 304.3h0M268.0 321.3h0M293.7 308.9h0M311.8 308.0h0M289.2 304.6h0M303.8 292.4h0M307.2 314.7h0M314.7 305.1h0M312.2 307.4h0M244.8 301.2h0M304.1 312.6h0M329.8 321.3h0M299.2 300.6h0M318.9 308.1h0M286.2 316.7h0M331.1 307.0h0M333.7 298.7h0M315.7 305.7h0M308.5 305.5h0M304.8 300.6h0M307.4 311.4h0M312.3 302.7h0M313.9 302.9h0M301.9 308.0h0M304.6 308.0h0M338.6 315.1h0M317.1 302.5h0M319.2 303.1h0M287.0 309.9h0M295.1 299.3h0M292.1 311.9h0M314.9 289.3h0M301.8 315.9h0M301.7 306.5h0M335.7 301.2h0M309.2 305.9h0M322.7 309.1h0M297.6 307.2h0M283.6 298.3h0M305.5 309.5h0M307.0 304.7h0M302.5 314.7h0M310.4 302.6h0M286.1 314.2h0M323.7 302.8h0M300.4 303.2h0M318.2 285.7h0M295.7 306.2h0M296.5 305.1h0M309.0 311.0h0M270.2 305.0h0M296.0 306.6h0M302.8 304.6h0M285.1 299.4h0M296.6 308.3h0M308.8 303.5h0M303.5 312.5h0M301.5 309.2h0M289.2 296.2h0M293.4 306.9h0M314.9 303.5h0M321.2 299.2h0M311.9 307.3h0M293.2 306.8h0M272.8 306.2h0M302.4 310.7h0M286.1 309.5h0M285.2 287.3h0M293.0 312.1h0M260.3 309.7h0M277.7 293.0h0M304.3 306.5h0M312.6 307.7h0M296.5 300.5h0M299.3 314.0h0M284.8 304.0h0M320.0 305.3h0M318.2 294.3h0M306.4 305.3h0M305.3 315.4h0M316.3 314.8h0M309.8 306.1h0M289.1 294.1h0M314.6 300.0h0M316.0 297.8h0M304.0 306.5h0M330.8 302.7h0M315.4 315.5h0M302.5 301.6h0M289.5 311.0h0M297.5 308.9h0M320.1 314.3h0M298.4 304.7h0M302.8 311.0h0M302.9 302.0h0M339.0 314.1h0M290.8 303.5h0M324.7 317.1h0M334.2 306.4h0M288.3 321.3h0M302.9 308.3h0M271.1 309.4h0M322.9 297.8h0M308.1 300.8h0M299.3 305.2h0M267.0 303.0h0M285.0 306.7h0M312.8 313.2h0M319.2 303.7h0M297.2 305.4h0M295.6 319.6h0M277.7 299.3h0M309.6 316.2h0M316.6 298.3h0M290.5 321.3h0M311.0 296.0h0M295.2 311.1h0M271.8 313.6h0M333.5 309.2h0M305.2 315.4h0M287.3 301.1h0M295.4 316.2h0M306.1 315.5h0M298.0 298.2h0M316.8 299.3h0M327.5 315.9h0M310.9 311.6h0M275.8 318.0h0M283.8 303.4h0M317.1 310.4h0M329.1 305.0h0M285.6 314.2h0M308.5 302.1h0M299.8 308.3h0M321.5 314.6h0M296.3 304.9h0M278.3 305.9h0M282.6 321.3h0M283.6 300.9h0M331.8 308.8h0M326.4 308.3h0M320.5 306.8h0M331.1 303.7h0M250.0 296.2h0M319.4 315.5h0M316.9 303.2h0M330.7 303.0h0M311.7 309.9h0M309.5 301.8h0M313.6 316.9h0M320.2 301.9h0M326.5 313.5h0M276.5 285.3h0M325.0 290.7h0M317.5 305.1h0M310.8 298.9h0M336.1 310.1h0M296.5 310.0h0M295.1 301.0h0M311.5 311.8h0M307.5 294.0h0M319.7 304.9h0M297.0 313.3h0M294.0 316.0h0M302.5 303.0h0M320.7 306.8h0M352.8 300.9h0M289.5 294.5h0M297.3 307.2h0M301.2 314.5h0M303.5 317.5h0M293.1 315.8h0M296.6 310.1h0M291.2 295.9h0M296.2 300.0h0M307.4 290.5h0M312.0 298.0h0M283.2 300.5h0M305.2 304.7h0M287.9 312.6h0M303.9 316.3h0M317.1 308.9h0M313.4 308.0h0M296.8 292.7h0M313.0 308.6h0M280.7 290.0h0M339.5 317.8h0M318.4 318.3h0M330.3 300.7h0M282.4 318.7h0M337.2 301.1h0M316.0 305.9h0M330.6 315.0h0M312.1 302.6h0M308.8 304.7h0M324.2 298.4h0M333.1 319.5h0M330.3 306.5h0M301.6 313.2h0M283.6 303.4h0M281.8 313.1h0M304.0 310.1h0M286.6 293.5h0M296.0 319.6h0M331.5 306.8h0M337.0 305.0h0M297.0 313.4h0M308.8 302.3h0M276.7 301.6h0M308.8 307.8h0M280.6 298.6h0M296.8 319.7h0M297.1 302.3h0M292.4 308.1h0M309.7 299.9h0M307.4 306.0h0M322.4 307.8h0M285.7 297.8h0M327.3 306.1h0M299.4 296.7h0M280.3 309.7h0M322.2 305.1h0M309.4 303.0h0M301.8 291.7h0M314.3 311.9h0M311.4 313.6h0M293.7 315.9h0M297.8 304.2h0M360.3 312.3h0M287.1 305.6h0M302.4 293.5h0M308.3 305.3h0M313.2 307.0h0M326.1 312.7h0M299.5 312.5h0M297.3 300.9h0M300.0 305.7h0M283.0 308.3h0M310.1 310.2h0M290.8 319.3h0M327.3 307.8h0M319.7 307.1h0M281.7 291.2h0M285.9 309.5h0M342.0 321.3h0M314.9 316.3h0M306.8 306.8h0M311.0 310.6h0M306.3 310.9h0M333.3 302.0h0M316.9 310.3h0M305.9 313.2h0M325.9 303.7h0M319.2 309.7h0M306.1 315.5h0M282.2 313.2h0M309.4 296.9h0M297.1 313.5h0M309.2 311.0h0M279.1 303.2h0M332.7 296.1h0M298.5 313.8h0M281.2 299.0h0M316.2 308.3h0M304.2 296.8h0M289.9 313.2h0M293.8 312.4h0M309.4 305.9h0M304.5 303.1h0M312.0 306.4h0M322.3 298.4h0M313.8 308.2h0M292.3 302.7h0M308.7 300.2h0M303.5 305.0h0M324.2 305.4h0M304.3 313.9h0M313.0 311.4h0M311.1 305.8h0M352.6 303.5h0M328.9 306.0h0M305.9 292.1h0M333.1 309.3h0M308.2 297.8h0M324.3 302.5h0M301.4 306.2h0M329.8 315.9h0M304.9 293.6h0M329.1 299.0h0M256.8 321.3h0M277.3 321.3h0M309.6 304.9h0M331.3 315.7h0M308.5 296.9h0M296.1 304.9h0M302.4 304.3h0M307.0 299.1h0M287.5 319.1h0M340.1 305.3h0M323.0 311.2h0M313.6 304.5h0M326.0 308.2h0M275.7 301.2h0M316.4 299.7h0M322.2 309.5h0M302.0 305.3h0M306.1 315.5h0M309.8 317.3h0M307.0 302.2h0M291.2 321.3h0M305.3 310.7h0M293.8 306.9h0M301.7 303.7h0M289.3 302.5h0M307.9 310.5h0M317.1 297.1h0M318.0 310.6h0M281.1 310.1h0M317.3 310.5h0M337.4 306.5h0M328.8 301.7h0M299.8 312.6h0M291.8 306.0h0M305.2 310.5h0M308.0 309.5h0M253.0 291.2h0M305.8 303.9h0M311.0 313.5h0M311.5 307.0h0M313.4 311.5h0M309.4 310.0h0M328.3 313.0h0M311.1 302.9h0M297.8 310.5h0M275.3 297.3h0M301.3 304.9h0M355.4 312.6h0M329.9 306.5h0M326.1 313.9h0M321.2 306.5h0M314.2 310.9h0M288.2 303.8h0M276.6 298.4h0M321.7 309.4h0M301.3 317.2h0M292.0 294.6h0M323.1 310.0h0M300.0 305.7h0M284.7 291.7h0M309.3 298.6h0M311.0 304.9h0M290.1 294.8h0M309.4 294.5h0M319.0 292.9h0M314.3 303.3h0M326.0 301.9h0M299.9 302.8h0M321.8 309.4h0M308.0 305.3h0M265.4 306.7h0M308.9 304.7h0M349.4 303.9h0M300.0 300.0h0M301.2 307.5h0M312.4 306.5h0M310.6 311.5h0M300.4 307.2h0M296.0 303.1h0M314.7 305.0h0M312.1 306.3h0M302.5 301.8h0M313.8 292.6h0M275.4 297.3h0M333.9 310.9h0M280.2 298.1h0M306.2 304.2h0M315.9 295.9h0M332.7 321.3h0M328.4 311.4h0M295.9 304.9h0M300.9 306.0h0M295.0 294.2h0M292.9 299.2h0M288.8 304.3h0M287.8 310.2h0M283.4 321.3h0M312.3 305.7h0M313.0 314.0h0M326.9 306.8h0M298.9 306.5h0M278.9 297.2h0M304.1 310.1h0M313.7 310.7h0M310.8 312.5h0M300.9 312.9h0M293.8 312.4h0M316.3 291.8h0M326.8 310.1h0M281.2 299.0h0M294.4 310.9h0M294.1 305.5h0M320.6 301.4h0M345.8 306.6h0M304.7 300.8h0M303.9 303.9h0M293.6 296.2h0M325.3 319.5h0M282.7 313.4h0M327.4 315.3h0M295.0 309.4h0M346.9 300.4h0M348.4 290.3h0M328.8 315.6h0M330.4 309.1h0M281.2 312.9h0M290.3 307.2h0M338.0 305.6h0M313.3 305.3h0M310.7 306.6h0M280.7 295.7h0M273.9 306.9h0M312.0 306.3h0M325.2 300.9h0M274.1 303.4h0M313.7 308.0h0M285.9 311.9h0M301.4 304.9h0M287.1 303.3h0M321.6 305.2h0M286.3 300.4h0M341.7 307.5h0M285.7 314.2h0M300.7 311.5h0M323.3 316.9h0M309.3 303.9h0M310.7 308.7h0M312.3 307.4h0M304.2 291.9h0M321.3 306.4h0M331.7 308.8h0M350.0 299.8h0M302.7 299.0h0M289.6 296.5h0M287.5 308.0h0M319.5 308.3h0M275.2 307.6h0M307.9 321.3h0M303.9 298.9h0M327.1 314.7h0M334.5 315.0h0M294.6 300.5h0M259.2 291.2h0M286.2 295.8h0M325.9 303.5h0M319.6 311.3h0M294.9 304.2h0M337.5 304.5h0M289.0 300.1h0M261.7 321.3h0M296.6 306.9h0M294.3 303.8h0M295.5 301.2h0M298.7 292.7h0M315.0 312.0h0M292.3 308.1h0M310.4 307.5h0M336.0 299.3h0M284.7 308.9h0M320.6 317.9h0M281.7 302.1h0M279.3 315.4h0M278.9 321.3h0M310.3 304.4h0M330.6 304.8h0M296.8 302.1h0M299.0 313.8h0M297.6 302.7h0M329.7 297.9h0M318.3 306.2h0M311.1 303.1h0M310.7 308.6h0M288.4 310.5h0M310.3 302.6h0M295.4 311.3h0M298.4 292.4h0M306.8 307.8h0M305.7 299.1h0M283.8 306.2h0M288.4 308.4h0M261.3 315.7h0M303.5 299.8h0M347.6 304.0h0M311.5 308.0h0M288.8 306.4h0M318.9 302.2h0M310.9 321.3h0M322.3 312.3h0M326.8 307.3h0M297.5 299.3h0M310.9 289.2h0M313.0 308.6h0M299.3 309.6h0M294.7 319.6h0M276.3 314.7h0M288.1 306.0h0M308.7 303.5h0M325.0 310.6h0M306.5 306.6h0M304.3 296.8h0M310.0 305.1h0M323.2 300.4h0M319.3 298.7h0M314.6 310.2h0M292.8 312.1h0M305.6 306.1h0M307.6 307.0h0M290.1 309.1h0M331.1 311.3h0M307.6 302.9h0M295.4 295.9h0M304.6 301.7h0M279.0 306.2h0M339.7 288.6h0M322.4 301.2h0M312.1 311.1h0M281.8 310.3h0M265.4 311.6h0M244.7 281.1h0M253.1 321.3h0M333.0 301.7h0M324.2 305.0h0M280.9 293.4h0M341.2 304.9h0M320.7 301.4h0M336.9 296.1h0M359.2 306.7h0M303.8 311.3h0M332.5 310.0h0M292.8 290.1h0M323.7 300.8h0M325.2 311.3h0M373.1 308.0h0M316.5 313.3h0M307.1 313.5h0M304.1 312.6h0M290.2 296.9h0M300.8 292.3h0M325.8 318.4h0M311.4 308.8h0M318.0 306.2h0M326.8 304.7h0M315.8 300.0h0M310.7 311.5h0M335.4 312.3h0M306.9 297.9h0M307.4 309.3h0M284.8 309.1h0M307.7 300.6h0M340.0 309.5h0M321.8 305.6h0M323.0 304.8h0M290.7 309.4h0M291.2 303.7h0M299.0 302.1h0M304.0 306.4h0M323.6 316.3h0M356.6 306.8h0M307.0 320.2h0M298.2 319.8h0M277.5 296.2h0M299.2 315.4h0M308.6 321.3h0M314.0 321.3h0M276.1 314.6h0M275.9 318.0h0M286.0 302.5h0M296.6 303.5h0M290.1 317.2h0M286.6 291.6h0M319.3 308.4h0M315.5 293.3h0M290.5 287.1h0M290.9 309.4h0M336.9 303.4h0M305.9 300.3h0M283.7 300.9h0M292.6 286.0h0M310.6 300.8h0M305.5 320.1h0M319.9 303.5h0M267.8 285.8h0M297.6 307.3h0M325.0 312.5h0M294.8 298.8h0M299.1 305.0h0M304.9 311.7h0M329.3 304.0h0M306.8 310.1h0M322.2 303.0h0M340.9 309.8h0M338.1 301.9h0M268.8 299.8h0M316.4 310.1h0M308.4 306.4h0M296.4 288.5h0M287.0 291.6h0M335.5 306.2h0M316.7 307.9h0M292.6 312.0h0M298.7 310.9h0M306.2 306.5h0M277.9 296.2h0M297.0 310.2h0M306.2 294.8h0M311.1 308.8h0M283.1 310.9h0M280.6 315.6h0M290.7 299.5h0M310.3 310.3h0M313.9 300.3h0M318.8 296.4h0M263.7 310.9h0M304.6 293.3h0M293.0 303.1h0M277.3 305.3h0M307.6 297.4h0M309.0 309.9h0M317.0 309.6h0M306.8 293.4h0M306.5 305.4h0M325.9 302.4h0M302.1 301.3h0M284.7 308.9h0M281.0 293.4h0M313.2 295.3h0M297.7 318.2h0M299.6 305.4h0M306.8 287.6h0M299.8 306.9h0M282.9 313.5h0M301.3 304.9h0M287.4 301.4h0M275.3 300.8h0M302.3 313.4h0M304.1 304.0h0M316.8 310.3h0M317.1 315.0h0M302.5 306.9h0M278.7 315.3h0M325.8 310.9h0M300.7 306.1h0M296.4 308.2h0M304.7 309.1h0M291.0 293.9h0M310.1 293.5h0M299.1 313.9h0M296.1 306.6h0M300.0 315.6h0M303.0 309.7h0M300.4 305.8h0M323.6 306.5h0M296.2 305.1h0M348.1 306.6h0M306.1 302.9h0M323.3 303.7h0M295.6 308.1h0M271.1 317.3h0M306.6 315.7h0M285.7 314.2h0M294.7 290.5h0M291.6 300.3h0M330.1 294.7h0M274.5 317.8h0M309.2 301.7h0M325.6 289.5h0M309.6 310.0h0M310.0 309.3h0M296.1 311.5h0M293.1 301.3h0M319.3 306.8h0M305.9 309.8h0M290.9 309.6h0M296.7 321.3h0M287.3 310.1h0M288.5 317.0h0M284.3 316.4h0M306.9 306.8h0M315.7 313.9h0M287.7 296.9h0M305.1 296.2h0M306.9 311.3h0M302.6 320.0h0M298.2 304.6h0M315.9 296.9h0M312.0 306.3h0M310.3 302.6h0M287.9 316.9h0M299.5 314.0h0M294.1 302.0h0M312.4 314.0h0M340.8 304.7h0M305.2 320.1h0M308.4 300.1h0M311.3 308.8h0M260.6 309.7h0M294.0 321.3h0M285.4 287.8h0M292.0 311.9h0M309.8 310.2h0M297.8 304.4h0M336.6 304.9h0M322.0 307.4h0M310.0 288.1h0M323.5 309.5h0M292.8 313.9h0M327.0 307.6h0M292.0 319.4h0M294.0 300.0h0M319.4 300.5h0M273.3 299.2h0M282.1 315.9h0M316.3 310.9h0M325.0 303.7h0M300.8 306.0h0M306.7 304.3h0M301.8 302.5h0M314.9 309.6h0M313.2 313.3h0M274.7 303.8h0M281.5 310.3h0M302.5 309.6h0M311.0 303.1h0M342.4 307.3h0M292.4 312.0h0M295.3 309.4h0M291.3 311.5h0M287.4 310.2h0M316.8 301.7h0M311.4 305.1h0M326.1 306.5h0M310.1 310.3h0M311.3 315.5h0M271.6 317.4h0M307.8 309.3h0M269.5 321.3h0M306.2 296.0h0M302.9 313.5h0M299.7 308.4h0M296.3 303.5h0M281.4 307.6h0M323.5 317.6h0M303.7 297.4h0M289.9 319.3h0M300.7 299.2h0M296.0 311.4h0M323.7 311.4h0M318.3 310.8h0M288.2 297.3h0M283.9 306.2h0M321.1 315.8h0M287.1 310.1h0M302.5 317.4h0M283.9 301.2h0M276.7 295.1h0M311.4 311.7h0M302.8 316.1h0M289.5 308.9h0M291.8 309.9h0M306.8 308.8h0M282.2 297.1h0M294.4 293.3h0M310.5 310.4h0M277.7 305.6h0M300.4 317.1h0M293.7 296.2h0M292.5 302.7h0M307.2 292.3h0M329.3 308.1h0M283.6 300.9h0M268.7 312.7h0M314.0 299.5h0M251.4 289.6h0M295.6 306.4h0M287.4 301.4h0M293.0 304.8h0M312.0 306.3h0M297.1 308.6h0M320.9 309.8h0M286.9 301.1h0M315.8 300.7h0M308.1 305.2h0M305.0 315.3h0M297.2 297.5h0M311.0 302.9h0M295.7 313.0h0M326.6 298.3h0M335.2 310.6h0M289.3 306.6h0M306.4 309.9h0M293.7 316.0h0M328.1 302.3h0M274.1 317.7h0M312.8 314.1h0M302.3 302.8h0M294.8 307.6h0M314.8 304.3h0M313.4 306.9h0M298.7 310.9h0M323.1 309.3h0M273.2 321.3h0M299.4 309.7h0M298.5 313.8h0M278.8 309.2h0M323.0 291.4h0M307.6 300.7h0M285.7 306.9h0M279.0 315.3h0M264.5 316.3h0M329.7 306.4h0M334.8 302.5h0M312.7 293.7h0M330.2 295.0h0M312.3 310.2h0M338.6 306.7h0M304.2 311.4h0M299.8 309.7h0M337.6 303.1h0M294.1 308.9h0M296.4 303.5h0M301.2 302.1h0M291.0 317.3h0M281.2 304.6h0M304.6 309.2h0M275.1 307.6h0M299.5 297.9h0M316.2 293.2h0M318.1 293.4h0M309.4 310.0h0M327.0 299.9h0M335.0 305.4h0M278.4 293.6h0M334.5 299.2h0M291.6 311.8h0M314.1 301.4h0M317.9 303.8h0M325.8 308.6h0M299.4 311.1h0M279.1 315.3h0M305.5 303.6h0M281.3 293.4h0M287.1 310.1h0M323.7 312.1h0M300.2 294.3h0M287.3 316.8h0M324.0 313.4h0M317.1 308.0h0M289.0 294.1h0M309.9 305.1h0M257.0 314.7h0M331.1 297.7h0M301.4 299.6h0M301.7 312.0h0M305.8 308.5h0M318.9 306.6h0M307.3 299.1h0M308.0 310.6h0M322.1 311.5h0M298.3 321.3h0M322.9 309.2h0M324.3 311.5h0M299.7 301.0h0M295.8 309.7h0M298.3 307.7h0M318.3 310.9h0M317.0 309.5h0M311.8 305.2h0M313.5 309.0h0M345.4 306.8h0M327.9 300.1h0M301.3 295.3h0M335.9 297.5h0M287.0 300.8h0M303.6 299.8h0M310.6 310.5h0M286.3 288.8h0M307.8 305.0h0M272.8 310.0h0M304.0 307.6h0M283.8 318.7h0M272.0 313.6h0M332.1 302.3h0M283.4 306.0h0M315.5 298.4h0M308.8 303.5h0M290.9 307.4h0M326.1 304.9h0M320.4 295.4h0M286.8 319.0h0M296.9 310.2h0M294.4 305.5h0M254.4 321.3h0M310.4 313.3h0M315.8 308.2h0M291.6 309.7h0M331.0 314.1h0M306.1 297.1h0M287.5 305.8h0M296.8 310.1h0M335.0 296.0h0M336.8 296.4h0M308.6 311.9h0M303.7 293.7h0M307.6 298.2h0M337.1 298.9h0M332.7 308.2h0M321.2 311.9h0M295.6 307.9h0M314.9 297.9h0M312.3 306.6h0M313.1 295.3h0M316.8 306.2h0M301.3 294.1h0M293.9 310.7h0M303.8 316.3h0M309.2 302.7h0M298.7 309.4h0M314.9 310.4h0M318.3 308.5h0M322.4 302.0h0M311.1 307.8h0M293.2 301.3h0M284.9 301.9h0M315.4 302.3h0M280.2 309.7h0M302.3 300.3h0M309.1 314.1h0M294.9 307.6h0M306.2 310.9h0M293.1 299.5h0M295.0 302.5h0M315.1 304.6h0M277.7 318.2h0M305.8 305.1h0M300.6 306.0h0M297.7 294.9h0M296.2 300.0h0M319.0 312.6h0M288.2 303.8h0M330.4 308.2h0M308.1 303.0h0M316.5 315.7h0M311.6 304.1h0M287.3 303.3h0M300.0 297.1h0M295.4 306.1h0M254.5 292.6h0M286.3 309.7h0M313.6 320.4h0M301.5 301.1h0M300.1 321.3h0M301.9 318.6h0M296.5 305.1h0M336.7 311.6h0M300.9 308.9h0M320.5 314.4h0M311.1 312.7h0M313.6 303.7h0M304.8 302.2h0M283.8 306.0h0M285.1 311.6h0M272.6 294.9h0M285.4 299.8h0M312.3 313.0h0M275.8 297.9h0M281.4 304.9h0M293.0 306.6h0M335.0 313.8h0M328.8 301.8h0M337.6 315.6h0M284.1 316.3h0M312.6 310.3h0M303.4 306.0h0M315.6 301.5h0M294.8 304.2h0M299.1 309.6h0M288.1 312.6h0M319.1 305.4h0M344.1 308.4h0M286.2 305.1h0M312.8 313.2h0M320.3 312.2h0M322.1 306.8h0M292.9 302.9h0M298.8 303.4h0M340.6 304.0h0M303.1 314.9h0M285.5 299.8h0M316.7 314.9h0M313.6 299.4h0M297.4 302.7h0M311.1 305.0h0M302.4 293.8h0M301.5 309.1h0M350.8 310.7h0M305.5 302.6h0M322.8 299.6h0M311.9 308.1h0M304.9 298.4h0M299.0 321.3h0M302.4 299.0h0M347.8 314.2h0M296.3 313.1h0M287.7 294.7h0M321.9 311.3h0M314.6 301.0h0M301.5 306.5h0M326.7 316.3h0M301.8 311.9h0M324.4 308.6h0M310.0 318.3h0M310.2 296.3h0M299.6 306.8h0M301.3 300.8h0M332.5 294.3h0M300.6 314.3h0M308.5 310.7h0M305.6 301.3h0M273.5 302.9h0M300.0 309.9h0M303.3 309.9h0M322.3 309.6h0M308.5 300.1h0M317.1 295.5h0M297.4 304.0h0M327.6 295.4h0M304.2 315.2h0M275.3 290.5h0M285.6 299.8h0M336.6 296.6h0M296.3 311.6h0M291.8 307.9h0M304.3 300.3h0M319.1 314.7h0M286.4 302.8h0M279.9 295.2h0M303.2 302.0h0M311.5 305.2h0M323.8 313.3h0M308.6 309.8h0M303.4 311.1h0M314.6 321.3h0M299.2 302.3h0M295.1 312.8h0M317.5 318.2h0M294.0 321.3h0M294.4 303.8h0M307.8 311.5h0M316.9 296.1h0M323.9 302.4h0M332.0 314.3h0M349.3 301.7h0M294.8 312.7h0M308.9 313.0h0M311.6 290.2h0M274.7 314.3h0M294.5 302.2h0M294.3 309.0h0M297.3 310.2h0M303.7 303.7h0M282.2 294.4h0M310.4 314.4h0M305.5 308.4h0M321.0 299.0h0M321.6 316.6h0M307.2 303.6h0M312.9 295.1h0M297.8 315.1h0M274.5 307.3h0M295.4 321.3h0M317.7 314.4h0M291.9 306.0h0M293.5 315.9h0M335.8 303.9h0M302.1 302.6h0M333.8 307.9h0M330.4 313.5h0M317.5 299.0h0M326.1 301.4h0M284.2 306.2h0M325.9 317.8h0M293.8 307.1h0M290.6 299.2h0M311.1 308.7h0M322.4 305.6h0M337.4 310.9h0M317.6 302.9h0M304.7 317.7h0M278.5 318.2h0M309.4 312.1h0M332.4 309.5h0M282.1 313.2h0M367.4 310.3h0M324.4 308.0h0M298.5 306.4h0M299.5 300.8h0M313.5 303.5h0M306.6 310.0h0M274.6 307.3h0M298.2 289.0h0M300.7 318.5h0M300.2 314.2h0M293.8 305.2h0M315.6 310.5h0M326.0 294.9h0M324.1 304.3h0M303.2 311.1h0M293.0 308.6h0M279.5 300.6h0M329.9 317.3h0M319.4 307.5h0M302.8 297.9h0M326.5 312.4h0M333.2 303.5h0M294.0 305.5h0M329.4 307.7h0M312.9 304.2h0M318.5 305.0h0M296.6 319.7h0M319.1 306.7h0M310.7 307.5h0M318.4 301.2h0M270.9 301.5h0M325.9 305.1h0M286.7 303.0h0M340.5 293.2h0M312.8 313.2h0M316.0 302.6h0M293.7 314.1h0M319.0 307.5h0M275.8 284.5h0M289.8 309.1h0M291.6 306.0h0M284.8 306.7h0M302.8 295.3h0M289.0 312.8h0M311.2 321.3h0M314.0 306.6h0M309.0 314.0h0M307.1 300.1h0M305.2 313.0h0M284.2 308.7h0M307.1 306.8h0M313.9 306.3h0M300.6 291.7h0M293.3 312.2h0M289.3 306.6h0M324.1 310.4h0M308.8 306.5h0M306.6 307.8h0M279.3 309.5h0M283.3 316.1h0M320.1 300.2h0M323.9 303.4h0M286.0 297.8h0M327.7 310.1h0M281.2 307.3h0M314.6 310.2h0M299.0 301.9h0M321.2 299.1h0M279.2 303.6h0M282.0 310.5h0M314.9 314.6h0M321.0 300.3h0M300.2 303.0h0M295.7 301.2h0M287.6 296.9h0M281.5 304.9h0M281.7 302.1h0M351.9 305.0h0M277.8 289.9h0M330.2 308.1h0M304.4 315.2h0M337.5 305.9h0M323.1 313.1h0M300.9 312.9h0M309.4 306.8h0M313.7 300.9h0M284.9 304.3h0M266.3 293.0h0M292.0 304.1h0M303.6 312.4h0M301.8 306.5h0M324.3 318.9h0M302.5 310.8h0M291.4 302.0h0M314.2 313.5h0M312.3 300.0h0M295.6 308.1h0M286.1 309.5h0M293.3 308.6h0M301.0 314.4h0M280.4 298.6h0M322.1 317.4h0M302.6 304.4h0M275.3 293.9h0M329.4 300.1h0M318.1 308.4h0M291.3 307.8h0M289.1 289.9h0M311.8 303.4h0M321.0 321.3h0M296.1 303.3h0M338.5 308.4h0M340.9 309.8h0M314.3 311.9h0M349.0 315.0h0M308.5 318.1h0M292.2 313.8h0M317.1 290.7h0M300.0 304.2h0M292.0 313.8h0M318.3 306.2h0M314.9 301.1h0M298.9 300.4h0M295.0 305.9h0M302.4 308.1h0M265.3 311.6h0M312.8 300.4h0M280.3 307.1h0M322.9 314.2h0M290.1 315.3h0M285.9 304.8h0M301.2 299.6h0M282.0 315.9h0M266.2 311.9h0M314.0 300.3h0M298.9 300.6h0M315.3 305.4h0M291.5 305.8h0M293.0 315.9h0M304.7 303.1h0M340.2 293.6h0M302.3 309.5h0M304.2 305.4h0M286.1 309.5h0M338.8 302.4h0M280.8 301.4h0M303.4 291.2h0M322.3 306.3h0M300.6 319.9h0M305.9 316.7h0M260.3 309.7h0M293.4 296.2h0M291.9 311.8h0M317.5 314.4h0M325.7 309.8h0M269.6 308.7h0M283.8 311.1h0M298.5 318.3h0M315.9 288.5h0M335.1 303.6h0M319.1 310.5h0M309.3 308.0h0M339.1 311.6h0M285.6 285.4h0M330.2 311.1h0M319.7 300.6h0M309.1 305.8h0M313.5 311.6h0M280.9 307.3h0M315.7 294.8h0M291.3 307.6h0M320.0 307.1h0M297.4 300.9h0M308.4 311.8h0M289.9 305.0h0M311.7 318.4h0M311.8 303.5h0M327.8 313.8h0M325.6 315.5h0M273.3 310.3h0M291.6 317.5h0M310.4 304.6h0M309.8 308.2h0M300.0 315.6h0M304.0 318.8h0M327.8 307.4h0M304.2 298.0h0M320.6 311.7h0M303.3 304.8h0M306.7 303.3h0M302.1 297.3h0M287.1 292.1h0M306.6 279.7h0M305.9 306.2h0M302.5 316.1h0M297.7 310.4h0M302.0 313.3h0M302.0 294.6h0M292.0 300.6h0M286.2 305.1h0M300.3 307.2h0M308.8 302.6h0M331.5 305.4h0M287.0 310.1h0M293.1 297.4h0M306.6 307.8h0M286.0 278.9h0M308.4 312.9h0M286.9 316.8h0M312.0 297.0h0M301.5 307.8h0M307.5 298.4h0M326.0 306.5h0M296.2 306.7h0M318.3 310.0h0M295.3 302.9h0M334.0 308.3h0M308.4 300.2h0M350.4 318.2h0M327.6 298.5h0M327.3 300.2h0M330.0 298.9h0M310.8 313.5h0M308.9 313.0h0M328.0 301.2h0M321.5 310.6h0M327.2 309.8h0M321.0 294.6h0M276.3 308.2h0M304.4 298.0h0M302.7 307.0h0M313.0 302.5h0M355.6 304.1h0M309.7 296.9h0M324.6 314.7h0M281.9 315.9h0M283.6 313.6h0M302.4 313.4h0M304.1 305.4h0M322.0 306.8h0M325.1 310.6h0M295.0 314.5h0M300.9 303.3h0M327.7 307.4h0M333.6 304.0h0M311.4 315.6h0M295.0 295.9h0M337.0 292.2h0M313.1 299.9h0M308.0 299.8h0M299.6 298.1h0M294.3 310.8h0M326.4 309.5h0M301.9 294.6h0M297.2 310.2h0M283.3 313.5h0M300.0 314.1h0M297.3 311.9h0M313.0 295.9h0M309.0 291.0h0M312.6 311.2h0M297.6 310.3h0M331.3 303.9h0M302.8 288.8h0M320.3 317.8h0M302.3 314.7h0M271.3 301.5h0M268.9 312.7h0M325.8 305.3h0M303.8 311.3h0M288.3 319.1h0M320.0 307.9h0M284.9 311.6h0M315.1 309.5h0M299.4 293.5h0M275.3 297.3h0M303.1 311.1h0M301.6 314.5h0M284.2 306.2h0M335.0 312.5h0M280.1 318.4h0M303.1 313.6h0M332.0 311.7h0M316.6 297.5h0M297.3 297.8h0M319.4 294.9h0M300.8 321.3h0M317.9 302.3h0M301.9 308.0h0M311.0 303.1h0M310.4 285.6h0M345.0 300.5h0M301.1 315.8h0M318.5 306.3h0M304.0 312.6h0M318.6 308.7h0M330.1 296.7h0M302.1 288.3h0M324.4 313.4h0M319.0 298.6h0M272.1 302.0h0M313.6 302.7h0M295.6 311.4h0M301.1 314.4h0M364.5 307.4h0M286.5 312.2h0M320.5 308.8h0M327.5 307.7h0M271.8 313.6h0M318.2 310.9h0M309.1 302.8h0M309.6 314.2h0M322.2 305.1h0M294.9 317.9h0M325.3 295.8h0M313.6 321.3h0M294.5 305.7h0M303.4 310.0h0M342.5 312.4h0M308.4 308.6h0M318.5 298.4h0M342.5 306.0h0M349.9 301.2h0M331.1 285.9h0M322.2 305.1h0M320.9 313.8h0M311.1 293.5h0M311.9 319.4h0M292.0 306.2h0M290.5 309.2h0M294.4 303.8h0M301.5 291.4h0M323.8 312.6h0M293.4 308.6h0M307.0 301.1h0M339.3 307.5h0M298.2 298.5h0M346.4 308.9h0M284.0 308.7h0M311.9 310.9h0M312.5 295.6h0M301.9 307.8h0M333.0 307.5h0M275.9 304.6h0M330.0 306.1h0M284.3 311.3h0M293.1 313.9h0M277.6 308.7h0M302.9 311.0h0M272.7 310.0h0M335.6 292.4h0M320.2 299.6h0M330.5 302.2h0M297.4 312.0h0M355.3 305.1h0M312.6 312.2h0M311.3 309.9h0M302.5 297.9h0M316.7 311.0h0M302.8 291.7h0M330.2 301.7h0M318.0 310.8h0M313.7 306.5h0M284.6 299.1h0M334.9 295.5h0M316.8 304.0h0M256.9 308.2h0M307.2 303.4h0M323.5 305.8h0M317.6 299.9h0M289.6 300.7h0M298.1 287.5h0M304.2 308.9h0M298.3 316.8h0M321.9 309.5h0M293.2 319.5h0M285.1 304.3h0M301.9 303.8h0M327.1 294.1h0M307.8 314.8h0M280.3 318.5h0M274.7 303.8h0M296.9 302.3h0M301.3 304.9h0M308.3 306.3h0M323.3 295.4h0M331.3 305.8h0M273.1 295.6h0M310.2 302.5h0M299.7 286.5h0M294.4 316.1h0M304.2 301.7h0M320.5 299.2h0M292.0 306.0h0M295.5 311.3h0M301.2 303.5h0M285.7 297.8h0M299.2 296.2h0M327.0 310.9h0M305.5 310.7h0M322.6 318.7h0M265.1 306.7h0M295.2 311.1h0M326.9 311.9h0M315.5 304.7h0M269.4 312.9h0M285.9 309.5h0M312.0 310.1h0M297.8 296.4h0M328.8 306.4h0M316.6 304.6h0M290.9 311.4h0M294.7 311.0h0M331.4 311.5h0M326.1 308.7h0M278.5 293.6h0M332.7 298.1h0M288.2 304.1h0M324.7 306.9h0M309.0 299.3h0M311.9 310.0h0M297.6 307.3h0M292.6 302.9h0M325.8 310.4h0M319.8 314.9h0M313.0 319.5h0M302.3 305.6h0M291.3 311.5h0M340.0 311.9h0M303.5 306.2h0M305.0 294.8h0M312.5 304.9h0M318.1 317.6h0M275.7 307.9h0M295.2 307.8h0M348.7 304.0h0M290.5 297.2h0M328.9 303.8h0M300.9 303.3h0M307.5 302.7h0M254.3 306.9h0M321.2 311.9h0M297.4 302.5h0M299.5 303.7h0M315.5 305.7h0M270.4 296.9h0M316.8 313.4h0M311.6 311.8h0M305.3 308.3h0M287.2 314.6h0M290.6 305.2h0M284.0 303.7h0M278.3 312.1h0M300.2 307.2h0M299.0 303.6h0M305.7 313.1h0M330.7 312.2h0M304.3 300.5h0M289.3 312.9h0M350.1 306.4h0M307.9 298.7h0M337.5 300.8h0M292.7 302.9h0M271.7 305.8h0M316.6 304.7h0M333.8 321.3h0M282.4 286.9h0M309.0 306.6h0M296.7 308.5h0M329.6 297.3h0M303.7 308.7h0M349.8 314.7h0M323.4 299.5h0M292.2 304.3h0M324.6 317.7h0M300.5 298.8h0M347.4 318.1h0M296.3 303.5h0M300.8 303.3h0M293.7 282.3h0M300.7 296.2h0M310.0 297.3h0M309.0 304.7h0M287.2 301.1h0M294.4 314.3h0M315.1 304.6h0M325.3 299.5h0M323.2 293.0h0M308.8 303.6h0M290.1 299.2h0M282.4 297.5h0M285.2 297.4h0M313.4 299.0h0M334.5 307.3h0M322.6 311.0h0M285.7 300.1h0M314.3 311.0h0M285.5 316.5h0M298.1 299.8h0M301.9 314.6h0M316.2 292.3h0M284.1 306.2h0M303.7 311.3h0M303.6 302.3h0M293.1 313.9h0M316.4 310.1h0M310.9 313.5h0M299.3 299.4h0M307.3 314.7h0M320.4 313.7h0M309.4 318.2h0M246.6 302.5h0M295.1 311.0h0M292.7 312.1h0M288.1 306.0h0M296.8 300.7h0M327.0 297.1h0M275.7 314.6h0M297.0 310.2h0M340.2 298.6h0M289.8 304.8h0M332.6 313.6h0M281.8 313.1h0M295.7 314.6h0M306.7 301.1h0M330.1 312.8h0M314.1 297.8h0M319.2 301.5h0M322.9 309.2h0M312.0 311.1h0M297.8 295.2h0M317.4 309.0h0M294.0 303.8h0M291.3 303.7h0M306.6 296.2h0M284.4 311.4h0M317.8 311.4h0M277.1 289.2h0M320.6 315.8h0M294.9 309.3h0M301.9 311.9h0M296.0 301.6h0M307.3 312.4h0M316.8 300.7h0M308.2 302.1h0M277.6 315.0h0M307.6 304.0h0M271.7 313.6h0M307.5 312.6h0M298.2 309.1h0M338.4 307.8h0M323.5 308.7h0M306.0 301.7h0M311.4 317.5h0M292.5 317.6h0M331.7 305.0h0M267.8 303.6h0M314.5 302.5h0M292.3 306.2h0M307.6 300.4h0M322.5 312.3h0M291.4 305.8h0M292.4 315.6h0M285.7 316.6h0M326.3 310.5h0M338.2 316.2h0M299.8 295.5h0M316.5 306.9h0M321.2 321.3h0M305.0 303.2h0M318.8 310.3h0M291.2 291.9h0M301.9 307.8h0M299.3 313.9h0M328.0 311.3h0M309.3 309.9h0M346.8 310.9h0M310.2 293.4h0M282.1 313.2h0M273.4 306.6h0M309.9 299.0h0M308.0 302.9h0M323.8 303.4h0M307.6 297.3h0M337.1 300.8h0M308.5 321.3h0M298.4 303.2h0M308.1 297.6h0M305.4 315.4h0M302.0 300.1h0M307.0 309.0h0M302.5 303.1h0M307.3 288.3h0M314.4 306.7h0M293.6 319.5h0M312.3 300.8h0M319.8 295.8h0M302.4 301.6h0M306.0 308.5h0M299.7 298.1h0M311.3 308.8h0M324.8 311.8h0M310.6 311.5h0M307.0 312.4h0M314.2 305.8h0M312.3 305.7h0M282.6 308.1h0M313.2 296.0h0M318.0 298.6h0M301.3 296.9h0M321.6 305.3h0M269.5 312.9h0M323.8 298.0h0M314.6 300.8h0M293.1 310.3h0M285.7 302.5h0M344.9 295.7h0M317.4 299.8h0M282.0 307.8h0M298.2 315.2h0M316.5 313.3h0M291.7 309.7h0M292.1 309.9h0M298.6 303.4h0M273.5 310.3h0M301.1 299.2h0M324.1 310.8h0M335.4 300.9h0M298.1 312.1h0M337.4 302.7h0M304.2 315.2h0M318.0 314.4h0M313.5 289.4h0M338.5 312.5h0M324.5 302.2h0M334.7 305.0h0M292.9 312.1h0M307.7 296.2h0M322.8 311.0h0M261.3 299.0h0M273.5 317.6h0M296.8 286.0h0M297.9 302.7h0M320.3 301.9h0M325.4 297.8h0M312.4 314.8h0M287.6 303.6h0M328.6 292.4h0M325.2 297.4h0M340.0 301.3h0M294.8 309.3h0M277.9 321.3h0M295.2 294.2h0M281.3 304.6h0M328.2 313.9h0M317.3 292.6h0M267.8 316.9h0M328.0 302.3h0M293.4 314.1h0M331.1 303.7h0M300.4 307.2h0M294.1 314.3h0M288.2 299.5h0M301.2 310.4h0M317.9 308.4h0M274.6 307.3h0M297.0 294.3h0M325.6 310.2h0M325.7 301.8h0M313.6 321.3h0M339.7 305.8h0M307.4 321.3h0M274.1 303.4h0M272.7 291.2h0M290.6 317.3h0M297.7 305.8h0M300.6 312.8h0M301.6 317.3h0M312.2 308.2h0M298.6 315.3h0M280.0 318.4h0M281.0 301.8h0M273.4 291.9h0M330.5 309.2h0M308.8 308.8h0M273.1 317.6h0M267.3 284.8h0M297.6 319.7h0M303.3 303.4h0M289.7 302.7h0M276.4 304.9h0M326.0 303.6h0M309.2 304.7h0M314.3 310.2h0M327.6 305.0h0M302.5 305.7h0M291.3 317.4h0M331.3 299.9h0M300.8 303.3h0M286.5 298.1h0M314.8 312.0h0M306.8 301.1h0M296.9 310.1h0M280.2 306.8h0M307.8 304.1h0M318.5 320.6h0M311.4 314.6h0M306.5 314.4h0M311.0 312.6h0M282.5 302.8h0M326.8 296.0h0M313.2 312.3h0M303.8 315.0h0M317.9 310.7h0M301.5 302.5h0M305.0 293.8h0M300.2 305.7h0M296.0 313.0h0M326.4 300.9h0M294.6 310.9h0M301.3 302.1h0M260.2 286.5h0M299.8 304.1h0M325.9 304.8h0M289.3 302.5h0M319.8 308.4h0M323.7 304.1h0M325.8 301.9h0M282.7 308.1h0M336.6 301.2h0M287.8 303.6h0M289.0 310.7h0M295.7 303.1h0M320.4 308.0h0M276.6 308.2h0M343.9 315.6h0M318.6 293.1h0M315.0 301.2h0M308.0 313.7h0M344.0 302.2h0M301.4 310.3h0M300.1 317.0h0M325.8 309.8h0M337.1 298.9h0M329.3 295.3h0M290.6 303.2h0M308.6 302.5h0M299.2 306.5h0M310.1 307.2h0M330.9 301.6h0M286.9 312.2h0M283.3 303.1h0M308.4 312.7h0M291.4 307.8h0M257.1 314.7h0M309.1 300.5h0M303.7 311.3h0M304.8 299.4h0M282.6 310.7h0M302.4 295.1h0M289.8 311.1h0M292.4 300.6h0M295.5 304.6h0M327.2 309.9h0M313.6 292.9h0M295.8 306.4h0M278.0 311.9h0M312.5 286.6h0M295.6 306.4h0M314.1 303.1h0M304.5 305.5h0M310.5 314.4h0M280.2 321.3h0M306.1 311.0h0M324.1 303.7h0M312.9 299.4h0M332.1 299.2h0M293.5 308.7h0M296.2 300.0h0M298.5 307.7h0M312.3 311.2h0M311.6 314.7h0M304.1 313.9h0M290.7 309.4h0M329.0 304.3h0M298.0 289.0h0M289.7 305.0h0M295.4 311.3h0M327.0 309.8h0M293.4 296.2h0M300.4 311.4h0M304.2 300.3h0M340.3 298.4h0M303.9 290.4h0M292.6 312.0h0M316.5 308.6h0M282.2 313.2h0M287.4 316.8h0M304.5 317.7h0M271.3 309.4h0M322.8 296.9h0M316.9 309.5h0M308.1 320.2h0M315.6 303.9h0M328.5 307.7h0M321.9 293.4h0M288.9 312.8h0M306.9 306.8h0M330.4 311.2h0M290.0 300.9h0M308.7 312.8h0M278.9 288.1h0M305.3 316.6h0M278.7 315.3h0M301.9 305.3h0M305.7 307.3h0M282.3 310.5h0M310.5 309.4h0M309.8 300.1h0M325.2 312.6h0M335.7 303.9h0M301.2 298.0h0M316.3 295.6h0M319.7 312.0h0M302.7 303.1h0M298.6 307.9h0M281.0 318.5h0M284.4 301.5h0M286.8 303.0h0M303.2 318.7h0M308.6 306.5h0M293.4 314.0h0M323.0 312.5h0M311.5 306.0h0M266.2 302.5h0M275.3 307.6h0M268.7 295.5h0M313.1 303.4h0M275.2 311.0h0M332.5 307.4h0M305.9 310.9h0M296.0 316.4h0M327.2 306.0h0M292.7 299.2h0M306.1 304.0h0M251.7 313.4h0M308.9 315.0h0M317.0 304.8h0M283.5 293.2h0M305.5 305.9h0M319.5 307.7h0M292.0 293.0h0M285.7 316.5h0M328.3 306.1h0M314.8 310.4h0M317.0 306.4h0M285.3 316.5h0M323.8 301.1h0M304.6 302.9h0M310.7 313.5h0M305.6 304.9h0M292.4 319.4h0M316.6 313.4h0M330.2 307.1h0M332.2 313.9h0M293.3 312.3h0M300.8 303.2h0M301.3 309.0h0M289.0 317.1h0M308.3 307.4h0M297.4 307.2h0M342.3 311.4h0M312.1 304.7h0M305.7 315.5h0M336.7 313.1h0M320.9 300.8h0M328.5 316.1h0M275.1 314.4h0M313.5 316.9h0M277.7 302.5h0M304.4 316.4h0M328.8 303.1h0M302.7 303.1h0M348.1 303.0h0M335.5 306.8h0M296.4 314.8h0M317.0 303.2h0M309.9 310.3h0M320.1 310.8h0M334.4 305.1h0M281.8 313.1h0M314.8 294.1h0M298.0 315.1h0M323.9 317.0h0M288.1 299.5h0M337.1 307.0h0M311.8 300.4h0M311.6 305.2h0M272.8 298.7h0M295.2 314.5h0M356.5 306.9h0M305.1 315.3h0M287.4 314.7h0M289.5 286.2h0M276.6 311.5h0M324.3 297.6h0M336.6 307.2h0M282.9 308.3h0M314.3 306.6h0M283.8 311.3h0M292.3 294.9h0M312.1 310.1h0M287.5 310.2h0M320.8 313.8h0M300.5 300.4h0M302.0 313.3h0M282.0 294.4h0M297.8 309.0h0M324.8 302.2h0M314.4 306.7h0M342.4 301.0h0M318.7 304.3h0M313.9 304.7h0M299.8 312.6h0M299.6 301.0h0M263.5 300.5h0M330.9 311.3h0M308.6 306.5h0M323.6 297.8h0M366.5 307.4h0M284.3 321.3h0M323.9 292.9h0M276.5 314.7h0M285.4 318.9h0M308.4 307.4h0M302.2 299.0h0M319.7 304.9h0M317.5 305.2h0M288.2 299.8h0M293.1 301.3h0M325.2 297.8h0M313.8 311.6h0M324.8 318.9h0M291.2 303.7h0M338.9 309.1h0M305.3 314.1h0M290.9 293.9h0M316.9 298.7h0M321.5 308.5h0M290.3 293.2h0M288.4 299.8h0M308.6 302.2h0M316.6 310.1h0M317.5 302.8h0M299.7 309.8h0M300.5 318.5h0M312.2 292.5h0M310.1 302.2h0M326.5 304.4h0M287.0 300.8h0M340.7 301.4h0M309.2 314.1h0M314.5 308.4h0M307.4 309.1h0M345.8 311.7h0M259.4 315.3h0M299.5 284.7h0M317.1 314.2h0M297.2 307.2h0M292.7 277.2h0M307.9 308.3h0M294.3 314.3h0M306.7 308.8h0M342.0 311.6h0M310.0 303.3h0M293.0 306.8h0M322.9 312.5h0M281.4 310.3h0M307.4 311.3h0M304.3 303.1h0M306.6 310.1h0M255.9 314.4h0M285.4 285.4h0M335.3 310.6h0M321.0 294.6h0M320.6 299.3h0M316.5 306.2h0M308.8 294.1h0M286.1 307.4h0M320.6 308.9h0M304.0 307.6h0M280.2 318.4h0M298.5 307.7h0M309.8 309.2h0M291.9 311.8h0M294.7 309.3h0M287.4 312.4h0M298.5 306.2h0M299.6 315.5h0M342.5 321.3h0M314.8 318.8h0M275.1 307.6h0M314.2 291.2h0M273.8 310.5h0M304.0 321.3h0M321.5 296.1h0M291.3 317.4h0M314.2 311.7h0M324.3 295.8h0M308.1 299.9h0M312.4 313.9h0M337.0 303.9h0M314.4 300.6h0M299.1 294.7h0M325.3 310.7h0M286.2 319.0h0M286.1 302.8h0M291.2 315.4h0M303.3 309.9h0M281.6 307.6h0M317.8 310.6h0M309.9 308.2h0M307.3 311.4h0M319.6 309.2h0M290.1 303.0h0M318.3 313.1h0M295.4 311.1h0M301.7 307.8h0M321.7 312.0h0M311.6 291.0h0M282.2 283.6h0M320.8 288.3h0M280.5 312.8h0M325.4 303.1h0M288.2 286.9h0M297.4 296.4h0M333.4 315.1h0M300.8 306.0h0M320.3 306.6h0M314.7 310.4h0M293.4 310.5h0M300.6 301.8h0M335.6 312.8h0M309.7 298.0h0M302.5 304.4h0M337.5 305.8h0M300.2 311.3h0M354.9 301.2h0M317.2 309.6h0M300.8 301.8h0M292.7 310.3h0M318.9 312.4h0M313.0 302.5h0M297.5 302.7h0M323.2 315.0h0M331.7 304.1h0M320.5 297.6h0M291.1 299.8h0M291.5 313.6h0M322.2 301.0h0M289.4 289.9h0M286.2 302.8h0M306.4 311.1h0M274.5 310.8h0M302.3 290.9h0M328.2 295.7h0M301.9 290.6h0M306.7 304.3h0M311.5 304.1h0M281.0 304.6h0M298.8 313.8h0M301.8 315.9h0M312.0 311.0h0M320.2 301.9h0M294.7 312.6h0M306.4 300.8h0M312.3 302.9h0M319.0 298.6h0M319.1 307.5h0M332.8 321.3h0M342.8 299.2h0M313.7 305.4h0M311.3 307.9h0M307.9 310.5h0M306.2 285.6h0M310.9 318.4h0M298.4 303.2h0M310.3 296.5h0M294.4 319.5h0M311.7 307.1h0M295.0 312.7h0M290.3 295.2h0M330.6 302.3h0M298.2 295.4h0M319.5 311.3h0M308.9 305.7h0M292.7 289.7h0M328.0 308.6h0M293.1 312.2h0M321.9 313.4h0M310.7 299.6h0M305.0 308.2h0M325.0 295.8h0M304.1 312.6h0M285.4 292.6h0M330.8 319.9h0M316.2 309.2h0M308.4 313.8h0M306.8 307.9h0M318.4 299.9h0M311.6 306.1h0M333.9 300.8h0M285.4 306.9h0M294.2 305.5h0M293.1 308.6h0M274.8 296.8h0M321.6 296.5h0M307.0 306.8h0M308.2 314.8h0M294.2 300.3h0M286.6 312.2h0M314.8 300.9h0M279.6 294.7h0M293.7 303.4h0M349.8 301.8h0M292.9 299.2h0M300.9 311.5h0M298.9 296.2h0M317.4 306.6h0M291.7 294.3h0M305.2 301.0h0M284.1 308.7h0M311.9 303.4h0M332.6 306.5h0M305.7 307.4h0M305.6 307.2h0M308.0 301.0h0M306.8 298.8h0M343.3 313.3h0M319.7 301.5h0M317.9 300.8h0M303.7 302.5h0M300.1 292.9h0M267.4 303.0h0M317.0 311.9h0M291.6 311.6h0M296.9 299.1h0M308.3 311.7h0M308.5 306.5h0M328.2 305.4h0M292.7 291.5h0M316.0 321.3h0M297.0 318.1h0M322.4 307.1h0M306.7 299.9h0M315.6 306.5h0M334.0 312.8h0M347.1 307.8h0M286.1 300.4h0M326.5 312.3h0M308.3 306.4h0M330.6 305.7h0M321.4 302.5h0M294.8 304.2h0M297.4 293.3h0M332.4 314.9h0M298.1 309.1h0M333.0 298.9h0M326.9 297.4h0M316.7 316.5h0M267.2 316.7h0M293.0 314.0h0M300.5 297.4h0M312.6 306.6h0M316.8 300.0h0M320.0 313.6h0M317.5 302.0h0M301.7 305.2h0M316.5 306.2h0M300.0 321.3h0M298.0 298.5h0M278.4 315.1h0M319.7 310.6h0M303.7 313.8h0M275.0 311.0h0M304.8 311.7h0M299.9 305.5h0M302.9 313.6h0M290.5 307.2h0M304.8 301.9h0M273.1 302.9h0M329.4 313.2h0M289.5 315.1h0M279.2 297.7h0M345.7 307.6h0M320.0 310.0h0M313.8 302.1h0M325.0 297.8h0M318.6 298.9h0M304.0 302.6h0M294.0 312.5h0M296.5 313.3h0M324.0 298.1h0M302.9 299.4h0M303.6 296.2h0M297.7 310.4h0M304.2 298.0h0M277.0 305.3h0M309.2 299.5h0M285.8 300.1h0M267.9 303.6h0M284.1 296.2h0M305.9 309.7h0M321.9 305.4h0M311.5 308.9h0M314.2 311.8h0M303.6 302.3h0M251.5 281.6h0M306.3 295.2h0M286.4 314.3h0M319.8 309.9h0M312.1 311.0h0M290.4 299.2h0M295.9 313.0h0M300.2 315.6h0M295.7 304.7h0M323.6 307.5h0M296.0 311.4h0M274.7 310.8h0M316.0 312.4h0M310.0 319.3h0M315.6 295.9h0M294.4 305.5h0M286.5 316.7h0M317.0 304.8h0M302.3 297.7h0M286.9 300.8h0M313.2 304.4h0M307.5 309.2h0M310.5 302.5h0M300.1 302.8h0M293.9 305.3h0M276.8 314.7h0M300.6 311.5h0M287.6 303.6h0M260.4 292.3h0M306.6 308.8h0M304.5 321.3h0M308.1 308.5h0M319.7 302.2h0M310.8 301.7h0M295.3 306.1h0M286.1 321.3h0M312.3 298.2h0M303.5 315.0h0M313.1 315.9h0M346.4 296.7h0M340.7 307.0h0M303.3 299.8h0M290.1 313.2h0M321.2 302.5h0M311.3 307.8h0M296.1 304.9h0M310.6 309.4h0M311.5 309.9h0M299.2 308.0h0M296.5 308.3h0M305.7 302.6h0M284.3 296.6h0M331.5 311.9h0M293.7 312.4h0M296.0 316.3h0M293.5 305.0h0M303.3 306.1h0M306.4 302.0h0M331.7 289.0h0M306.3 300.9h0M328.7 311.9h0M310.6 305.5h0M331.0 314.2h0M319.4 305.6h0M306.7 306.6h0M272.0 305.8h0M311.4 306.9h0M324.0 310.8h0M303.5 313.7h0M302.4 292.2h0M314.0 297.9h0M301.1 300.8h0M296.5 287.3h0M303.4 297.2h0M283.8 300.9h0M286.5 316.7h0M286.7 303.0h0M327.3 312.6h0M305.8 316.7h0M295.1 321.3h0M311.2 318.4h0M288.6 297.6h0M331.6 311.1h0M309.0 314.0h0M304.7 311.6h0M275.4 297.3h0M299.8 312.6h0M318.3 306.5h0M306.6 306.5h0M296.2 311.5h0M297.1 316.6h0M332.6 311.9h0M282.4 305.4h0M307.3 292.5h0M326.4 309.5h0M306.9 311.3h0M309.8 307.1h0M317.6 305.3h0M320.4 313.7h0M305.7 312.0h0M292.0 309.9h0M339.4 301.2h0M331.9 317.6h0M302.8 308.4h0M289.2 296.2h0M289.4 304.6h0M307.6 294.2h0M341.2 307.6h0M293.3 308.6h0M334.3 313.7h0M283.3 305.7h0M322.4 301.3h0M320.4 304.6h0M304.6 317.7h0M281.2 315.7h0M306.3 304.0h0M277.5 293.0h0M331.5 296.1h0M320.0 295.8h0M338.0 313.9h0M291.0 297.8h0M290.4 311.3h0M304.1 299.1h0M322.0 311.4h0M360.8 306.8h0M287.0 301.1h0M310.0 316.3h0M308.0 305.0h0M304.6 321.3h0M289.2 304.6h0M301.4 300.9h0M303.5 311.3h0M260.5 292.3h0M298.6 316.8h0M299.4 302.5h0M299.4 309.7h0M320.2 298.4h0M311.7 316.6h0M276.0 314.6h0M284.7 306.5h0M312.8 310.3h0M322.0 307.5h0M333.2 314.7h0M281.4 288.4h0M294.8 321.3h0M287.3 319.1h0M305.5 299.1h0M315.2 308.1h0M297.8 305.9h0M285.3 314.1h0M292.5 313.9h0M328.0 309.1h0M318.9 290.7h0M311.0 300.9h0M293.7 298.3h0M286.7 296.2h0M317.9 312.3h0M311.1 302.1h0M301.3 309.0h0M309.0 315.0h0M304.5 298.2h0M310.3 308.4h0M333.9 296.6h0M318.3 308.6h0M297.7 318.2h0M292.3 302.5h0M310.8 307.6h0M306.1 302.8h0M311.0 307.8h0M326.5 303.4h0M287.9 319.1h0M306.3 301.9h0M286.4 302.8h0M319.1 300.8h0M314.0 317.8h0M315.0 300.1h0M310.2 306.3h0M299.1 300.8h0M312.4 301.1h0M299.1 299.1h0M314.5 293.2h0M312.4 305.6h0M278.5 318.2h0M294.5 300.3h0M315.9 301.0h0M275.4 304.2h0M326.7 299.5h0M305.4 301.1h0M292.5 312.0h0M335.1 296.9h0M271.7 286.5h0M313.3 302.7h0M316.4 302.2h0M315.3 303.0h0M303.0 316.1h0M291.3 309.7h0M305.6 296.8h0M310.4 309.5h0M328.3 302.5h0M338.7 307.7h0M281.0 310.1h0M312.1 309.2h0M302.2 283.0h0M314.1 303.9h0M337.0 310.5h0M271.8 309.7h0M284.6 306.5h0M301.2 317.2h0M285.4 309.3h0M319.8 317.0h0M318.9 302.9h0M318.3 294.9h0M313.6 313.4h0M296.4 305.1h0M311.6 307.0h0M289.3 321.3h0M333.6 302.4h0M294.9 311.0h0M297.6 307.2h0M316.9 305.6h0M288.5 321.3h0M339.4 314.9h0M314.5 310.2h0M304.0 301.5h0M300.4 303.0h0M308.9 306.6h0M307.4 313.7h0M313.7 297.5h0M297.4 311.9h0M333.8 296.0h0M319.5 310.6h0M317.6 302.1h0M294.5 319.6h0M300.2 314.2h0M329.5 314.2h0M307.2 299.1h0M307.3 296.9h0M280.2 315.5h0M323.4 293.4h0M323.5 308.2h0M303.5 299.8h0M323.1 302.4h0M306.2 301.7h0M325.4 310.3h0M310.7 305.5h0M312.6 307.7h0M324.3 300.6h0M305.5 296.6h0M311.4 301.1h0M286.4 305.1h0M277.1 318.1h0M325.3 304.5h0M305.1 313.0h0M275.4 300.8h0M280.2 312.6h0M315.1 311.3h0M300.8 296.4h0M269.0 321.3h0M298.9 295.9h0M300.3 307.1h0M288.0 303.8h0M308.8 299.3h0M318.9 310.2h0M276.5 318.0h0M311.4 304.2h0M319.4 317.7h0M300.3 314.2h0M314.5 303.3h0M345.3 305.8h0M336.5 312.7h0M328.3 301.9h0M316.0 316.5h0M332.2 317.2h0M315.7 300.7h0M293.9 307.1h0M333.6 311.3h0M326.3 306.6h0M314.7 312.7h0M294.4 309.2h0M302.0 300.1h0M284.0 316.3h0M274.7 314.3h0M296.9 289.6h0M329.2 306.2h0M289.5 315.1h0M297.2 300.9h0M302.4 316.1h0M312.9 310.4h0M312.7 302.2h0M304.9 308.1h0M320.4 306.0h0M303.6 311.2h0M308.2 292.4h0M312.3 299.9h0M307.1 293.4h0M304.5 310.3h0M292.7 287.8h0M299.9 300.0h0M289.8 298.9h0M285.0 304.3h0M293.9 305.3h0M314.0 309.9h0M297.3 300.9h0M317.6 305.2h0M304.0 298.9h0M306.6 300.8h0M317.3 306.5h0M309.9 297.3h0M275.1 304.2h0M287.8 308.0h0M296.6 297.0h0M310.0 310.3h0M292.2 294.9h0M293.5 306.9h0M324.6 308.6h0M291.2 295.9h0M275.5 311.0h0M301.9 314.6h0M293.4 308.6h0M329.2 296.7h0M308.2 316.0h0M329.0 305.5h0M302.4 312.0h0M258.3 302.5h0M314.8 297.7h0M313.1 309.6h0M281.1 301.8h0M323.8 302.2h0M274.0 310.5h0M296.2 313.1h0M294.7 307.4h0M287.7 301.4h0M300.8 306.0h0M311.2 297.1h0M307.6 295.1h0M323.0 300.4h0M294.0 312.4h0M325.5 306.7h0M340.2 303.4h0M308.6 313.9h0M288.8 306.4h0M276.1 297.9h0M252.8 313.8h0M293.7 291.2h0M309.6 312.2h0M292.0 306.0h0M306.1 297.0h0M267.9 316.9h0M315.6 300.7h0M300.2 304.4h0M315.6 301.4h0M286.1 314.3h0M297.6 316.6h0M322.7 302.0h0M297.4 316.6h0M272.8 313.8h0M337.9 300.0h0M296.4 304.9h0M307.1 307.9h0M309.9 307.3h0M277.8 311.9h0M276.7 314.7h0M305.9 307.4h0M329.2 301.6h0M313.2 297.2h0M299.8 296.7h0M313.6 296.6h0M296.3 301.6h0M313.8 282.1h0M315.9 305.0h0M281.7 310.3h0M318.7 302.8h0M331.8 311.1h0M312.4 314.9h0M273.9 303.4h0M272.4 306.2h0M327.7 300.3h0M301.2 317.2h0M301.8 318.6h0M314.1 317.0h0M266.3 302.5h0M261.6 310.1h0M298.2 300.0h0M325.3 316.6h0M310.7 308.6h0M300.9 311.5h0M311.9 295.9h0M320.8 308.9h0M322.4 313.5h0M315.6 299.9h0M292.8 313.9h0M259.3 297.2h0M295.0 302.5h0M299.4 315.5h0M304.2 309.0h0M302.8 311.0h0M321.4 310.0h0M293.4 299.8h0M299.2 296.2h0M325.8 306.5h0M286.8 307.6h0M310.1 306.2h0M333.5 301.5h0M315.2 309.6h0M316.6 311.0h0M307.6 294.0h0M303.4 297.2h0M332.9 303.9h0M285.8 304.8h0M303.2 302.1h0M295.6 309.6h0M332.5 308.7h0M301.9 303.8h0M328.4 312.3h0M310.9 315.5h0M304.7 315.2h0M285.2 316.4h0M295.9 291.8h0M319.5 311.3h0M282.6 302.8h0M298.6 303.4h0M317.7 304.4h0M275.3 311.0h0M304.6 303.1h0M290.9 309.6h0M301.1 313.0h0M316.0 299.5h0M308.7 306.5h0M272.0 317.4h0M306.0 294.8h0M306.7 308.9h0M308.6 307.6h0M296.3 318.0h0M313.0 299.8h0M303.6 301.0h0M272.5 306.2h0M303.2 300.7h0M306.6 302.2h0M289.1 308.7h0M315.6 312.2h0M325.3 289.4h0M325.2 294.1h0M310.7 304.7h0M300.9 306.1h0M319.0 318.4h0M308.1 310.5h0M328.5 312.5h0M295.7 311.3h0M276.5 311.5h0M284.8 299.4h0M324.0 317.0h0M302.1 302.6h0M303.0 298.3h0M291.7 305.8h0M345.8 298.8h0M323.4 302.4h0M324.7 308.8h0M300.3 303.0h0M293.8 312.3h0M286.4 309.7h0M328.3 299.1h0M281.3 301.8h0M306.4 306.3h0M297.3 302.3h0M324.7 301.7h0M298.0 304.4h0M288.6 310.7h0M309.4 306.8h0M306.8 303.4h0M311.4 316.5h0M280.2 318.4h0M321.2 312.6h0M324.9 300.6h0M292.3 295.3h0M294.6 314.4h0M253.0 306.2h0M318.5 321.3h0M317.9 303.0h0M340.1 303.6h0M315.7 298.2h0M295.3 304.4h0M304.6 315.2h0M323.7 305.8h0M308.8 295.1h0M292.7 310.1h0M308.1 308.5h0M281.9 302.5h0M302.0 313.3h0M291.7 307.9h0M325.7 309.2h0M331.2 307.4h0M288.8 302.2h0M304.5 316.4h0M284.1 318.8h0M306.6 301.1h0M306.7 313.4h0M307.2 311.4h0M330.4 308.6h0M300.5 300.4h0M312.3 296.2h0M277.0 321.3h0M298.7 312.3h0M291.7 315.5h0M311.6 310.8h0M283.4 311.1h0M308.4 305.4h0M295.3 306.1h0M291.6 307.8h0M310.5 307.4h0M293.0 282.7h0M310.9 297.1h0M287.3 305.6h0M324.4 305.8h0M307.0 304.6h0M324.8 309.3h0M292.7 306.4h0M306.3 320.2h0M295.1 311.1h0M298.0 303.0h0M330.8 314.5h0M282.3 289.0h0M294.5 316.1h0M328.8 292.7h0M301.7 298.4h0M314.9 303.6h0M315.4 317.1h0M320.9 313.8h0M295.1 297.6h0M317.7 312.8h0M262.5 299.8h0M298.5 300.4h0M291.7 303.9h0M318.4 292.1h0M312.3 301.0h0M327.3 310.5h0M311.1 319.4h0M277.9 315.0h0M308.0 311.5h0M294.1 302.0h0M316.1 308.3h0M335.0 312.6h0M307.6 302.6h0M330.5 298.4h0M291.3 302.0h0M314.3 305.8h0M305.1 309.4h0M335.3 304.4h0M266.4 302.5h0M340.7 314.5h0M269.0 291.2h0M254.4 321.3h0M304.3 310.4h0M305.4 304.8h0M334.2 300.3h0M287.2 305.6h0M333.0 305.6h0M274.7 296.8h0M295.2 301.0h0M302.9 298.1h0M280.3 292.3h0M269.0 304.1h0M315.8 306.6h0M305.1 302.2h0M284.2 311.3h0M327.7 304.0h0M327.6 312.2h0M324.6 318.9h0M326.2 297.0h0M303.1 295.5h0M336.1 302.6h0M315.0 308.7h0M289.5 306.8h0M330.2 306.0h0M345.9 321.3h0M370.9 300.1h0M385.2 299.6h0M332.3 308.5h0M376.0 304.3h0M346.9 313.7h0M343.0 301.9h0M335.7 301.4h0M356.0 298.4h0M338.7 302.2h0M353.4 304.3h0M362.1 307.0h0M367.5 313.8h0M330.2 303.7h0M332.8 307.5h0M388.2 306.7h0M335.9 307.1h0M333.2 310.3h0M362.7 305.0h0M345.4 306.4h0M323.8 305.3h0M329.4 303.1h0M392.8 303.3h0M346.7 306.2h0M384.6 305.8h0M326.6 305.7h0M370.5 313.7h0M403.3 308.7h0M345.9 301.2h0M350.8 291.2h0M340.5 306.9h0M353.3 303.3h0M355.3 304.6h0M364.5 299.6h0M367.9 302.0h0M374.7 304.1h0M354.9 301.3h0M338.1 309.1h0M371.1 297.9h0M362.5 315.9h0M328.8 309.5h0M348.1 308.0h0M343.5 312.8h0M357.8 314.1h0M351.3 305.4h0M319.7 311.3h0M334.1 305.1h0M349.5 304.7h0M383.2 310.9h0M339.4 307.3h0M345.1 309.9h0M323.9 308.3h0M359.6 313.6h0M371.9 303.4h0M343.8 308.6h0M353.3 313.2h0M328.0 304.4h0M332.1 316.3h0M354.9 302.8h0M338.9 310.1h0M371.0 310.8h0M360.2 301.9h0M329.1 296.4h0M327.6 296.7h0M370.0 311.1h0M334.3 303.8h0M382.3 302.4h0M390.8 308.0h0M392.3 303.1h0M363.9 309.6h0M376.1 305.2h0M319.7 301.4h0M370.1 304.6h0M333.6 307.9h0M342.1 310.7h0M366.2 313.2h0M337.0 300.2h0M384.8 296.2h0M341.2 310.9h0M353.2 302.5h0M371.2 304.3h0M339.3 306.4h0M374.3 301.3h0M367.0 299.6h0M320.0 307.9h0M392.1 314.8h0M364.7 313.5h0M305.6 314.2h0M372.2 310.7h0M322.8 307.2h0M344.3 308.1h0M322.3 310.3h0M368.2 309.5h0M364.8 306.7h0M372.3 306.5h0M355.0 315.2h0M369.5 303.5h0M376.6 315.3h0M329.3 310.2h0M355.1 301.4h0M369.6 302.5h0M355.3 309.7h0M371.6 300.3h0M373.5 300.0h0M361.1 305.4h0M385.7 311.2h0M348.9 307.3h0M357.5 308.6h0M338.6 308.6h0M344.6 301.2h0M349.4 311.9h0M341.8 313.4h0M341.0 309.6h0M367.3 314.6h0M331.4 308.1h0M345.3 313.2h0M346.2 301.0h0M343.7 299.9h0M353.7 306.4h0M355.5 307.5h0M358.2 302.8h0M363.0 307.5h0M332.3 315.4h0M339.9 303.0h0M348.8 308.0h0M363.7 307.9h0M341.2 305.4h0M296.2 314.8h0M351.7 299.2h0M343.5 311.1h0M379.8 310.0h0M325.5 298.2h0M316.8 304.8h0M387.1 311.3h0M325.8 302.9h0M353.3 308.0h0M379.6 301.1h0M357.3 310.8h0M367.5 303.5h0M356.1 308.5h0M328.6 309.3h0M348.7 305.4h0M347.3 308.6h0M356.0 304.5h0M355.7 310.4h0M392.0 303.3h0M395.2 302.8h0M376.7 307.9h0M339.3 312.8h0M337.3 303.2h0M328.1 308.7h0M352.9 309.5h0M361.3 308.7h0M375.3 308.0h0M343.1 303.2h0M333.4 297.7h0M338.7 308.1h0M333.8 307.4h0M325.0 314.8h0M330.1 312.5h0M378.6 303.7h0M360.3 306.4h0M356.3 316.4h0M340.0 303.3h0M357.9 303.4h0M339.8 299.8h0M361.6 312.7h0M344.2 306.1h0M367.8 300.5h0M366.3 300.8h0M366.9 305.5h0M348.7 315.9h0M327.1 306.5h0M348.6 308.8h0M348.5 306.2h0M321.8 302.8h0M332.8 305.6h0M329.6 307.2h0M332.7 307.3h0M365.0 302.2h0M352.8 307.1h0M311.8 305.4h0M349.6 301.5h0M349.8 308.0h0M310.5 299.6h0M340.5 308.8h0M378.3 312.2h0M338.9 309.8h0M339.7 317.1h0M377.4 315.7h0M331.7 306.0h0M355.5 307.9h0M339.0 296.7h0M377.0 309.2h0M387.0 310.3h0M384.1 301.6h0M394.8 310.5h0M398.5 309.8h0M352.6 307.0h0M327.9 298.5h0M394.9 300.7h0M360.0 312.1h0M331.9 308.7h0M329.2 309.1h0M334.6 311.6h0M355.8 305.1h0M350.6 312.4h0M342.2 308.8h0M344.6 307.5h0M340.8 317.6h0M374.5 295.8h0M341.4 311.8h0M349.2 311.2h0M354.9 310.9h0M336.0 313.3h0M367.6 301.0h0M346.1 315.4h0M337.3 300.7h0M367.0 311.6h0M375.3 313.9h0M333.1 304.6h0M338.9 319.9h0M342.2 305.8h0M378.1 305.1h0M371.6 307.2h0M330.7 305.3h0M361.5 305.6h0M377.9 308.1h0M359.9 308.5h0M357.2 309.4h0M347.0 309.2h0M346.4 305.9h0M343.9 303.4h0M353.6 302.2h0M326.9 305.3h0M382.5 301.5h0M367.9 306.3h0M358.8 309.4h0M332.0 313.4h0M335.2 311.9h0M372.0 307.4h0M329.6 304.3h0M329.5 302.6h0M354.2 305.2h0M340.2 303.0h0M318.7 311.6h0M335.9 316.1h0M362.0 305.7h0M345.9 303.8h0M353.1 311.2h0M353.5 302.4h0M345.6 299.1h0M357.4 306.5h0M355.5 304.4h0M330.9 306.9h0M365.4 307.6h0M347.8 299.8h0M382.4 310.2h0M382.6 301.7h0M357.4 307.1h0M373.0 308.8h0M372.1 312.5h0M358.6 309.4h0M371.0 305.8h0M380.5 311.2h0M346.3 313.8h0M375.7 303.9h0M336.0 309.0h0M388.3 304.2h0M327.3 304.9h0M346.4 309.7h0M337.9 300.4h0M331.9 302.7h0M306.2 311.0h0M331.6 305.5h0M340.9 304.2h0M341.8 314.7h0M323.4 304.6h0M347.9 301.4h0M354.4 293.1h0M330.5 308.2h0M344.9 303.1h0M329.1 310.1h0M322.9 292.6h0M385.8 301.7h0M372.7 310.1h0M335.9 311.7h0M371.5 307.8h0M356.3 308.0h0M336.0 309.8h0M330.8 307.5h0M359.0 307.3h0M345.7 304.2h0M368.8 292.0h0M344.5 312.3h0M352.3 299.2h0M371.5 310.6h0M340.8 303.3h0M313.3 315.0h0M345.4 312.1h0M386.4 310.5h0M358.9 314.0h0M353.9 311.0h0M398.3 305.5h0M351.5 307.4h0M377.3 303.5h0M346.9 318.6h0M380.1 305.3h0M339.1 306.9h0M368.0 299.7h0M368.0 308.4h0M359.7 303.2h0M338.1 303.4h0M345.5 307.6h0M390.4 308.8h0M364.1 304.1h0M346.3 309.4h0M316.9 306.3h0M348.1 308.2h0M379.0 307.6h0M385.1 307.6h0M341.5 305.7h0M352.5 298.2h0M341.5 308.6h0M305.1 314.2h0M295.7 318.0h0M354.3 313.4h0M331.2 300.6h0M342.1 302.9h0M381.9 305.9h0M345.9 306.8h0M308.6 293.7h0M398.2 305.7h0M315.2 293.0h0M374.6 299.6h0M328.0 305.4h0M350.6 296.6h0M328.7 298.5h0M333.9 298.8h0M369.2 308.6h0M384.8 310.6h0M347.9 295.0h0M358.6 306.7h0M347.5 298.0h0M337.8 310.0h0M352.6 309.8h0M364.7 307.4h0M331.3 291.1h0M361.0 303.2h0M319.6 314.9h0M318.6 314.7h0M357.9 310.8h0M335.2 308.9h0M358.2 317.3h0M340.2 307.2h0M379.7 305.3h0M331.0 301.6h0M354.9 304.3h0M355.5 308.0h0M344.4 298.9h0M353.4 311.7h0M364.5 307.2h0M353.9 305.5h0M338.0 300.9h0M362.6 306.7h0M343.3 299.4h0M334.8 318.8h0M347.7 307.1h0M303.7 303.9h0M383.1 311.9h0M310.5 307.4h0M325.1 305.5h0M345.4 308.9h0M351.8 308.6h0M363.1 306.7h0M354.0 307.7h0M322.4 309.1h0M400.5 306.8h0M335.1 308.5h0M400.9 306.1h0M367.3 301.4h0M344.3 300.9h0M349.9 301.2h0M370.7 305.2h0M353.4 304.7h0M299.2 315.4h0M359.9 307.0h0M325.5 300.9h0M342.9 302.5h0M358.7 304.2h0M348.9 314.0h0M368.5 304.6h0M347.4 302.8h0M336.9 314.3h0M377.9 306.1h0M367.9 301.5h0M346.4 309.9h0M382.7 302.9h0M360.1 302.7h0M350.4 308.3h0M377.0 311.3h0M330.8 308.8h0M361.2 301.8h0M395.6 303.1h0M352.5 300.1h0M365.6 307.2h0M325.1 313.1h0M360.5 310.4h0M325.5 302.8h0M361.1 313.4h0M350.7 308.1h0M333.1 304.0h0M357.2 299.7h0M335.1 308.4h0M382.9 307.1h0M315.5 305.6h0M366.6 299.4h0M360.7 312.4h0M337.5 310.0h0M366.6 308.2h0M350.7 304.3h0M372.6 308.1h0M374.0 303.1h0M324.0 307.7h0M373.9 304.1h0M333.6 305.2h0M371.5 309.5h0M330.8 310.3h0M376.1 312.6h0M342.4 305.3h0M371.2 305.1h0M360.4 301.7h0M341.2 312.3h0M338.9 307.9h0M367.5 299.1h0M381.2 304.2h0M356.2 307.0h0M320.0 316.4h0M344.6 305.2h0M361.6 302.8h0M360.8 304.7h0M329.1 313.1h0M309.0 304.6h0M349.5 310.0h0M364.7 305.7h0M327.5 311.6h0M342.6 305.2h0M359.6 311.3h0M374.8 304.9h0M327.0 304.3h0M342.1 302.1h0M350.9 317.0h0M334.0 311.5h0M328.2 318.1h0M387.8 306.6h0M388.5 303.0h0M319.7 310.6h0M369.1 305.0h0M326.7 308.0h0M351.3 311.1h0M348.3 304.5h0M343.9 311.0h0M339.9 313.2h0M309.7 312.2h0M336.2 312.6h0M344.4 294.2h0M338.5 308.2h0M355.7 304.9h0M367.7 305.4h0M348.5 295.8h0M349.4 303.7h0M318.1 299.3h0M387.1 309.3h0M329.0 306.0h0M362.7 306.8h0M334.5 307.8h0M324.5 311.1h0M306.2 287.9h0M345.8 309.1h0M331.4 310.4h0M351.3 309.0h0M303.6 302.3h0M345.1 307.8h0M339.5 303.7h0M355.2 310.2h0M340.3 317.2h0M382.8 307.7h0M363.8 319.7h0M311.1 304.8h0M332.8 315.4h0M343.5 317.0h0M348.8 307.5h0M351.4 301.7h0M359.2 308.0h0M359.4 302.5h0M348.4 299.3h0M325.2 307.9h0M331.9 298.6h0M377.6 301.9h0M353.4 317.0h0M353.8 307.4h0M356.5 305.9h0M352.8 298.7h0M365.9 316.6h0M365.1 299.6h0M326.8 304.6h0M365.3 304.3h0M350.3 309.1h0M374.7 301.3h0M340.3 304.8h0M327.4 307.7h0M351.3 308.5h0M356.5 307.2h0M330.2 312.0h0M368.8 303.7h0M362.5 315.3h0M363.4 308.3h0M338.0 302.3h0M330.4 311.5h0M379.2 313.7h0M357.8 313.8h0M326.1 308.3h0M341.1 307.9h0M379.5 298.4h0M336.9 307.0h0M337.7 303.7h0M376.7 309.0h0M327.9 304.9h0M356.4 312.8h0M346.3 302.8h0M381.3 301.6h0M340.2 304.2h0M322.8 307.8h0M327.1 305.9h0M335.6 296.5h0M373.0 308.9h0M359.4 308.8h0M320.6 309.5h0M352.6 301.1h0M340.7 304.1h0M334.6 298.8h0M369.8 305.6h0M358.8 294.9h0M342.0 309.3h0M358.1 309.9h0M389.9 299.5h0M328.6 306.7h0M348.8 302.5h0M371.8 308.3h0M336.5 307.6h0M379.9 305.0h0M356.0 305.3h0M349.4 309.1h0M350.5 300.9h0M306.9 307.9h0M333.6 304.8h0M300.7 310.1h0M339.9 296.4h0M351.7 301.9h0M350.1 308.4h0M337.7 308.0h0M366.9 313.2h0M384.7 309.4h0M345.1 302.9h0M331.8 307.8h0M348.9 297.0h0M315.6 303.9h0M360.3 300.5h0M328.7 303.0h0M331.6 304.4h0M343.1 302.7h0M342.8 302.6h0M370.9 302.5h0M347.7 308.6h0M350.5 308.7h0M384.5 311.5h0M357.1 303.3h0M364.5 298.9h0M369.6 307.0h0M374.4 302.8h0M371.3 305.4h0M351.4 302.2h0M365.5 303.4h0M353.7 310.6h0M361.1 310.7h0M346.1 301.0h0M328.8 315.7h0M322.5 316.8h0M343.5 303.4h0M368.9 310.2h0M352.6 304.0h0M350.6 303.4h0M350.3 316.0h0M366.5 305.7h0M379.9 299.0h0M336.9 303.1h0M331.2 305.6h0M347.7 306.1h0M375.4 313.9h0M405.1 301.9h0M338.5 314.4h0M369.5 307.3h0M354.6 310.3h0M351.2 316.4h0M350.1 311.8h0M338.5 311.4h0M355.3 306.5h0M340.1 307.2h0M370.6 307.4h0M344.9 307.3h0M356.9 305.9h0M353.0 302.0h0M365.5 306.0h0M353.6 301.5h0M346.8 320.8h0M343.5 309.6h0M312.9 304.2h0M363.1 304.2h0M310.4 308.3h0M378.8 304.8h0M347.7 302.8h0M361.6 313.9h0M335.0 306.7h0M334.0 305.8h0M369.2 304.1h0M326.6 306.2h0M367.6 300.4h0M339.6 317.1h0M341.2 308.7h0M355.1 303.2h0M343.0 313.1h0M357.7 310.0h0M356.2 306.2h0M375.1 301.8h0M323.5 310.1h0M372.5 308.7h0M347.3 310.6h0M350.5 306.5h0M327.4 309.5h0M352.4 304.2h0M378.9 302.3h0M348.7 304.6h0M351.2 307.4h0M351.4 303.7h0M389.3 311.4h0M322.0 313.4h0M330.2 312.5h0M342.6 302.7h0M362.5 311.4h0M335.4 302.0h0M373.1 312.1h0M345.3 301.2h0M321.6 294.2h0M321.2 309.8h0M337.7 312.6h0M320.0 295.4h0M320.4 304.7h0M306.4 312.2h0M358.5 315.7h0M372.8 305.1h0M331.6 292.0h0M341.8 304.0h0M354.5 304.9h0M387.0 304.5h0M332.0 306.5h0M380.9 303.5h0M345.7 315.9h0M354.1 316.3h0M374.1 301.1h0M349.3 303.4h0M361.8 301.7h0M315.4 318.8h0M361.2 302.9h0M329.0 295.5h0M377.3 294.7h0M323.9 311.5h0M326.1 314.5h0M372.2 293.3h0M393.6 303.6h0M341.4 300.7h0M349.6 304.0h0M370.3 308.9h0M361.3 310.1h0M356.4 306.5h0M334.4 308.2h0M343.8 308.9h0M375.9 308.0h0M409.5 309.0h0M306.8 306.8h0M337.2 305.6h0M356.0 301.9h0M352.0 315.6h0M373.2 297.0h0M375.7 309.0h0M314.8 311.2h0M327.3 310.5h0M369.0 303.1h0M346.9 308.6h0M357.6 301.9h0M346.9 312.5h0M353.4 308.7h0M319.2 285.5h0M350.7 298.2h0M363.6 238.1h0M308.9 302.6h0M354.8 267.9h0M379.9 287.2h0M355.5 261.1h0M376.6 266.8h0M337.6 302.6h0M350.6 265.9h0M344.5 282.9h0M339.2 264.5h0M339.1 286.9h0M316.2 300.2h0M376.4 281.4h0M310.0 277.4h0M324.0 279.8h0M346.6 251.7h0M338.3 271.4h0M320.2 287.8h0M304.5 273.5h0M327.2 266.0h0M385.6 317.6h0M345.6 278.2h0M351.0 269.7h0M368.9 271.9h0M373.6 259.1h0M346.2 275.9h0M340.4 257.5h0M384.8 259.6h0M378.2 292.2h0M328.6 305.7h0M340.6 258.6h0M347.1 291.3h0M357.8 273.0h0M306.1 272.6h0M330.9 282.8h0M340.5 276.1h0M344.8 281.7h0M349.7 283.3h0M348.0 269.4h0M360.8 279.5h0M364.9 290.0h0M334.0 314.4h0M343.0 299.6h0M321.5 276.6h0M349.5 259.6h0M365.7 277.9h0M382.1 284.3h0M340.1 293.5h0M328.4 309.7h0M295.5 291.2h0M320.7 277.9h0M322.5 284.9h0M388.5 279.9h0M353.9 316.6h0M363.8 285.0h0M299.4 265.7h0M305.8 283.9h0M340.3 269.2h0M312.9 284.1h0M361.8 294.3h0M350.4 291.3h0M332.6 270.2h0M361.3 250.8h0M316.4 284.6h0M372.8 313.3h0M363.6 273.3h0M360.4 286.0h0M362.4 298.9h0M358.3 291.3h0M347.2 274.8h0M348.1 257.1h0M350.7 270.5h0M332.0 254.2h0M378.5 303.1h0M382.9 305.6h0M319.4 261.5h0M318.8 303.0h0M360.2 269.4h0M365.0 266.9h0M376.1 255.6h0M391.5 291.2h0M374.5 261.2h0M351.1 260.7h0M341.0 278.1h0M324.3 288.9h0M397.9 265.4h0M351.3 261.5h0M355.5 294.8h0M332.7 276.9h0M316.1 281.0h0M368.9 290.7h0M365.7 294.5h0M330.2 285.1h0M288.8 314.9h0M381.3 278.9h0M291.7 279.3h0M293.4 275.9h0M384.1 267.9h0M348.4 278.1h0M284.2 301.2h0M322.6 263.1h0M344.6 265.2h0M322.8 280.4h0M357.8 273.2h0M352.9 272.4h0M387.0 284.0h0M357.2 290.9h0M344.4 259.2h0M376.4 296.6h0M324.0 278.9h0M356.1 298.1h0M342.3 281.5h0M355.4 272.0h0M325.8 283.1h0M322.0 271.3h0M386.1 287.1h0M376.8 276.3h0M349.5 270.1h0M332.2 288.9h0M364.8 303.6h0M375.3 305.2h0M358.6 280.1h0M317.3 266.6h0M339.1 298.5h0M310.2 295.4h0M322.9 271.5h0M369.0 292.2h0M363.7 277.3h0M338.1 283.1h0M383.2 288.8h0M331.6 263.4h0M316.4 248.4h0M363.4 270.4h0M346.3 283.7h0M299.6 268.2h0M342.9 245.3h0M353.0 278.2h0M358.4 273.2h0M337.3 254.5h0M370.0 287.4h0M300.9 271.5h0M377.0 302.4h0M342.1 303.5h0M319.6 292.0h0M345.0 300.1h0M351.6 287.2h0M356.6 300.2h0M321.0 263.3h0M307.6 293.8h0M381.4 275.2h0M314.9 272.8h0M322.9 309.2h0M323.2 292.3h0M315.2 279.7h0M357.5 293.7h0M319.4 272.0h0M373.0 295.4h0M349.7 283.0h0M351.4 274.8h0M395.7 275.3h0M345.9 279.8h0M371.6 253.7h0M309.7 296.9h0M320.5 276.6h0M311.8 251.1h0M315.7 262.8h0M386.3 303.2h0M326.9 288.2h0M354.8 299.9h0M355.0 289.3h0M355.9 282.2h0M305.3 288.3h0M343.4 260.2h0M335.8 238.5h0M320.4 273.4h0M358.0 305.9h0M326.2 263.6h0M311.7 287.6h0M341.7 281.3h0M384.0 303.3h0M316.9 296.2h0M304.0 262.8h0M325.7 275.5h0M359.8 285.8h0M392.5 301.8h0M324.6 274.5h0M316.0 272.9h0M337.7 295.9h0M344.7 284.6h0M305.1 305.9h0M367.0 264.5h0M304.2 313.9h0M374.6 287.6h0M362.3 268.6h0M352.8 294.5h0M359.4 303.3h0M363.5 263.5h0M379.2 273.8h0M351.4 293.4h0M315.2 250.1h0M366.9 300.4h0M359.5 281.4h0M330.9 286.1h0M370.3 257.8h0M319.9 285.4h0M344.7 292.8h0M313.3 265.5h0M320.8 306.3h0M309.1 293.0h0M371.5 321.3h0M337.1 286.0h0M370.4 284.3h0M355.8 278.3h0M383.8 301.6h0M337.2 316.3h0M357.6 270.4h0M353.3 262.5h0M355.4 280.5h0M380.6 267.7h0M345.8 315.9h0M331.8 296.9h0M382.8 263.0h0M371.3 305.4h0M348.6 292.1h0M313.3 280.3h0M352.4 276.6h0M326.6 282.9h0M377.6 303.4h0M334.0 277.8h0M356.5 279.2h0M346.1 256.9h0M311.7 313.7h0M380.5 273.6h0M329.4 291.3h0M334.5 304.7h0M344.1 303.0h0M326.2 296.8h0M361.9 286.0h0M371.2 283.1h0M375.9 283.4h0M340.6 272.9h0M331.6 283.3h0M315.3 287.0h0M347.5 283.0h0M385.1 306.7h0M337.5 299.8h0M361.7 311.6h0M320.9 281.7h0M379.3 298.6h0M343.1 300.6h0M316.1 275.9h0M366.0 282.4h0M332.0 309.2h0M331.4 253.2h0M322.5 285.4h0M390.5 273.2h0M346.4 264.1h0M301.1 295.3h0M351.1 286.3h0M315.2 277.8h0M355.7 287.7h0M284.9 265.4h0M342.9 263.9h0M305.9 279.6h0M311.9 291.3h0M356.6 290.4h0M331.6 266.2h0M356.7 279.1h0M358.6 285.4h0M364.9 302.8h0M323.8 277.2h0M319.5 275.9h0M355.6 281.1h0M345.4 317.5h0M375.1 278.8h0M356.1 285.9h0M347.3 285.4h0M340.9 282.1h0M365.3 260.8h0M288.9 266.1h0M314.8 280.9h0M345.4 289.2h0M355.2 266.2h0M360.0 287.9h0M364.7 298.9h0M328.2 275.5h0M378.2 290.2h0M337.1 280.2h0M372.3 283.0h0M335.4 309.0h0M348.1 239.0h0M331.2 289.8h0M361.4 292.0h0M358.3 286.6h0M354.7 299.2h0M351.1 276.9h0M339.8 289.6h0M335.2 287.4h0M375.1 284.9h0M334.8 267.4h0M316.3 276.4h0M344.0 249.4h0M316.6 274.3h0M352.2 250.9h0M339.4 312.8h0M408.2 273.7h0M320.8 279.7h0M335.9 283.3h0M386.6 300.2h0M384.5 284.0h0M357.3 298.6h0M330.6 272.5h0M326.4 291.0h0M352.2 269.7h0M341.8 272.5h0M355.4 262.8h0M348.5 285.4h0M340.5 269.4h0M366.6 309.6h0M350.8 262.2h0M359.0 294.5h0M381.8 288.9h0M324.9 286.4h0M394.1 277.2h0M342.8 297.4h0M293.4 308.6h0M311.7 316.6h0M338.0 302.4h0M390.9 287.1h0M387.9 280.7h0M404.0 279.7h0M354.0 271.3h0M397.4 293.1h0M365.4 298.4h0M369.8 284.0h0M360.1 297.8h0M339.0 257.7h0M326.1 278.5h0M392.3 255.8h0M359.0 297.6h0M355.4 289.0h0M351.9 278.2h0M336.3 276.8h0M358.8 292.4h0M367.3 291.2h0M352.1 259.4h0M342.6 304.2h0M342.0 303.1h0M371.4 270.6h0M311.9 282.7h0M361.6 273.8h0M354.2 297.9h0M350.9 288.0h0M349.2 321.3h0M325.8 282.6h0M330.3 280.5h0M326.9 286.8h0M321.7 301.3h0M309.2 303.9h0M373.8 271.8h0M351.1 292.5h0M358.3 268.2h0M386.2 282.3h0M386.5 265.7h0M363.8 273.4h0M327.0 279.5h0M304.0 298.9h0M361.6 294.3h0M354.7 281.7h0M347.0 289.4h0M337.1 274.3h0M343.2 294.5h0M386.1 271.9h0M352.3 281.7h0M300.1 288.6h0M348.9 276.4h0M309.9 257.0h0M340.7 280.2h0M404.3 273.8h0M334.6 285.2h0M390.6 265.7h0M337.1 294.2h0M361.3 284.7h0M320.8 285.7h0M339.8 261.8h0M350.6 284.3h0M388.5 261.6h0M392.6 296.1h0M282.7 292.2h0M342.1 301.8h0M358.4 302.9h0M334.1 292.9h0M409.7 288.8h0M352.9 281.9h0M357.0 293.0h0M380.6 287.5h0M306.6 256.1h0M354.5 273.4h0M352.7 306.6h0M354.0 269.9h0M368.4 293.9h0M362.9 289.8h0M361.4 277.9h0M308.1 284.7h0M336.5 319.3h0M329.1 286.1h0M352.2 298.2h0M344.4 277.9h0M351.8 300.9h0M318.0 290.1h0M369.3 284.0h0M317.7 250.1h0M352.5 291.4h0M357.4 309.4h0M351.2 282.0h0M354.1 280.9h0M380.9 291.0h0M313.8 283.6h0M321.7 296.3h0M331.8 309.7h0M322.5 293.4h0M355.2 291.4h0M375.7 281.4h0M340.2 285.7h0M352.6 287.6h0M368.6 279.4h0M354.8 260.1h0M339.0 263.5h0M304.3 287.9h0M361.2 291.4h0M357.1 290.8h0M357.5 260.5h0M330.7 266.9h0M301.1 299.2h0M374.2 262.3h0M330.4 303.6h0M343.2 263.1h0M341.8 275.0h0M383.9 293.6h0M342.5 253.5h0M331.4 284.1h0M345.2 271.8h0M310.8 272.7h0M318.9 289.0h0M353.4 284.8h0M349.4 279.7h0M316.0 292.8h0M319.1 274.7h0M355.5 281.9h0M329.7 278.6h0M337.7 274.6h0M370.3 289.0h0M334.0 300.1h0M356.7 266.1h0M330.6 288.9h0M350.6 278.3h0M319.8 297.4h0M341.9 302.1h0M376.7 319.5h0M316.9 286.2h0M328.9 269.2h0M279.5 297.7h0M361.2 270.5h0M338.5 285.4h0M396.4 289.4h0M362.1 296.6h0M309.5 285.7h0M331.7 278.6h0M343.9 283.4h0M378.5 272.9h0M316.8 282.8h0M320.6 285.4h0M316.4 274.3h0M361.4 263.1h0M313.4 297.5h0M364.4 278.8h0M362.9 281.3h0M348.8 261.0h0M355.9 264.9h0M377.7 278.3h0M339.8 277.7h0M335.3 272.0h0M355.6 252.7h0M311.0 289.4h0M369.2 293.2h0M363.7 295.8h0M406.9 272.3h0M364.1 276.8h0M277.8 283.6h0M366.8 313.8h0M348.6 286.5h0M339.5 300.1h0M379.1 251.0h0M315.3 304.7h0M360.4 287.7h0M333.5 256.7h0M344.0 261.6h0M352.4 300.4h0M374.0 283.3h0M370.8 288.8h0M338.5 283.9h0M351.1 290.6h0M358.8 284.7h0M347.9 301.2h0M340.2 285.5h0M356.2 274.1h0M338.8 283.6h0M379.0 286.1h0M363.6 295.4h0M304.4 277.2h0M344.2 297.1h0M354.7 289.6h0M340.9 279.6h0M308.4 303.4h0M375.8 274.1h0M345.4 292.1h0M337.7 287.7h0M311.1 271.4h0M357.6 295.0h0M398.6 281.7h0M334.6 280.7h0M369.0 290.6h0M354.2 266.8h0M298.9 223.8h0M338.9 295.7h0M326.8 302.9h0M357.1 298.5h0M329.0 258.3h0M352.4 287.1h0M364.4 295.1h0M388.5 287.1h0M336.5 301.9h0M337.3 294.3h0M351.0 261.5h0M341.8 256.3h0M354.9 295.2h0M345.6 287.6h0M363.4 255.8h0M380.5 304.0h0M347.6 277.4h0M367.7 290.0h0M320.9 295.8h0M321.6 262.0h0M366.4 308.0h0M331.1 281.4h0M315.7 304.1h0M405.7 290.9h0M334.2 288.2h0M357.3 283.8h0M345.4 275.4h0M355.0 301.8h0M328.1 289.2h0M358.5 286.5h0M293.8 287.6h0M354.3 264.6h0M291.9 302.2h0M319.8 288.9h0M377.1 275.7h0M304.6 271.9h0M360.3 275.1h0M337.0 268.7h0M351.5 284.9h0M360.0 263.0h0M346.6 280.2h0M372.5 295.2h0M340.1 305.8h0M329.3 284.4h0M373.4 271.4h0M340.3 292.2h0M355.0 261.0h0M354.7 275.3h0M354.7 269.6h0M354.1 281.5h0M358.5 279.1h0M359.8 281.6h0M372.0 295.8h0M309.1 270.4h0M304.8 279.1h0M378.8 283.6h0M326.9 277.5h0M327.2 284.4h0M332.4 293.9h0M364.7 265.9h0M336.4 321.3h0M348.1 281.9h0M375.7 303.2h0M341.0 262.5h0M319.3 261.2h0M325.6 287.1h0M321.9 261.2h0M397.9 301.6h0M382.4 253.7h0M317.8 287.8h0M387.6 313.5h0M304.4 281.2h0M379.7 265.6h0M348.1 294.1h0M404.5 292.7h0M330.0 278.4h0M334.0 286.7h0M397.4 277.3h0M314.9 265.7h0M279.6 265.2h0M308.6 272.1h0M345.6 265.3h0M349.7 259.5h0M321.0 293.5h0M318.0 309.1h0M376.2 252.7h0M381.1 275.3h0M376.5 274.8h0M379.8 282.9h0M324.5 282.0h0M349.2 288.7h0M346.9 305.7h0M354.2 285.3h0M342.2 292.7h0M361.2 304.8h0M360.7 265.4h0M370.7 256.5h0M332.5 270.9h0M350.5 300.5h0M318.8 310.2h0M327.8 305.7h0M328.4 291.0h0M404.3 289.8h0M350.1 266.3h0M357.7 283.7h0M361.4 283.7h0M316.5 276.1h0M360.4 275.7h0M348.4 270.7h0M342.8 261.6h0M358.8 288.1h0M318.2 280.1h0M376.3 299.6h0M386.7 284.0h0M379.1 280.9h0M383.0 288.6h0M330.4 256.9h0M391.3 271.1h0M314.7 281.9h0M349.7 319.3h0M323.1 315.0h0M325.0 276.4h0M404.7 275.6h0M339.8 265.9h0M340.9 302.5h0M344.6 293.3h0M352.4 270.5h0M364.3 316.6h0M310.7 297.8h0M320.9 265.9h0M352.9 266.5h0M321.8 288.1h0M329.4 282.6h0M325.1 294.8h0M341.8 301.5h0M334.8 285.5h0M324.8 251.9h0M341.2 295.7h0M435.8 267.3h0M339.6 265.4h0M325.7 270.5h0M384.7 284.7h0M337.6 286.3h0M347.5 298.5h0M348.0 284.2h0M358.6 294.6h0M321.0 290.6h0M329.8 271.4h0M358.8 285.8h0M320.3 281.3h0M382.9 284.1h0M359.0 259.2h0M357.1 274.2h0M334.8 281.2h0M346.9 262.5h0M332.4 265.4h0M368.6 271.6h0M345.0 272.9h0M321.3 277.8h0M353.6 282.5h0M349.3 274.4h0M348.4 278.7h0M307.3 268.5h0M347.9 293.0h0M341.6 278.8h0M372.2 293.8h0M379.4 301.3h0M357.6 294.7h0M381.9 293.5h0M347.2 280.5h0M343.7 299.5h0M334.5 272.9h0M378.0 250.2h0M368.4 283.8h0M364.6 290.2h0M279.4 274.0h0M284.6 289.2h0M306.3 305.3h0M268.0 312.4h0M297.2 304.0h0M263.5 321.3h0M269.7 254.3h0M261.5 287.8h0M271.8 309.7h0M254.4 299.8h0M285.1 280.0h0M272.1 294.3h0M269.5 296.2h0M299.0 290.0h0M280.0 309.7h0M281.1 293.4h0M285.3 311.7h0M275.5 297.3h0M280.1 254.6h0M292.8 306.6h0M264.6 306.2h0M260.3 321.3h0M287.5 292.5h0M279.3 294.7h0M271.1 289.6h0M301.4 267.0h0M251.8 321.3h0M286.5 273.4h0M274.7 268.7h0M270.3 309.1h0M261.4 321.3h0M261.5 259.9h0M248.5 303.6h0M287.2 269.6h0M260.4 298.1h0M278.8 315.3h0M261.5 304.6h0M287.3 294.3h0M291.7 306.0h0M261.4 321.3h0M283.5 262.6h0M268.8 295.5h0M284.9 318.9h0M265.4 316.4h0M273.1 284.5h0M253.1 283.6h0M287.8 295.1h0M294.4 245.1h0M279.0 282.1h0M259.5 303.2h0M279.7 312.4h0M260.2 286.5h0M295.2 279.0h0M290.0 309.1h0M290.2 305.2h0M283.5 306.0h0M283.5 285.5h0M292.7 295.3h0M269.0 291.2h0M299.9 318.4h0M277.2 292.4h0M262.3 315.9h0M273.3 299.2h0M253.0 238.4h0M276.1 261.0h0M287.8 314.7h0M268.6 321.3h0M278.8 288.1h0M276.4 291.8h0M261.6 304.6h0M280.8 284.3h0M276.3 278.7h0M283.3 264.1h0M259.3 315.3h0M256.8 321.3h0M260.3 303.9h0M264.6 281.1h0M273.9 310.5h0M269.0 282.5h0M258.0 252.2h0M253.1 268.6h0M290.0 292.8h0M263.4 305.7h0M255.6 280.2h0M287.7 303.6h0M263.5 295.3h0M267.8 312.4h0M263.5 290.1h0M286.3 295.8h0M267.0 280.2h0M285.1 260.5h0M281.4 282.9h0M276.9 276.4h0M254.2 278.2h0M279.5 262.2h0M266.2 246.0h0M289.4 281.5h0M267.3 252.8h0M256.8 262.3h0M283.8 318.8h0M275.4 321.3h0M296.0 278.2h0M300.7 266.9h0M303.1 283.0h0M275.3 307.6h0M264.4 316.3h0M273.8 285.4h0M277.6 311.9h0M271.2 285.6h0M264.4 321.3h0M276.7 311.5h0M288.8 289.5h0M270.2 321.3h0M258.3 302.5h0M287.3 258.3h0M276.7 282.0h0M271.1 261.8h0M274.7 321.3h0M274.1 267.5h0M248.4 303.6h0M278.0 289.9h0M297.9 312.1h0M277.1 289.2h0M265.5 292.1h0M258.3 271.1h0M274.9 293.3h0M275.7 281.1h0M276.0 321.3h0M271.1 317.3h0M260.5 315.5h0M258.1 321.3h0M275.1 259.7h0M270.4 276.5h0M278.4 296.7h0M263.4 274.5h0M273.3 284.5h0M256.8 288.5h0M262.3 310.5h0M300.1 284.3h0M268.0 308.0h0M263.6 300.5h0M293.9 287.6h0M281.5 280.2h0M272.5 306.2h0M277.2 311.7h0M265.3 277.5h0M279.1 276.1h0M253.0 261.0h0M278.9 303.2h0M258.1 302.5h0M252.9 298.7h0M253.0 306.2h0M294.5 314.4h0M288.5 276.1h0M280.9 290.6h0M284.9 294.6h0M273.4 280.9h0M264.2 281.1h0M271.1 269.7h0M263.3 274.5h0M263.3 274.5h0M291.7 288.9h0M270.6 284.6h0M261.3 271.1h0M268.2 281.4h0M268.2 285.8h0M261.5 299.0h0M261.3 321.3h0M255.7 314.4h0M303.6 316.2h0M266.5 264.8h0M292.0 287.4h0M279.9 295.2h0M268.2 285.8h0M283.6 288.1h0M274.2 310.5h0M279.5 279.9h0M268.7 273.9h0M277.1 266.8h0M278.8 291.2h0M269.7 279.4h0M255.7 307.6h0M256.8 301.6h0M285.6 271.1h0M268.6 282.5h0M271.2 321.3h0M284.7 306.5h0M269.7 321.3h0M273.5 299.2h0M278.9 300.2h0M272.6 279.9h0M283.3 277.1h0M295.9 280.3h0M269.6 300.4h0M277.3 311.7h0M282.2 307.8h0M253.1 321.3h0M288.7 270.4h0M285.7 316.5h0M282.4 321.3h0M292.4 276.6h0M260.4 263.3h0M259.4 309.2h0M269.7 258.5h0M286.1 284.2h0M283.9 303.7h0M277.5 305.6h0M291.3 296.2h0M263.3 258.9h0M263.7 284.9h0M283.2 297.9h0M278.5 299.8h0M276.4 288.5h0M263.6 284.9h0M268.7 269.6h0M307.3 285.8h0M264.5 256.0h0M270.2 321.3h0M279.3 318.3h0M275.5 290.5h0M264.4 286.1h0M284.0 271.1h0M277.8 321.3h0M285.0 280.0h0M269.0 278.2h0M276.5 301.6h0M277.6 289.9h0M285.8 295.4h0M258.3 264.8h0M277.0 295.6h0M286.7 257.4h0M267.1 307.6h0M264.4 286.1h0M244.7 261.0h0M273.8 274.7h0M252.9 298.7h0M273.9 321.3h0M274.7 289.8h0M265.6 321.3h0M271.2 273.7h0M251.4 305.4h0M295.4 280.7h0M265.5 272.7h0M273.8 310.5h0M307.5 300.6h0M269.8 233.4h0M284.7 306.5h0M294.5 304.0h0M277.4 270.0h0M246.5 264.8h0M265.6 267.8h0M289.5 298.6h0M272.6 276.1h0M298.3 298.7h0M266.0 307.2h0M272.0 282.7h0M288.3 293.3h0M262.6 262.1h0M283.6 303.4h0M280.2 272.0h0M281.6 288.4h0M256.8 314.7h0M246.9 311.9h0M274.6 289.8h0M278.3 312.1h0M268.7 265.3h0M248.3 285.8h0M280.6 281.5h0M277.7 318.2h0M295.3 295.9h0M272.7 287.4h0M260.4 309.7h0M311.3 280.0h0M275.8 307.9h0M270.4 276.5h0M271.8 317.4h0M279.5 282.9h0M289.8 277.9h0M292.5 299.0h0M276.0 294.5h0M303.9 321.3h0M268.0 259.2h0M271.1 289.6h0M283.8 321.3h0M298.0 295.4h0M251.5 321.3h0M260.4 303.9h0M260.3 303.9h0M259.5 291.2h0M250.2 262.7h0M265.6 292.1h0M288.7 319.1h0M286.7 303.0h0M274.4 268.7h0M280.7 281.5h0M265.2 316.4h0M281.3 296.2h0M279.9 321.3h0M293.5 280.0h0M273.2 251.5h0M294.7 295.6h0M271.3 265.8h0M267.9 321.3h0M285.7 269.5h0M276.3 295.1h0M279.5 318.3h0M278.1 293.6h0M263.6 295.3h0M262.7 289.0h0M280.9 301.8h0M271.1 305.4h0M284.0 273.6h0M298.2 293.9h0M283.1 303.1h0M267.9 299.1h0M284.7 301.5h0M277.4 263.6h0M295.1 311.1h0M277.5 321.3h0M272.5 298.7h0M281.0 287.8h0M274.6 286.3h0M292.5 299.0h0M261.6 276.6h0M292.6 280.9h0M285.9 300.1h0M272.4 291.2h0M283.3 287.5h0M264.3 276.1h0M279.6 300.6h0M268.9 299.8h0M285.6 306.9h0M258.4 308.7h0M275.5 269.9h0M285.7 304.6h0M272.7 268.6h0M286.3 312.0h0M286.1 311.9h0M283.4 285.5h0M293.0 303.1h0M287.4 296.9h0M293.4 285.4h0M280.2 292.3h0M275.8 291.2h0M265.3 306.7h0M268.2 259.2h0M278.2 302.8h0M257.0 288.5h0M263.4 316.1h0M307.4 261.9h0M277.8 311.9h0M271.0 293.5h0M262.3 283.6h0M275.4 311.0h0M251.8 289.6h0M251.4 305.4h0M269.5 308.7h0M300.2 282.9h0M262.4 305.2h0M284.5 274.4h0M280.6 295.7h0M285.1 311.6h0M254.4 285.4h0M286.1 286.0h0M284.1 303.7h0M279.5 274.0h0M285.7 293.0h0M282.7 313.4h0M287.4 283.1h0M255.5 307.6h0M284.6 269.4h0M276.7 272.2h0M287.0 273.4h0M262.5 310.5h0M254.3 292.6h0M265.3 253.2h0M269.8 287.8h0M275.5 263.1h0M275.3 293.9h0M294.1 302.0h0M280.8 287.8h0M288.2 292.9h0M257.0 295.1h0M279.4 294.7h0M257.2 282.0h0M271.7 294.3h0M264.5 301.2h0M267.4 303.0h0M277.5 261.6h0M273.1 280.9h0M272.8 261.0h0M253.2 313.8h0M255.6 321.3h0M251.5 297.5h0M288.9 314.9h0M291.3 321.3h0M262.5 289.0h0M269.7 279.4h0M269.6 317.1h0M284.8 299.4h0M271.3 281.6h0M277.6 286.8h0M275.8 297.9h0M309.3 305.9h0M276.3 291.8h0M274.0 281.8h0M284.1 258.5h0M267.3 298.5h0M281.7 321.3h0M265.3 311.6h0M279.3 297.7h0M263.7 264.1h0M269.8 279.4h0M286.2 305.1h0M282.1 289.0h0M259.3 303.2h0M273.2 280.9h0M251.7 297.5h0M279.8 295.2h0M282.1 321.3h0M288.0 290.7h0M254.5 285.4h0M288.3 292.9h0M299.7 294.0h0M253.2 253.5h0M271.7 302.0h0M288.9 310.7h0M286.2 309.7h0M292.7 312.0h0M281.4 282.9h0M280.2 269.1h0M260.4 303.9h0M282.4 292.2h0M275.4 287.1h0M279.4 256.3h0M268.7 261.0h0M251.7 297.5h0M279.8 312.6h0M263.4 284.9h0M248.6 312.4h0M278.7 303.2h0M277.1 270.0h0M288.6 247.0h0M260.6 286.5h0M258.1 321.3h0M283.1 310.9h0M283.0 282.3h0M282.4 244.6h0M272.5 313.8h0M266.5 297.8h0M273.4 317.6h0M275.5 290.5h0M281.8 269.2h0M270.9 297.5h0M285.6 304.8h0M278.2 321.3h0M303.5 298.5h0M268.0 312.4h0M283.2 274.5h0M275.4 293.9h0M266.9 298.5h0M282.3 297.1h0M280.6 321.3h0M274.8 251.2h0M271.4 289.6h0M276.3 282.0h0M261.7 310.1h0M262.6 305.2h0M269.8 262.7h0M260.5 321.3h0M270.3 280.6h0M285.0 292.1h0M274.8 296.8h0M275.5 311.0h0M296.0 254.1h0M260.5 303.9h0M287.7 281.4h0M274.1 253.1h0M284.2 308.7h0M280.0 298.1h0M270.4 284.6h0M283.5 293.2h0M272.0 305.8h0M283.2 321.3h0M276.5 275.4h0M286.6 296.2h0M290.5 283.6h0M274.6 296.8h0M279.4 291.8h0M284.1 291.2h0M287.3 314.6h0M291.3 291.9h0M293.8 278.2h0M285.4 295.0h0M287.8 295.1h0M277.6 311.9h0M262.4 278.2h0M262.3 262.1h0M283.1 305.7h0M281.8 285.7h0M281.5 285.7h0M269.6 296.2h0M281.5 321.3h0M280.9 293.4h0M254.6 292.6h0M274.7 293.3h0M294.1 282.3h0M283.9 316.3h0M287.4 294.3h0M290.2 298.9h0M272.4 283.6h0M269.4 266.9h0M265.6 292.1h0M276.4 285.3h0M278.0 302.5h0M265.4 277.5h0M261.6 315.7h0M276.5 301.6h0M246.6 302.5h0M250.0 321.3h0M267.3 280.2h0M272.0 267.2h0M286.2 295.8h0M286.0 316.6h0M263.4 316.1h0M282.5 321.3h0M279.2 277.0h0M271.3 257.8h0M276.1 284.5h0M272.5 306.2h0M276.4 246.0h0M276.0 277.8h0M285.2 316.4h0M260.6 286.5h0M289.1 283.6h0M261.5 282.2h0M274.0 296.2h0M273.8 296.2h0M267.9 272.5h0M279.1 315.3h0M272.8 302.5h0M298.8 300.4h0M287.2 292.1h0M271.1 309.4h0M298.1 313.6h0M280.1 312.6h0M270.2 268.4h0M309.2 282.3h0M261.3 321.3h0M281.4 296.6h0M292.5 315.7h0M259.1 303.2h0M275.2 317.9h0M263.3 279.7h0M274.5 268.7h0M269.4 304.6h0M264.5 291.2h0M280.7 292.9h0M263.3 321.3h0M257.1 268.9h0M266.3 302.5h0M272.6 276.1h0M283.9 281.1h0M285.0 316.4h0M295.8 274.9h0M306.7 259.4h0M267.8 294.7h0M307.0 272.5h0M282.1 283.6h0M285.4 261.5h0M288.6 304.1h0M294.4 316.0h0M294.0 284.1h0M264.6 281.1h0M295.8 286.5h0M277.2 302.1h0M268.0 259.2h0M294.5 291.5h0M252.8 298.7h0M250.1 304.6h0M276.6 272.2h0M272.0 317.4h0M291.3 313.6h0M273.1 313.9h0M284.9 263.0h0M267.0 289.3h0M269.7 271.1h0M280.7 315.6h0M287.1 321.3h0M280.1 260.4h0M275.3 304.2h0M301.2 278.4h0M290.9 273.7h0M280.9 318.5h0M276.6 278.7h0M271.6 255.6h0M270.2 296.9h0M289.3 246.0h0M276.4 291.8h0M265.3 292.1h0M294.6 288.4h0M278.1 278.2h0M262.6 321.3h0M269.8 304.6h0M281.5 293.9h0M285.7 278.9h0M281.2 312.9h0M255.5 300.8h0M282.8 271.1h0M272.3 313.8h0M284.5 301.5h0M279.4 256.3h0M262.7 305.2h0M282.2 294.4h0M288.3 284.7h0M289.4 306.6h0M269.5 300.4h0M252.8 276.1h0M264.5 286.1h0M290.9 284.1h0M297.7 298.2h0M278.9 282.1h0M258.4 271.1h0M285.8 286.0h0M266.3 302.5h0M281.8 282.9h0M256.9 321.3h0M287.0 264.2h0M284.6 276.8h0M266.5 316.6h0M271.7 313.6h0M288.5 295.5h0M287.2 321.3h0M288.5 295.5h0M281.7 263.8h0M288.6 286.9h0M266.2 269.5h0M274.1 317.7h0M282.5 292.2h0M260.5 309.7h0M277.7 283.6h0M264.5 281.1h0M278.8 291.2h0M279.3 277.0h0M267.0 266.5h0M282.1 318.6h0M274.1 285.4h0M275.8 307.9h0M270.2 292.8h0M279.0 309.2h0M281.6 315.8h0M280.7 315.6h0M268.8 291.2h0M258.1 271.1h0M268.8 265.3h0M254.6 314.1h0M289.0 298.0h0M281.9 291.7h0M279.1 264.0h0M295.3 289.1h0M297.2 291.2h0M276.8 288.5h0M271.7 305.8h0M257.0 275.4h0M272.7 287.4h0M294.7 252.0h0M283.9 256.0h0M272.5 313.8h0M296.9 294.0h0M259.3 273.1h0M297.6 290.2h0M290.4 301.2h0M268.7 299.8h0M277.8 308.7h0M284.1 293.7h0M285.0 304.3h0M295.8 311.4h0M283.4 272.8h0M288.7 295.8h0M272.6 298.7h0M276.1 304.6h0M282.5 302.8h0M254.3 285.4h0M259.4 297.2h0M284.9 277.5h0M280.2 315.5h0M264.6 286.1h0M278.0 264.8h0M291.5 315.5h0M279.1 273.1h0M258.3 308.7h0M281.2 296.2h0M285.6 318.9h0M254.4 285.4h0M290.5 321.3h0M255.9 307.6h0M277.5 289.9h0M259.2 303.2h0M290.4 277.1h0M272.4 310.0h0M303.8 286.1h0M249.8 271.1h0M277.6 308.7h0M280.6 284.3h0M306.3 277.1h0M276.4 268.9h0M286.3 298.1h0M276.0 277.8h0M270.4 313.2h0M277.8 305.6h0M272.0 255.6h0M266.1 302.5h0M273.4 280.9h0M287.8 297.3h0M267.2 307.6h0M254.3 314.1h0M282.8 302.8h0M272.6 291.2h0M289.8 234.6h0M277.7 274.2h0M286.6 266.5h0M260.5 292.3h0M293.4 303.4h0M302.3 301.5h0M285.4 292.6h0M283.5 295.8h0M284.1 268.6h0M289.6 304.8h0M271.7 271.1h0M274.7 321.3h0M278.5 275.2h0M263.3 305.7h0M274.8 279.2h0M261.5 293.4h0M284.9 304.3h0M284.3 273.6h0M290.3 303.2h0M280.7 261.6h0M271.7 309.7h0M297.2 238.1h0M298.0 307.5h0M285.5 292.6h0M260.6 321.3h0M277.3 305.3h0M284.7 318.8h0M266.2 321.3h0M303.0 280.1h0M297.4 266.4h0M277.6 308.7h0M291.5 274.9h0M264.3 296.2h0M301.3 318.6h0M278.3 293.6h0M281.2 301.8h0M293.3 303.1h0M285.1 280.0h0M290.1 298.9h0M277.7 283.6h0M275.7 274.4h0M265.3 306.7h0M263.3 290.1h0M313.8 276.4h0M260.5 280.7h0M276.9 308.5h0M282.3 294.4h0M278.4 284.4h0M258.2 302.5h0M280.7 292.9h0M314.4 298.2h0M301.1 290.9h0M286.5 316.7h0M280.5 273.0h0M297.0 299.1h0M283.1 284.9h0M273.8 303.4h0M254.4 271.1h0M300.0 276.8h0M280.4 287.2h0M258.0 308.7h0M285.9 262.4h0M281.5 282.9h0M298.3 301.7h0M279.5 288.8h0M280.6 292.9h0M255.7 293.9h0M271.7 251.7h0M249.9 296.2h0M278.6 305.9h0M281.1 279.4h0M310.3 298.5h0M281.0 310.1h0M264.5 311.3h0M296.7 314.9h0M276.8 311.5h0M267.1 293.9h0M297.4 280.5h0M278.4 287.5h0M265.4 277.5h0M274.6 310.8h0M277.9 289.9h0M304.1 301.7h0M263.7 305.7h0M285.8 264.8h0M284.6 286.7h0M263.5 295.3h0M272.0 290.4h0M289.0 295.8h0M259.3 273.1h0M273.3 269.8h0M269.7 283.6h0M276.1 281.1h0M286.5 319.0h0M291.5 282.7h0M275.7 284.5h0M277.8 274.2h0M264.4 316.3h0M292.0 273.6h0M266.4 250.7h0M289.4 288.3h0M277.6 321.3h0M265.6 282.4h0M303.1 312.3h0M272.6 283.6h0M248.2 303.6h0M261.3 243.2h0M286.5 296.2h0M269.6 266.9h0M275.3 304.2h0M272.1 309.7h0M281.3 287.8h0M273.2 310.3h0M269.4 287.8h0M283.8 300.9h0M263.7 248.5h0M294.1 293.3h0M298.1 301.5h0M311.9 292.9h0M261.7 293.4h0M284.7 311.4h0M280.5 270.1h0M270.3 280.6h0M265.5 321.3h0M263.3 274.5h0M269.4 283.6h0M273.8 278.2h0M288.3 293.3h0M275.5 307.6h0M277.0 282.8h0M296.9 289.2h0M265.2 306.7h0M288.8 308.6h0M276.7 295.1h0M276.4 291.8h0M297.7 290.2h0M299.6 285.1h0M278.5 287.5h0M246.9 274.2h0M269.4 292.0h0M272.5 283.6h0M262.7 283.6h0M266.4 321.3h0M280.4 258.7h0M285.2 280.6h0M291.4 257.5h0M269.4 283.6h0M263.4 284.9h0M289.0 264.8h0M273.9 306.9h0M271.4 317.3h0M258.0 252.2h0M259.1 291.2h0M277.0 273.2h0M278.5 275.2h0M279.9 289.4h0M286.5 321.3h0M288.6 301.9h0M259.1 279.1h0M280.4 301.4h0M268.0 294.7h0M275.4 297.3h0M255.9 266.5h0M274.6 272.2h0M276.4 298.4h0M248.5 277.0h0M283.8 295.8h0M293.4 297.7h0M287.2 280.8h0M281.8 252.8h0M278.1 305.9h0M288.8 291.6h0M278.0 280.5h0M281.5 291.2h0M260.3 309.7h0M258.1 271.1h0M294.3 300.3h0M264.3 271.1h0M253.0 276.1h0M276.4 301.6h0M273.1 280.9h0M268.8 286.9h0M268.8 312.7h0M259.1 315.3h0M285.7 290.7h0M255.4 300.8h0M271.9 321.3h0M269.0 239.5h0M287.8 275.4h0M268.2 299.1h0M293.2 292.2h0M277.7 321.3h0M278.8 285.1h0M298.3 285.1h0M262.7 299.8h0M285.3 256.7h0M257.1 308.2h0M287.1 292.1h0M283.6 272.8h0M291.3 262.6h0M244.7 261.0h0M267.2 271.1h0M293.3 294.1h0M266.2 293.0h0M260.2 315.5h0M285.4 297.4h0M283.1 321.3h0M307.8 309.3h0M258.1 296.2h0M290.4 285.1h0M250.2 304.6h0M266.3 278.9h0M302.3 296.4h0M283.2 274.5h0M284.4 299.1h0M281.2 293.4h0M260.4 286.5h0M289.1 266.9h0M294.1 286.3h0M269.7 308.7h0M260.4 263.3h0M269.8 300.4h0M268.7 304.1h0M296.2 282.0h0M296.9 287.6h0M260.5 292.3h0M274.7 293.3h0M254.5 314.1h0M276.9 295.6h0M294.2 277.0h0M282.3 318.6h0M260.3 286.5h0M288.7 293.7h0M272.6 268.6h0M288.9 283.1h0M258.0 302.5h0M265.3 311.6h0M287.4 283.1h0M278.9 285.1h0M267.1 312.2h0M277.7 286.8h0M251.3 289.6h0M271.2 293.5h0M278.4 281.3h0M280.6 315.6h0M260.7 274.9h0M267.0 321.3h0M282.5 318.7h0M270.3 300.9h0M271.0 297.5h0M276.1 274.4h0M278.9 279.1h0M274.0 317.7h0M286.2 270.3h0M283.0 271.9h0M290.7 273.7h0M250.0 296.2h0M275.8 294.5h0M266.4 293.0h0M280.6 258.7h0M283.4 316.2h0M272.5 302.5h0M270.3 288.7h0M265.3 297.0h0M275.1 293.9h0M273.4 310.3h0M277.3 298.9h0M266.1 283.6h0M284.6 266.9h0M251.6 265.8h0M264.5 271.1h0M293.4 295.9h0M297.0 306.9h0M274.6 317.8h0M280.5 309.9h0M261.5 299.0h0M268.7 282.5h0M263.6 321.3h0M264.2 281.1h0M255.9 300.8h0M279.6 274.0h0M268.0 277.0h0M280.5 301.4h0M275.8 281.1h0M293.6 274.7h0M272.4 317.5h0M278.3 278.2h0M295.7 281.6h0M277.6 283.6h0M270.4 276.5h0M261.4 265.5h0M278.0 311.9h0M267.2 303.0h0M279.6 297.7h0M279.5 294.7h0M280.1 263.3h0M254.5 321.3h0M289.0 321.3h0M292.2 279.9h0M254.3 292.6h0M264.3 266.0h0M274.8 293.3h0M279.0 294.2h0M279.3 253.3h0M295.1 280.2h0M298.1 318.2h0M246.7 293.0h0M255.9 266.5h0M266.3 288.3h0M282.0 278.2h0M279.3 285.8h0M289.9 280.6h0M281.3 273.9h0M278.4 296.7h0M265.3 301.9h0M281.1 296.2h0M266.2 293.0h0M264.6 301.2h0M267.0 271.1h0M277.3 295.6h0M283.5 267.7h0M287.5 252.6h0M252.8 276.1h0M269.8 321.3h0M264.3 281.1h0M264.4 286.1h0M274.6 279.2h0M268.0 294.7h0M275.9 311.3h0M287.0 274.1h0M280.8 301.4h0M281.3 299.0h0M267.0 321.3h0M267.3 284.8h0M257.9 308.7h0M262.5 278.2h0M287.4 281.4h0M274.6 293.3h0M269.0 308.4h0M268.0 321.3h0M275.7 274.4h0M291.4 298.1h0M284.4 316.4h0M302.1 269.3h0M290.2 282.6h0M284.4 262.0h0M277.9 252.2h0M274.0 274.7h0M273.5 277.2h0M265.5 301.9h0M266.9 298.5h0M265.2 311.6h0M282.3 307.8h0M262.5 321.3h0M273.1 288.2h0M260.4 303.9h0M268.6 295.5h0M291.4 290.0h0M305.1 296.4h0M284.2 301.2h0M275.4 276.8h0M290.2 293.2h0M297.6 313.5h0M284.3 291.2h0M277.6 283.6h0M275.3 300.8h0M288.4 273.9h0M286.8 319.0h0M270.9 305.4h0M281.8 274.7h0M278.8 309.2h0M283.3 295.3h0M290.9 293.9h0M281.2 293.4h0M270.6 305.0h0M277.7 308.7h0M260.6 286.5h0M282.5 294.9h0M264.7 311.3h0M255.9 293.9h0M272.1 286.5h0M254.4 278.2h0M265.6 316.4h0M277.6 308.7h0M276.3 288.5h0M263.6 290.1h0M274.1 321.3h0M278.9 249.0h0M295.7 292.8h0M258.2 315.0h0M279.4 312.4h0M277.7 293.0h0M268.9 299.8h0M277.7 311.9h0M271.4 289.6h0M262.5 315.9h0M275.9 307.9h0M265.6 287.3h0M258.3 283.6h0M263.6 300.5h0M287.9 288.5h0M299.1 279.9h0M281.4 285.7h0M259.4 309.2h0M265.3 311.6h0M293.7 265.7h0M285.3 290.2h0M275.4 314.4h0M284.3 301.2h0M258.0 277.3h0M281.9 267.5h0M290.5 269.7h0M267.2 307.6h0M280.7 255.9h0M259.2 273.1h0M284.9 309.1h0M273.8 303.4h0M281.1 299.0h0M260.5 286.5h0M270.1 276.5h0M277.0 292.4h0M295.1 282.4h0M276.9 286.0h0M267.4 293.9h0M284.9 301.9h0M264.6 321.3h0M253.1 321.3h0M275.1 300.8h0M258.3 308.7h0M277.1 311.7h0M267.0 284.8h0M286.8 291.6h0M282.5 297.5h0M269.7 304.6h0M295.2 251.9h0M277.5 280.5h0M281.7 293.9h0M265.2 292.1h0M275.4 300.8h0M269.4 262.7h0M269.4 292.0h0M277.1 286.0h0M274.8 321.3h0M294.8 284.9h0M277.5 296.2h0M250.2 262.7h0M288.1 273.3h0M276.5 268.9h0M281.0 293.4h0M292.9 288.2h0M280.4 298.6h0M266.5 307.2h0M295.7 282.8h0M305.3 303.6h0M257.9 289.9h0M256.9 268.9h0M292.7 264.3h0M278.2 296.7h0M309.7 291.8h0M272.4 272.3h0M272.6 294.9h0M260.2 269.1h0M278.8 270.1h0M264.5 306.2h0M281.0 290.6h0M275.2 273.4h0M261.4 259.9h0M271.0 281.6h0M287.0 305.6h0M286.7 298.5h0M288.2 312.7h0M286.1 314.2h0M294.9 321.3h0M273.1 269.8h0M286.2 319.0h0M268.6 304.1h0M287.9 301.6h0M258.4 315.0h0M261.7 315.7h0M273.5 291.9h0M280.2 277.8h0M267.1 289.3h0M264.7 281.1h0M278.4 290.5h0M297.2 276.9h0M266.2 293.0h0M253.1 313.8h0M295.6 296.2h0M270.3 300.9h0M249.9 321.3h0M275.4 283.6h0M285.8 307.2h0M288.5 291.2h0M266.9 316.7h0M295.5 281.1h0M281.8 274.7h0M251.5 281.6h0M273.9 281.8h0M256.7 282.0h0M276.4 295.1h0M295.3 306.2h0M280.6 281.5h0M258.2 302.5h0M274.5 310.8h0M261.3 299.0h0M287.6 321.3h0M280.2 298.1h0M264.2 316.3h0M290.8 321.3h0M272.0 286.5h0M253.2 298.7h0M293.3 287.2h0M275.2 317.9h0M280.8 295.7h0M294.4 310.8h0M288.2 278.2h0M276.5 285.3h0M244.9 291.2h0M281.9 313.2h0M273.9 299.8h0M265.6 272.7h0M273.1 280.9h0M292.2 321.3h0M245.1 281.1h0M266.4 293.0h0M303.3 321.3h0M263.7 264.1h0M271.0 289.6h0M274.9 296.8h0M296.7 306.9h0M269.8 304.6h0M281.2 287.8h0M255.8 300.8h0M248.5 277.0h0M269.7 296.2h0M279.0 288.1h0M254.2 321.3h0M292.5 310.1h0M261.6 310.1h0M269.5 321.3h0M295.8 314.6h0M294.8 271.1h0M271.2 265.8h0M283.5 275.3h0M257.1 268.9h0M277.0 286.0h0M251.6 321.3h0M254.2 292.6h0M254.6 271.1h0M250.2 296.2h0M281.5 272.0h0M277.7 246.0h0M273.2 299.2h0M285.7 309.5h0M254.1 263.9h0M277.6 249.1h0M264.7 291.2h0M263.5 269.3h0M286.5 307.6h0M293.5 296.2h0M277.1 263.6h0M275.4 293.9h0M299.6 281.8h0M271.4 305.4h0M254.1 249.5h0M298.1 307.6h0M260.6 309.7h0M281.3 248.7h0M256.8 301.6h0M276.0 297.9h0M273.0 269.8h0M289.4 317.1h0M250.0 279.4h0M288.8 306.4h0M266.1 274.2h0M274.5 307.3h0M290.2 290.8h0M289.7 292.4h0M254.6 306.9h0M281.2 299.0h0M276.6 288.5h0M273.9 299.8h0M272.0 302.0h0M277.1 305.3h0M292.6 289.7h0M284.9 267.8h0M284.4 276.8h0M298.7 292.7h0M281.4 277.5h0M280.7 307.1h0M280.0 283.6h0M285.2 306.9h0M292.4 319.4h0M278.6 315.1h0M295.6 264.4h0M281.1 285.0h0M268.9 304.1h0M278.4 321.3h0M244.8 301.2h0M265.2 267.8h0M265.5 301.9h0M286.5 300.4h0M280.7 287.2h0M270.9 265.8h0M259.2 291.2h0M268.0 259.2h0M275.8 291.2h0M278.2 305.9h0M283.0 284.9h0M279.7 282.9h0M274.8 300.3h0M260.2 280.7h0M273.9 314.1h0M265.4 272.7h0M288.0 295.1h0M280.5 281.5h0M261.3 276.6h0M265.5 316.4h0M283.4 318.7h0M279.8 260.4h0M261.4 310.1h0M293.6 321.3h0M263.7 321.3h0M294.0 282.3h0M261.7 287.8h0M274.2 296.2h0M286.8 280.2h0M274.5 321.3h0M264.5 271.1h0M282.7 289.6h0M262.6 256.7h0M277.7 311.9h0M246.6 302.5h0M275.1 280.2h0M259.1 279.1h0M269.4 275.3h0M267.3 321.3h0M268.6 282.5h0M286.0 257.7h0M259.3 297.2h0M292.0 262.2h0M267.8 312.4h0M270.4 300.9h0M263.5 279.7h0M273.3 277.2h0M277.6 296.2h0M288.7 281.0h0M275.4 293.9h0M291.4 288.5h0M283.6 283.0h0M259.3 321.3h0M272.7 257.3h0M261.3 287.8h0M262.7 272.9h0M275.4 263.1h0M269.6 275.3h0M305.0 303.2h0M284.7 274.4h0M287.9 303.8h0M300.4 254.5h0M274.0 310.5h0M291.3 273.0h0M268.0 263.7h0M283.4 311.1h0M271.0 277.7h0M250.3 279.4h0M294.9 297.3h0M269.4 312.9h0M267.1 307.6h0M276.9 292.4h0M270.2 284.6h0M278.9 285.1h0M260.5 292.3h0M267.4 271.1h0M289.3 296.2h0M290.5 295.2h0M275.4 321.3h0M283.5 272.8h0M244.9 321.3h0M274.2 274.7h0M276.5 278.7h0M286.5 321.3h0M271.4 297.5h0M269.5 292.0h0M296.6 293.8h0M249.8 279.4h0M291.5 305.8h0M292.4 306.2h0M255.5 246.0h0M260.4 257.5h0M287.8 295.1h0M251.6 297.5h0M257.1 301.6h0M284.3 294.1h0M276.4 308.2h0M274.6 261.7h0M300.5 292.0h0M256.8 255.8h0M259.2 285.1h0M276.3 318.0h0M289.4 282.1h0M286.9 285.3h0M277.4 305.3h0M285.0 272.7h0M254.4 263.9h0M286.4 268.0h0M274.0 296.2h0M293.0 304.8h0M272.5 279.9h0M270.2 280.6h0M265.6 267.8h0M266.5 278.9h0M254.3 321.3h0M280.9 318.5h0M283.3 303.1h0M288.2 273.3h0M280.6 270.1h0M267.2 293.9h0M277.1 302.1h0M282.0 289.0h0M291.3 296.2h0M283.5 311.1h0M287.7 281.4h0M280.1 263.3h0M262.7 278.2h0M265.2 267.8h0M300.5 287.5h0M268.0 308.0h0M291.3 269.1h0M289.1 304.3h0M287.8 282.0h0M272.6 294.9h0M259.4 321.3h0M293.0 303.1h0M276.4 308.2h0M271.2 305.4h0M270.4 313.2h0M263.7 279.7h0M295.1 287.1h0M259.2 309.2h0M267.3 284.8h0M280.0 309.7h0M274.7 261.7h0M283.8 293.2h0M272.4 291.2h0M274.7 265.2h0M297.5 316.6h0M286.2 298.1h0M271.3 293.5h0M258.0 321.3h0M260.5 286.5h0M255.7 287.1h0M281.1 299.0h0M273.5 321.3h0M264.5 266.0h0M281.6 272.0h0M258.2 277.3h0M251.5 249.9h0M275.4 307.6h0M281.3 268.3h0M279.4 303.6h0M281.2 293.4h0M263.3 290.1h0M271.1 289.6h0M269.0 282.5h0M282.0 321.3h0M272.4 310.0h0M287.7 290.3h0M257.0 321.3h0M282.8 305.4h0M269.0 256.7h0M270.4 280.6h0M269.9 292.0h0M284.7 321.3h0M261.6 265.5h0M250.0 271.1h0M275.9 264.4h0M279.0 318.3h0M301.4 268.4h0M267.1 298.5h0M271.0 289.6h0M298.6 282.1h0M282.5 321.3h0M308.7 277.0h0M283.7 290.6h0M265.3 311.6h0M259.1 315.3h0M284.6 276.8h0M255.8 266.5h0M295.7 289.5h0M279.4 312.4h0M262.6 272.9h0M261.5 310.1h0M260.6 292.3h0M296.2 293.5h0M269.4 317.1h0M266.2 283.6h0M281.9 310.5h0M283.3 239.6h0M261.3 299.0h0M289.8 303.0h0M261.6 304.6h0M278.6 256.7h0M283.5 280.4h0M265.5 316.4h0M272.1 298.1h0M276.4 295.1h0M281.8 288.4h0M278.9 318.3h0M261.7 315.7h0M281.9 299.8h0M272.6 287.4h0M272.4 264.8h0M279.5 268.1h0M297.8 274.7h0M272.4 321.3h0M280.1 272.0h0M278.7 288.1h0M274.7 293.3h0M283.4 275.3h0M279.5 288.8h0M246.4 311.9h0M288.5 312.7h0M261.3 271.1h0M282.8 284.3h0M282.3 286.3h0M267.2 298.5h0M271.7 251.7h0M272.8 257.3h0M273.3 269.8h0M270.2 300.9h0M268.1 303.6h0M272.0 278.8h0M275.8 281.1h0M251.7 281.6h0M267.4 271.1h0M274.1 263.9h0M275.9 234.2h0M274.6 251.2h0M296.9 280.1h0M304.9 293.6h0M290.1 254.1h0M287.3 271.8h0M271.0 289.6h0M258.3 283.6h0M278.9 267.0h0M273.9 303.4h0M255.8 307.6h0M256.9 288.5h0M278.4 262.9h0M273.9 260.3h0M273.9 310.5h0M261.6 276.6h0M289.7 286.2h0M273.2 306.6h0M284.2 298.7h0M278.0 249.1h0M250.2 287.8h0M282.6 281.6h0M284.7 291.7h0M286.0 281.3h0M282.1 283.6h0M279.8 295.2h0M277.5 293.0h0M251.5 281.6h0M286.0 300.1h0M251.7 313.4h0M281.3 304.6h0M292.9 291.9h0M273.9 292.6h0M282.4 273.7h0M257.0 288.5h0M276.1 321.3h0M277.0 305.3h0M272.8 310.0h0M265.5 258.1h0M290.1 301.2h0M280.6 270.1h0M290.6 297.5h0M261.3 282.2h0M255.7 300.8h0M290.9 299.5h0M263.5 274.5h0M272.7 272.3h0M267.0 280.2h0M278.3 293.6h0M280.9 293.4h0M284.4 291.7h0M260.4 303.9h0M278.5 302.8h0M277.1 279.6h0M271.1 281.6h0M286.1 295.4h0M281.7 285.7h0M280.4 307.1h0M283.1 292.7h0M275.3 297.3h0M279.5 291.8h0M308.6 304.3h0M285.7 261.5h0M287.1 316.8h0M295.0 289.1h0M280.8 310.1h0M278.2 290.5h0M248.5 268.1h0M276.9 276.4h0M281.2 321.3h0M265.2 321.3h0M283.5 295.8h0M277.8 274.2h0M285.6 302.2h0M285.9 307.2h0M277.1 250.8h0M258.1 308.7h0M256.8 321.3h0M258.2 296.2h0M259.2 279.1h0M280.6 307.1h0M276.3 288.5h0M282.6 260.5h0M276.1 291.2h0M251.3 305.4h0M284.6 262.0h0M281.9 297.1h0M292.0 321.3h0M299.5 308.1h0M285.4 273.5h0M274.8 293.3h0M260.5 303.9h0M283.4 311.1h0M282.3 299.8h0M294.6 272.8h0M268.2 290.3h0M260.3 298.1h0M285.9 271.9h0M279.7 291.8h0M300.0 271.1h0M276.3 278.7h0M260.4 303.9h0M265.6 263.0h0M265.3 258.1h0M270.2 305.0h0M273.5 313.9h0M272.7 261.0h0M276.3 282.0h0M278.8 239.9h0M292.8 300.8h0M292.3 291.2h0M263.6 305.7h0M287.0 321.3h0M252.8 238.4h0M274.2 285.4h0M282.8 286.9h0M284.5 299.1h0M267.0 284.8h0M283.8 318.8h0M286.1 291.2h0M286.8 261.9h0M268.9 295.5h0M289.8 277.9h0M286.5 280.2h0M272.4 264.8h0M292.8 295.3h0M263.3 295.3h0M283.3 284.9h0M257.1 255.8h0M266.2 302.5h0M283.9 278.6h0M287.1 310.1h0M273.9 317.7h0M277.1 308.5h0M282.2 297.1h0M270.2 288.7h0M285.0 301.9h0M290.4 315.3h0M267.2 321.3h0M273.2 295.6h0M265.3 316.4h0M287.5 319.1h0M278.7 282.1h0M276.3 321.3h0M274.6 303.8h0M277.4 263.6h0M301.0 287.1h0M270.3 276.5h0M263.7 284.9h0M276.0 297.9h0M287.0 277.9h0M274.8 286.3h0M274.5 254.7h0M283.1 261.5h0M289.3 269.0h0M258.3 264.8h0M268.7 278.2h0M266.4 274.2h0M278.1 250.6h0M252.8 268.6h0M269.8 258.5h0M289.8 292.8h0M246.5 264.8h0M280.8 267.3h0M260.4 298.1h0M285.2 280.0h0M282.9 279.7h0M280.0 266.2h0M285.8 276.6h0M280.3 275.8h0M281.0 262.7h0M262.4 256.7h0M285.3 263.9h0M285.9 271.9h0M262.6 272.9h0M277.5 255.4h0M278.4 275.2h0M270.2 260.2h0M264.4 286.1h0M290.6 273.7h0M254.3 285.4h0M298.3 253.5h0M249.8 279.4h0M263.4 290.1h0M259.5 279.1h0M279.0 264.0h0M283.2 277.1h0M269.5 279.4h0M277.3 257.2h0M283.5 288.1h0M280.7 255.9h0M271.4 273.7h0M278.1 284.4h0M266.0 269.5h0M264.3 281.1h0M252.8 298.7h0M262.4 262.1h0M295.9 285.3h0M295.7 264.4h0M270.5 239.8h0M258.2 296.2h0M254.3 263.9h0M283.3 274.5h0M274.8 286.3h0M260.3 280.7h0M286.3 254.1h0M287.8 270.3h0M259.3 273.1h0M284.8 289.7h0M281.8 266.5h0M261.4 287.8h0M286.3 268.0h0M283.1 256.3h0M277.2 270.0h0M304.1 260.0h0M274.1 263.9h0M272.7 291.2h0M273.1 280.9h0M285.5 254.3h0M278.8 282.1h0M245.1 291.2h0M291.6 279.3h0M273.5 258.8h0M283.4 293.2h0M278.3 281.3h0M295.8 286.5h0M285.7 283.0h0M282.3 262.1h0M261.5 248.7h0M254.6 256.7h0M272.6 257.3h0M283.7 298.3h0M258.2 277.3h0M310.7 278.5h0M260.6 274.9h0M265.5 277.5h0M246.9 264.8h0M286.5 277.2h0M283.5 280.4h0M256.8 249.2h0M281.4 277.5h0M272.6 276.1h0M263.5 258.9h0M267.2 261.9h0M277.4 257.2h0M283.9 276.1h0M256.9 275.4h0M285.7 290.7h0M276.1 267.7h0M262.5 294.4h0M279.3 256.3h0M265.3 267.8h0M263.4 264.1h0M281.9 294.4h0M291.7 283.1h0M263.3 295.3h0M275.3 280.2h0M285.9 281.3h0M252.9 268.6h0M286.7 273.4h0M267.0 266.5h0M255.5 259.7h0M261.7 293.4h0M279.8 254.6h0M259.5 279.1h0M253.1 261.0h0M280.6 275.8h0M246.8 227.1h0M279.0 249.0h0M269.6 283.6h0M261.4 293.4h0M270.5 296.9h0M278.2 272.1h0M267.1 280.2h0M261.6 282.2h0M271.1 281.6h0M299.9 259.6h0M263.7 295.3h0M263.5 222.6h0M253.2 253.5h0M302.7 288.8h0M282.0 240.6h0M248.6 285.8h0M262.3 272.9h0M252.8 291.2h0M252.8 276.1h0M284.2 261.0h0M297.9 269.0h0M265.1 292.1h0M265.4 263.0h0M277.0 295.6h0M266.2 274.2h0M270.9 273.7h0M265.1 267.8h0M273.5 273.5h0M282.4 281.6h0M298.0 276.7h0M259.4 267.0h0M267.0 280.2h0M263.4 284.9h0M266.1 241.2h0M274.7 279.2h0M281.8 263.8h0M296.0 288.5h0M267.8 290.3h0M271.6 259.5h0M272.4 279.9h0M268.6 304.1h0M264.5 251.0h0M269.8 266.9h0M289.1 273.2h0M279.3 277.0h0M259.2 309.2h0M258.0 258.5h0M280.4 241.7h0M277.3 266.8h0M264.7 286.1h0M282.8 276.4h0M287.4 270.3h0M283.3 261.5h0M277.3 276.4h0M274.0 292.6h0M285.3 278.2h0M288.2 251.4h0M272.0 259.5h0M298.0 282.9h0M267.2 275.6h0M286.5 277.2h0M300.0 280.1h0M291.0 278.2h0M268.0 254.8h0M259.5 273.1h0M265.5 282.4h0M278.2 272.1h0M287.3 276.3h0M264.2 276.1h0M273.2 273.5h0M273.8 256.7h0M267.3 275.6h0M290.9 248.9h0M283.2 261.5h0M277.6 252.2h0M296.2 270.5h0M289.6 288.3h0M302.3 281.6h0M265.3 282.4h0M290.1 274.5h0M261.6 293.4h0M287.7 270.3h0M258.0 271.1h0M277.0 305.3h0M260.5 274.9h0M274.2 271.1h0M305.7 271.5h0M276.9 276.4h0M259.1 303.2h0M267.0 275.6h0M260.4 269.1h0M259.2 230.9h0M267.8 277.0h0M265.5 272.7h0M274.7 286.3h0M257.0 268.9h0M267.1 298.5h0M267.0 230.0h0M291.3 260.6h0M271.2 297.5h0M270.3 264.3h0M270.4 276.5h0M283.3 279.7h0M297.2 283.6h0M274.5 286.3h0M275.9 297.9h0M280.3 278.6h0M262.4 283.6h0M280.9 276.6h0M269.7 271.1h0M265.4 267.8h0M276.6 282.0h0M288.9 259.7h0M283.2 274.5h0M297.2 278.5h0M267.9 294.7h0M290.2 283.1h0M294.8 281.9h0M287.6 265.9h0M271.0 265.8h0M271.2 261.8h0M276.1 274.4h0M277.4 295.6h0M271.2 285.6h0M251.6 289.6h0M283.8 265.1h0M284.0 283.6h0M244.9 240.9h0M270.3 276.5h0M286.0 267.1h0M268.2 277.0h0M276.6 246.0h0M267.3 248.2h0M278.4 272.1h0M269.4 266.9h0M275.8 297.9h0M257.2 295.1h0M278.3 278.2h0M294.2 277.5h0M284.6 269.4h0M299.2 271.6h0M258.4 271.1h0M281.6 274.7h0M269.8 271.1h0M256.8 275.4h0M264.4 291.2h0M290.6 271.7h0M269.6 292.0h0M279.9 286.5h0M286.3 261.0h0M288.6 281.0h0M266.1 297.8h0M256.8 255.8h0M284.4 259.5h0M284.5 271.9h0M273.3 266.2h0M280.0 277.8h0M259.4 249.0h0M287.6 268.1h0M282.8 281.6h0M252.9 276.1h0M263.6 264.1h0M271.9 271.1h0M261.6 248.7h0M270.5 264.3h0M283.1 261.5h0M289.2 271.1h0M268.6 273.9h0M295.7 270.0h0M263.6 264.1h0M246.5 274.2h0M281.9 280.9h0M280.6 273.0h0M285.5 247.1h0M272.8 261.0h0M275.3 252.8h0M277.9 267.9h0M270.2 276.5h0M274.8 258.2h0M264.5 256.0h0M283.1 274.5h0M279.5 285.8h0M278.2 290.5h0M257.1 209.9h0M248.6 232.7h0M281.9 270.2h0M259.3 285.1h0M264.5 291.2h0M251.5 273.7h0M301.6 255.4h0M267.1 298.5h0M271.1 297.5h0M255.5 280.2h0M277.0 254.0h0M271.4 285.6h0M269.8 275.3h0M258.1 271.1h0M260.5 280.7h0M280.3 275.8h0M279.9 269.1h0M262.5 272.9h0M289.0 254.3h0M270.4 272.4h0M261.6 276.6h0M275.7 247.6h0M272.4 279.9h0M273.1 266.2h0M274.8 296.8h0M259.3 297.2h0M280.7 275.8h0M276.3 278.7h0M282.9 284.9h0M290.8 285.6h0M268.1 268.1h0M261.5 259.9h0M282.3 286.3h0M303.9 286.7h0M290.9 287.6h0M269.5 258.5h0M262.3 262.1h0M265.3 282.4h0M278.2 262.9h0M274.7 275.7h0M280.0 272.0h0M268.2 241.5h0M273.3 306.6h0M278.5 259.8h0M264.4 235.9h0M322.0 259.2h0M307.4 247.1h0M326.1 254.3h0M310.9 258.5h0M305.7 254.1h0M322.7 231.8h0M323.0 249.8h0M317.2 239.3h0M295.1 253.6h0M319.8 247.4h0M322.2 243.3h0M304.9 255.0h0M330.6 236.5h0M289.8 230.5h0M328.2 253.3h0M313.9 249.9h0M316.2 243.5h0M289.8 229.7h0M314.6 251.0h0M293.7 242.4h0M310.1 253.4h0M312.3 235.3h0M298.7 245.2h0M300.5 260.7h0M319.0 258.3h0M300.8 243.9h0M308.8 253.3h0M316.4 248.7h0M305.3 258.9h0M290.2 265.0h0M297.5 233.4h0M294.7 260.7h0M323.4 277.7h0M305.8 255.9h0M326.0 242.6h0M326.7 246.0h0M331.6 254.3h0M312.8 229.1h0M286.5 237.8h0M316.9 249.5h0M300.5 224.1h0M304.5 248.4h0M329.1 258.0h0M313.1 241.0h0M320.4 252.9h0M304.5 238.0h0M309.4 247.0h0M309.2 254.8h0M317.2 243.6h0M315.2 264.4h0M305.3 247.1h0M319.2 245.6h0M300.5 240.4h0M302.6 252.4h0M320.6 246.6h0M304.9 253.1h0M304.4 252.0h0M295.2 245.1h0M294.7 246.8h0M284.0 246.0h0M318.6 244.8h0M326.7 263.1h0M285.2 218.4h0M331.8 230.8h0M300.2 243.1h0M312.3 249.7h0M299.4 242.3h0M311.4 249.8h0M301.2 252.8h0M311.0 249.3h0M327.8 243.3h0M285.0 226.5h0M304.4 238.0h0M297.1 238.1h0M309.7 238.9h0M318.1 253.1h0M300.1 252.4h0M318.3 240.3h0M307.7 237.2h0M290.5 236.9h0M323.6 237.0h0M314.9 248.5h0M299.3 243.8h0M316.4 243.9h0M315.9 248.4h0M327.4 243.0h0M307.3 245.4h0M300.3 246.0h0M298.3 222.4h0M295.1 245.1h0M302.6 295.3h0M312.5 300.0h0M317.6 293.6h0M321.7 274.6h0M314.8 298.4h0M316.9 273.4h0M297.8 290.5h0M331.8 288.6h0M294.3 264.1h0M291.9 287.0h0M308.0 279.0h0M290.8 257.8h0M317.8 279.6h0M290.3 253.0h0M300.9 273.9h0M289.4 269.7h0M304.6 277.9h0M297.4 284.0h0M277.3 282.8h0M294.8 272.8h0M326.8 272.5h0M279.3 285.8h0M304.8 292.4h0M298.2 276.7h0M318.1 283.8h0M307.4 304.7h0M308.4 282.3h0M299.0 271.1h0M314.7 287.4h0M303.4 281.7h0M346.8 280.0h0M321.5 285.1h0M293.4 303.1h0M304.0 272.7h0M332.4 265.4h0M304.8 277.0h0M312.0 278.0h0M322.3 261.1h0M301.7 259.4h0M310.0 280.8h0M303.9 307.5h0M327.5 277.5h0M313.1 264.2h0M329.9 277.8h0M338.9 283.0h0M301.8 294.4h0M326.2 264.5h0M301.6 285.0h0M321.9 293.5h0M315.3 262.2h0M322.5 295.5h0M313.5 301.7h0M302.9 260.2h0M307.2 270.0h0M290.3 295.2h0M314.7 268.2h0M303.8 279.9h0M307.1 290.0h0M312.9 290.4h0M346.9 275.7h0M298.9 315.3h0M307.6 286.6h0M297.5 264.8h0M303.8 295.1h0M311.5 289.8h0M306.0 281.9h0M318.2 266.3h0M315.1 292.8h0M276.0 304.6h0M295.8 282.8h0M321.0 278.1h0M306.5 274.5h0M315.3 264.2h0M328.2 286.2h0M306.1 274.9h0M296.9 289.2h0M316.9 282.1h0M300.8 272.9h0M305.5 279.2h0M299.8 276.8h0M313.3 266.6h0M311.4 258.3h0M297.2 275.8h0M293.7 283.6h0M309.8 288.9h0M338.0 266.1h0M299.8 276.4h0M314.8 288.9h0M303.6 283.3h0M321.1 273.8h0M306.8 259.9h0M297.1 259.4h0M323.8 266.3h0M270.5 256.1h0M294.4 291.9h0M319.0 270.1h0M287.7 272.5h0M291.9 269.8h0M279.8 277.8h0M286.9 280.8h0M296.0 264.0h0M313.7 281.4h0M312.4 270.8h0M304.2 293.1h0M316.4 277.2h0M304.9 286.3h0M313.2 265.7h0M325.7 254.1h0M316.1 262.6h0M305.8 299.3h0M313.5 277.6h0M281.8 293.9h0M306.3 269.5h0M297.1 251.5h0M301.6 275.6h0M307.6 277.6h0M298.8 284.0h0M302.1 259.2h0M311.7 308.1h0M303.8 281.1h0M292.6 295.3h0M327.8 281.9h0M309.0 281.0h0M295.1 285.7h0M308.8 295.0h0M308.3 297.8h0M314.4 291.0h0M307.0 299.0h0M319.4 304.1h0M290.9 295.5h0M310.6 278.9h0M295.1 268.8h0M316.7 270.8h0M300.0 287.2h0M309.2 286.0h0M322.6 250.1h0M298.7 275.0h0M302.5 268.9h0M328.2 272.5h0M299.6 269.1h0M327.9 298.8h0M336.6 271.7h0M323.4 275.0h0M304.0 271.5h0M279.0 288.1h0M310.7 296.0h0M296.4 290.5h0M313.9 297.6h0M331.0 301.7h0M304.3 292.9h0M307.6 252.5h0M299.2 273.0h0M292.7 267.3h0M314.4 283.8h0M317.4 293.5h0M307.4 296.9h0M321.8 306.6h0M300.0 292.6h0M316.0 278.7h0M314.8 292.5h0M309.8 266.3h0M329.2 292.2h0M287.4 310.1h0M308.5 302.3h0M326.7 302.3h0M295.2 267.1h0M321.7 307.3h0M277.2 286.0h0M306.8 272.2h0M313.0 272.3h0M301.6 260.8h0M311.3 282.9h0M314.3 285.8h0M326.6 265.9h0M313.0 273.2h0M290.9 265.8h0M317.0 269.5h0M302.4 288.5h0M326.2 307.1h0M326.0 277.1h0M293.6 271.1h0M312.8 276.5h0M313.9 279.5h0M314.5 275.9h0M327.7 275.2h0M311.2 275.5h0M298.6 287.0h0M302.0 274.6h0M312.4 279.0h0M320.7 282.3h0M293.9 280.5h0M309.5 287.5h0M305.0 273.5h0M316.0 262.5h0M301.2 262.9h0M313.9 288.2h0M312.5 285.7h0M301.0 281.6h0M312.8 287.9h0M312.6 281.1h0M309.5 284.4h0M296.7 263.0h0M330.5 265.8h0M309.8 304.0h0M303.5 270.6h0M323.1 299.2h0M303.2 272.8h0M309.4 288.5h0M316.4 266.8h0M312.5 279.7h0M301.8 306.5h0M336.1 303.0h0M294.4 286.3h0M307.1 263.7h0M305.1 273.8h0M319.8 281.9h0M302.3 279.0h0M308.0 264.2h0M323.5 282.8h0M340.0 300.1h0M298.0 258.3h0M303.1 284.3h0M326.0 272.0h0M292.3 276.1h0M328.1 269.7h0M333.0 257.0h0M299.0 288.5h0M275.2 293.9h0M282.3 294.4h0M303.9 283.9h0M297.7 278.2h0M292.1 291.2h0M319.9 276.0h0M299.4 285.1h0M295.7 268.3h0M318.2 284.0h0M301.6 294.4h0M290.2 284.6h0M314.4 278.7h0M305.6 273.4h0M305.7 287.7h0M301.5 270.2h0M323.5 281.2h0M340.1 288.8h0M302.6 300.5h0M311.3 305.0h0M327.0 280.9h0M311.0 292.5h0M299.1 271.1h0M282.6 268.4h0M302.6 266.7h0M310.9 263.0h0M315.3 302.2h0M312.2 277.6h0M284.7 316.4h0M294.3 312.5h0M288.5 282.5h0M319.3 288.9h0M286.7 273.4h0M296.1 270.5h0M325.2 290.9h0M314.5 272.2h0M299.3 273.0h0M314.1 283.8h0M297.7 296.4h0M305.0 279.1h0M305.5 300.3h0M294.5 257.2h0M275.7 271.1h0M314.4 279.1h0M306.2 282.2h0M308.6 288.4h0M318.4 283.4h0M268.7 295.5h0M317.8 278.5h0M276.6 282.0h0M288.1 310.4h0M308.0 278.2h0M288.8 283.1h0M313.9 288.2h0M308.5 273.9h0M308.7 275.3h0M302.0 306.6h0M318.5 276.3h0M310.3 266.1h0M326.3 256.1h0M337.8 276.0h0M317.2 256.9h0M286.5 288.8h0M305.6 280.4h0M308.2 273.9h0M321.5 296.5h0M307.9 287.7h0M309.5 268.0h0M309.5 306.1h0M312.2 279.4h0M299.8 286.5h0M301.2 302.1h0M316.5 293.5h0M294.5 278.0h0M294.8 285.3h0M282.5 276.4h0M303.7 282.7h0M302.3 274.1h0M300.8 279.4h0M312.4 263.1h0M324.1 263.1h0M290.2 286.7h0M328.7 274.5h0M308.6 296.9h0M302.6 280.7h0M296.0 293.5h0M301.4 268.4h0M308.2 272.9h0M318.9 286.9h0M291.2 290.0h0M309.8 266.7h0M286.9 248.2h0M319.4 304.2h0M300.7 290.6h0M331.8 262.9h0M285.9 269.5h0M311.8 270.8h0M315.6 252.1h0M305.0 279.1h0M311.0 277.3h0M312.0 253.4h0M291.6 267.9h0M312.0 279.4h0M298.2 263.5h0M307.8 290.9h0M303.6 266.0h0M307.2 260.8h0M305.8 292.3h0M303.6 293.4h0M293.7 281.8h0M305.3 254.8h0M287.6 268.1h0M311.0 280.5h0M321.6 304.6h0M312.1 259.9h0M306.2 313.2h0M314.7 254.5h0M299.3 292.0h0M305.1 280.6h0M302.3 291.2h0M296.3 284.0h0M323.9 296.8h0M311.8 279.6h0M323.8 267.4h0M292.7 274.8h0M305.5 286.9h0M296.8 276.4h0M324.9 291.8h0M305.7 252.9h0M304.1 280.9h0M313.3 281.2h0M299.5 296.7h0M305.7 250.7h0M293.4 262.1h0M294.1 268.1h0M291.7 304.1h0M293.2 281.4h0M314.2 289.9h0M298.1 262.9h0M299.3 248.1h0M316.6 295.1h0M293.0 251.5h0M321.3 283.8h0M305.8 258.7h0M310.5 279.2h0M320.4 251.2h0M299.8 276.8h0M310.3 298.5h0M273.9 274.7h0M277.4 308.5h0M326.8 285.0h0M289.3 277.3h0M317.7 299.9h0M315.6 250.9h0M332.0 278.7h0M295.4 314.6h0M317.3 243.6h0M309.9 287.1h0M312.4 275.7h0M315.2 287.8h0M296.6 295.6h0M304.0 258.3h0M304.1 276.0h0M320.3 297.6h0M316.6 269.0h0M311.1 288.7h0M311.8 291.2h0M309.4 292.8h0M304.6 278.8h0M302.0 265.8h0M301.5 291.4h0M274.1 242.4h0M305.0 258.6h0M320.4 306.8h0M433.2 287.3h0M424.5 298.3h0M434.3 278.4h0M435.0 279.0h0M427.9 295.6h0M410.9 298.9h0M476.0 281.9h0M469.5 298.0h0M450.1 319.4h0M452.3 283.4h0M406.9 271.0h0M468.2 255.6h0M452.3 288.3h0M466.9 319.8h0M463.6 293.7h0M447.3 278.0h0M452.8 307.4h0M468.0 287.8h0M459.2 260.8h0M462.6 305.7h0M411.8 287.7h0M429.8 282.3h0M414.8 306.1h0M434.4 299.5h0M437.9 311.6h0M460.0 295.7h0M418.8 275.3h0M431.5 300.8h0M448.4 267.2h0M466.8 293.8h0M446.7 305.9h0M450.0 312.4h0M456.7 246.0h0M460.7 314.8h0M405.2 297.6h0M469.0 286.3h0M440.0 276.3h0M456.0 305.6h0M476.3 308.3h0M462.7 306.7h0M438.5 284.9h0M408.1 313.7h0M409.7 284.0h0M449.2 300.6h0M455.5 284.9h0M424.0 291.8h0M422.2 280.3h0M467.3 294.8h0M424.3 293.7h0M451.2 276.7h0M442.1 292.5h0M407.9 270.6h0M449.0 298.4h0M428.2 266.9h0M462.7 314.9h0M415.2 312.4h0M453.8 312.8h0M404.7 269.2h0M451.4 305.5h0M455.0 302.2h0M440.6 314.0h0M423.1 300.4h0M441.8 295.5h0M428.9 278.6h0M439.5 298.4h0M465.7 319.8h0M459.3 278.2h0M436.5 311.0h0M427.5 303.8h0M409.9 288.8h0M463.0 277.9h0M436.8 277.3h0M405.8 303.2h0M451.1 276.3h0M434.0 299.0h0M373.6 232.7h0M352.2 202.0h0M338.1 223.0h0M316.0 215.3h0M325.8 215.2h0M363.2 217.2h0M355.7 222.8h0M338.0 225.6h0M385.5 234.3h0M361.7 233.7h0M385.5 199.5h0M374.5 200.8h0M372.7 204.3h0M364.9 194.3h0M389.7 215.9h0M359.3 202.0h0M347.3 207.5h0M341.0 196.7h0M360.3 216.2h0M307.9 237.8h0M350.8 232.4h0M357.9 214.6h0M356.3 220.0h0M373.4 236.5h0M368.0 216.6h0M356.6 223.5h0M356.8 208.1h0M363.0 201.3h0" stroke="#111" stroke-width="1.7" stroke-linecap="round" fill="none"/>
<circle cx="264.3" cy="246.0" r="1.55" fill="#4a4f9c" stroke="#272a66" stroke-width="0.45"/>
<circle cx="273.7" cy="263.9" r="1.55" fill="#4a4f9c" stroke="#272a66" stroke-width="0.45"/>
<circle cx="290.5" cy="289.2" r="1.55" fill="#4a4f9c" stroke="#272a66" stroke-width="0.45"/>
<circle cx="295.4" cy="306.1" r="1.55" fill="#4a4f9c" stroke="#272a66" stroke-width="0.45"/>
<circle cx="268.0" cy="290.3" r="1.55" fill="#4a4f9c" stroke="#272a66" stroke-width="0.45"/>
<circle cx="314.1" cy="315.3" r="1.55" fill="#4a4f9c" stroke="#272a66" stroke-width="0.45"/>
<circle cx="283.1" cy="290.1" r="1.55" fill="#4a4f9c" stroke="#272a66" stroke-width="0.45"/>
<circle cx="279.0" cy="321.3" r="1.55" fill="#4a4f9c" stroke="#272a66" stroke-width="0.45"/>
<circle cx="288.2" cy="314.8" r="1.55" fill="#4a4f9c" stroke="#272a66" stroke-width="0.45"/>
<circle cx="307.3" cy="285.0" r="1.55" fill="#4a4f9c" stroke="#272a66" stroke-width="0.45"/>
<circle cx="310.3" cy="294.2" r="1.55" fill="#4a4f9c" stroke="#272a66" stroke-width="0.45"/>
<circle cx="254.6" cy="292.6" r="1.55" fill="#4a4f9c" stroke="#272a66" stroke-width="0.45"/>
<circle cx="294.6" cy="305.9" r="1.55" fill="#4a4f9c" stroke="#272a66" stroke-width="0.45"/>
<circle cx="299.5" cy="311.2" r="1.55" fill="#4a4f9c" stroke="#272a66" stroke-width="0.45"/>
<circle cx="276.6" cy="291.8" r="1.55" fill="#4a4f9c" stroke="#272a66" stroke-width="0.45"/>
<circle cx="271.8" cy="294.3" r="1.55" fill="#4a4f9c" stroke="#272a66" stroke-width="0.45"/>
<circle cx="271.8" cy="278.8" r="1.55" fill="#4a4f9c" stroke="#272a66" stroke-width="0.45"/>
<circle cx="259.4" cy="321.3" r="1.55" fill="#4a4f9c" stroke="#272a66" stroke-width="0.45"/>
<circle cx="329.6" cy="276.7" r="1.55" fill="#4a4f9c" stroke="#272a66" stroke-width="0.45"/>
<circle cx="268.2" cy="272.5" r="1.55" fill="#4a4f9c" stroke="#272a66" stroke-width="0.45"/>
<circle cx="298.2" cy="305.9" r="1.55" fill="#4a4f9c" stroke="#272a66" stroke-width="0.45"/>
<circle cx="277.7" cy="296.2" r="1.55" fill="#4a4f9c" stroke="#272a66" stroke-width="0.45"/>
<circle cx="268.9" cy="291.2" r="1.55" fill="#4a4f9c" stroke="#272a66" stroke-width="0.45"/>
<circle cx="301.7" cy="298.4" r="1.55" fill="#4a4f9c" stroke="#272a66" stroke-width="0.45"/>
<circle cx="291.7" cy="306.0" r="1.55" fill="#4a4f9c" stroke="#272a66" stroke-width="0.45"/>
<circle cx="298.1" cy="321.3" r="1.55" fill="#4a4f9c" stroke="#272a66" stroke-width="0.45"/>
<circle cx="273.0" cy="310.3" r="1.55" fill="#4a4f9c" stroke="#272a66" stroke-width="0.45"/>
<circle cx="289.9" cy="307.0" r="1.55" fill="#4a4f9c" stroke="#272a66" stroke-width="0.45"/>
<circle cx="277.8" cy="286.8" r="1.55" fill="#4a4f9c" stroke="#272a66" stroke-width="0.45"/>
<circle cx="296.6" cy="289.2" r="1.55" fill="#4a4f9c" stroke="#272a66" stroke-width="0.45"/>
<circle cx="268.9" cy="278.2" r="1.55" fill="#4a4f9c" stroke="#272a66" stroke-width="0.45"/>
<circle cx="307.7" cy="292.2" r="1.55" fill="#4a4f9c" stroke="#272a66" stroke-width="0.45"/>
<circle cx="248.4" cy="312.4" r="1.55" fill="#4a4f9c" stroke="#272a66" stroke-width="0.45"/>
<circle cx="258.3" cy="321.3" r="1.55" fill="#4a4f9c" stroke="#272a66" stroke-width="0.45"/>
<circle cx="296.4" cy="308.2" r="1.55" fill="#4a4f9c" stroke="#272a66" stroke-width="0.45"/>
<circle cx="262.5" cy="315.9" r="1.55" fill="#4a4f9c" stroke="#272a66" stroke-width="0.45"/>
<circle cx="278.0" cy="311.9" r="1.55" fill="#4a4f9c" stroke="#272a66" stroke-width="0.45"/>
<circle cx="273.0" cy="291.9" r="1.55" fill="#4a4f9c" stroke="#272a66" stroke-width="0.45"/>
<circle cx="264.4" cy="296.2" r="1.55" fill="#4a4f9c" stroke="#272a66" stroke-width="0.45"/>
<circle cx="259.5" cy="267.0" r="1.55" fill="#4a4f9c" stroke="#272a66" stroke-width="0.45"/>
<circle cx="305.1" cy="290.4" r="1.55" fill="#4a4f9c" stroke="#272a66" stroke-width="0.45"/>
<circle cx="311.1" cy="304.9" r="1.55" fill="#4a4f9c" stroke="#272a66" stroke-width="0.45"/>
<circle cx="267.3" cy="289.3" r="1.55" fill="#4a4f9c" stroke="#272a66" stroke-width="0.45"/>
<circle cx="260.3" cy="298.1" r="1.55" fill="#4a4f9c" stroke="#272a66" stroke-width="0.45"/>
<circle cx="307.6" cy="321.3" r="1.55" fill="#4a4f9c" stroke="#272a66" stroke-width="0.45"/>
<circle cx="290.5" cy="277.1" r="1.55" fill="#4a4f9c" stroke="#272a66" stroke-width="0.45"/>
<circle cx="295.5" cy="292.8" r="1.55" fill="#4a4f9c" stroke="#272a66" stroke-width="0.45"/>
<circle cx="294.2" cy="307.3" r="1.55" fill="#4a4f9c" stroke="#272a66" stroke-width="0.45"/>
<circle cx="272.2" cy="302.0" r="1.55" fill="#4a4f9c" stroke="#272a66" stroke-width="0.45"/>
<circle cx="285.2" cy="318.9" r="1.55" fill="#4a4f9c" stroke="#272a66" stroke-width="0.45"/>
<circle cx="274.7" cy="279.2" r="1.55" fill="#4a4f9c" stroke="#272a66" stroke-width="0.45"/>
<circle cx="251.5" cy="305.4" r="1.55" fill="#4a4f9c" stroke="#272a66" stroke-width="0.45"/>
<circle cx="261.4" cy="237.6" r="1.55" fill="#4a4f9c" stroke="#272a66" stroke-width="0.45"/>
<circle cx="259.1" cy="273.1" r="1.55" fill="#4a4f9c" stroke="#272a66" stroke-width="0.45"/>
<circle cx="308.4" cy="303.1" r="1.55" fill="#4a4f9c" stroke="#272a66" stroke-width="0.45"/>
<circle cx="263.3" cy="284.9" r="1.55" fill="#4a4f9c" stroke="#272a66" stroke-width="0.45"/>
<circle cx="262.3" cy="262.1" r="1.55" fill="#4a4f9c" stroke="#272a66" stroke-width="0.45"/>
<circle cx="302.5" cy="310.7" r="1.55" fill="#4a4f9c" stroke="#272a66" stroke-width="0.45"/>
<circle cx="276.8" cy="304.9" r="1.55" fill="#4a4f9c" stroke="#272a66" stroke-width="0.45"/>
<circle cx="280.7" cy="278.6" r="1.55" fill="#4a4f9c" stroke="#272a66" stroke-width="0.45"/>
<circle cx="299.0" cy="318.3" r="1.55" fill="#4a4f9c" stroke="#272a66" stroke-width="0.45"/>
<circle cx="288.6" cy="284.7" r="1.55" fill="#4a4f9c" stroke="#272a66" stroke-width="0.45"/>
<circle cx="293.5" cy="299.5" r="1.55" fill="#4a4f9c" stroke="#272a66" stroke-width="0.45"/>
<circle cx="278.7" cy="321.3" r="1.55" fill="#4a4f9c" stroke="#272a66" stroke-width="0.45"/>
<circle cx="316.0" cy="281.2" r="1.55" fill="#4a4f9c" stroke="#272a66" stroke-width="0.45"/>
<circle cx="264.4" cy="301.2" r="1.55" fill="#4a4f9c" stroke="#272a66" stroke-width="0.45"/>
<circle cx="286.7" cy="319.0" r="1.55" fill="#4a4f9c" stroke="#272a66" stroke-width="0.45"/>
<circle cx="286.6" cy="309.7" r="1.55" fill="#4a4f9c" stroke="#272a66" stroke-width="0.45"/>
<circle cx="273.5" cy="284.5" r="1.55" fill="#4a4f9c" stroke="#272a66" stroke-width="0.45"/>
<circle cx="281.8" cy="299.8" r="1.55" fill="#4a4f9c" stroke="#272a66" stroke-width="0.45"/>
<circle cx="320.4" cy="293.3" r="1.55" fill="#4a4f9c" stroke="#272a66" stroke-width="0.45"/>
<circle cx="271.4" cy="317.3" r="1.55" fill="#4a4f9c" stroke="#272a66" stroke-width="0.45"/>
<circle cx="291.6" cy="307.8" r="1.55" fill="#4a4f9c" stroke="#272a66" stroke-width="0.45"/>
<circle cx="295.4" cy="289.1" r="1.55" fill="#4a4f9c" stroke="#272a66" stroke-width="0.45"/>
<circle cx="287.4" cy="301.1" r="1.55" fill="#4a4f9c" stroke="#272a66" stroke-width="0.45"/>
<circle cx="267.4" cy="261.9" r="1.55" fill="#4a4f9c" stroke="#272a66" stroke-width="0.45"/>
<circle cx="247.0" cy="321.3" r="1.55" fill="#4a4f9c" stroke="#272a66" stroke-width="0.45"/>
<circle cx="334.4" cy="312.9" r="1.55" fill="#4a4f9c" stroke="#272a66" stroke-width="0.45"/>
<circle cx="291.7" cy="278.8" r="1.55" fill="#4a4f9c" stroke="#272a66" stroke-width="0.45"/>
<circle cx="267.4" cy="303.0" r="1.55" fill="#4a4f9c" stroke="#272a66" stroke-width="0.45"/>
<circle cx="271.1" cy="301.5" r="1.55" fill="#4a4f9c" stroke="#272a66" stroke-width="0.45"/>
<circle cx="282.1" cy="267.5" r="1.55" fill="#4a4f9c" stroke="#272a66" stroke-width="0.45"/>
<circle cx="293.2" cy="299.5" r="1.55" fill="#4a4f9c" stroke="#272a66" stroke-width="0.45"/>
<circle cx="294.9" cy="273.4" r="1.55" fill="#4a4f9c" stroke="#272a66" stroke-width="0.45"/>
<circle cx="261.6" cy="254.3" r="1.55" fill="#4a4f9c" stroke="#272a66" stroke-width="0.45"/>
<circle cx="329.6" cy="288.6" r="1.55" fill="#4a4f9c" stroke="#272a66" stroke-width="0.45"/>
<circle cx="265.3" cy="297.0" r="1.55" fill="#4a4f9c" stroke="#272a66" stroke-width="0.45"/>
<circle cx="258.0" cy="283.6" r="1.55" fill="#4a4f9c" stroke="#272a66" stroke-width="0.45"/>
<circle cx="284.8" cy="270.3" r="1.55" fill="#4a4f9c" stroke="#272a66" stroke-width="0.45"/>
<circle cx="274.5" cy="272.2" r="1.55" fill="#4a4f9c" stroke="#272a66" stroke-width="0.45"/>
<circle cx="316.6" cy="293.8" r="1.55" fill="#4a4f9c" stroke="#272a66" stroke-width="0.45"/>
<circle cx="329.8" cy="301.3" r="1.55" fill="#4a4f9c" stroke="#272a66" stroke-width="0.45"/>
<circle cx="314.3" cy="296.9" r="1.55" fill="#4a4f9c" stroke="#272a66" stroke-width="0.45"/>
<circle cx="349.4" cy="306.7" r="1.55" fill="#4a4f9c" stroke="#272a66" stroke-width="0.45"/>
<circle cx="337.4" cy="319.8" r="1.55" fill="#4a4f9c" stroke="#272a66" stroke-width="0.45"/>
<circle cx="343.1" cy="314.1" r="1.55" fill="#4a4f9c" stroke="#272a66" stroke-width="0.45"/>
<circle cx="332.0" cy="312.0" r="1.55" fill="#4a4f9c" stroke="#272a66" stroke-width="0.45"/>
<circle cx="319.1" cy="297.9" r="1.55" fill="#4a4f9c" stroke="#272a66" stroke-width="0.45"/>
<circle cx="316.9" cy="299.2" r="1.55" fill="#4a4f9c" stroke="#272a66" stroke-width="0.45"/>
<circle cx="338.6" cy="314.7" r="1.55" fill="#4a4f9c" stroke="#272a66" stroke-width="0.45"/>
<circle cx="330.9" cy="296.7" r="1.55" fill="#4a4f9c" stroke="#272a66" stroke-width="0.45"/>
<circle cx="334.3" cy="305.5" r="1.55" fill="#4a4f9c" stroke="#272a66" stroke-width="0.45"/>
<circle cx="338.5" cy="314.0" r="1.55" fill="#4a4f9c" stroke="#272a66" stroke-width="0.45"/>
<circle cx="318.1" cy="287.0" r="1.55" fill="#4a4f9c" stroke="#272a66" stroke-width="0.45"/>
<circle cx="327.2" cy="310.5" r="1.55" fill="#4a4f9c" stroke="#272a66" stroke-width="0.45"/>
<circle cx="341.0" cy="293.4" r="1.55" fill="#4a4f9c" stroke="#272a66" stroke-width="0.45"/>
<circle cx="323.3" cy="313.2" r="1.55" fill="#4a4f9c" stroke="#272a66" stroke-width="0.45"/>
<circle cx="341.6" cy="318.0" r="1.55" fill="#4a4f9c" stroke="#272a66" stroke-width="0.45"/>
<circle cx="334.1" cy="308.0" r="1.55" fill="#4a4f9c" stroke="#272a66" stroke-width="0.45"/>
<circle cx="342.5" cy="302.7" r="1.55" fill="#4a4f9c" stroke="#272a66" stroke-width="0.45"/>
<circle cx="305.6" cy="276.9" r="1.55" fill="#52bcd6" stroke="#237d92" stroke-width="0.45"/>
<circle cx="304.5" cy="253.9" r="1.55" fill="#52bcd6" stroke="#237d92" stroke-width="0.45"/>
<circle cx="297.6" cy="279.8" r="1.55" fill="#52bcd6" stroke="#237d92" stroke-width="0.45"/>
<circle cx="316.5" cy="226.9" r="1.55" fill="#52bcd6" stroke="#237d92" stroke-width="0.45"/>
<circle cx="303.5" cy="273.6" r="1.55" fill="#52bcd6" stroke="#237d92" stroke-width="0.45"/>
<circle cx="305.9" cy="226.7" r="1.55" fill="#52bcd6" stroke="#237d92" stroke-width="0.45"/>
<circle cx="300.7" cy="280.8" r="1.55" fill="#52bcd6" stroke="#237d92" stroke-width="0.45"/>
<circle cx="308.5" cy="245.4" r="1.55" fill="#52bcd6" stroke="#237d92" stroke-width="0.45"/>
<circle cx="308.9" cy="258.5" r="1.55" fill="#52bcd6" stroke="#237d92" stroke-width="0.45"/>
<circle cx="294.0" cy="263.5" r="1.55" fill="#52bcd6" stroke="#237d92" stroke-width="0.45"/>
<circle cx="311.1" cy="266.6" r="1.55" fill="#52bcd6" stroke="#237d92" stroke-width="0.45"/>
<circle cx="307.2" cy="268.8" r="1.55" fill="#52bcd6" stroke="#237d92" stroke-width="0.45"/>
<circle cx="305.8" cy="257.5" r="1.55" fill="#52bcd6" stroke="#237d92" stroke-width="0.45"/>
<circle cx="314.4" cy="265.6" r="1.55" fill="#52bcd6" stroke="#237d92" stroke-width="0.45"/>
<circle cx="289.0" cy="244.9" r="1.55" fill="#52bcd6" stroke="#237d92" stroke-width="0.45"/>
<circle cx="326.2" cy="256.6" r="1.55" fill="#52bcd6" stroke="#237d92" stroke-width="0.45"/>
<circle cx="293.3" cy="275.9" r="1.55" fill="#52bcd6" stroke="#237d92" stroke-width="0.45"/>
<circle cx="299.6" cy="303.9" r="1.55" fill="#52bcd6" stroke="#237d92" stroke-width="0.45"/>
<circle cx="308.9" cy="255.4" r="1.55" fill="#52bcd6" stroke="#237d92" stroke-width="0.45"/>
<circle cx="329.4" cy="281.1" r="1.55" fill="#52bcd6" stroke="#237d92" stroke-width="0.45"/>
<circle cx="265.6" cy="243.5" r="1.55" fill="#52bcd6" stroke="#237d92" stroke-width="0.45"/>
<circle cx="300.2" cy="257.9" r="1.55" fill="#52bcd6" stroke="#237d92" stroke-width="0.45"/>
<circle cx="299.0" cy="243.8" r="1.55" fill="#52bcd6" stroke="#237d92" stroke-width="0.45"/>
<circle cx="304.4" cy="244.7" r="1.55" fill="#52bcd6" stroke="#237d92" stroke-width="0.45"/>
<circle cx="282.4" cy="276.4" r="1.55" fill="#52bcd6" stroke="#237d92" stroke-width="0.45"/>
<circle cx="293.6" cy="263.9" r="1.55" fill="#52bcd6" stroke="#237d92" stroke-width="0.45"/>
<circle cx="311.4" cy="263.3" r="1.55" fill="#52bcd6" stroke="#237d92" stroke-width="0.45"/>
<circle cx="289.8" cy="260.2" r="1.55" fill="#52bcd6" stroke="#237d92" stroke-width="0.45"/>
<circle cx="305.7" cy="276.1" r="1.55" fill="#52bcd6" stroke="#237d92" stroke-width="0.45"/>
<circle cx="294.1" cy="261.0" r="1.55" fill="#52bcd6" stroke="#237d92" stroke-width="0.45"/>
<circle cx="292.8" cy="259.9" r="1.55" fill="#52bcd6" stroke="#237d92" stroke-width="0.45"/>
<circle cx="278.4" cy="262.9" r="1.55" fill="#52bcd6" stroke="#237d92" stroke-width="0.45"/>
<circle cx="296.2" cy="263.0" r="1.55" fill="#52bcd6" stroke="#237d92" stroke-width="0.45"/>
<circle cx="302.4" cy="275.0" r="1.55" fill="#52bcd6" stroke="#237d92" stroke-width="0.45"/>
<circle cx="296.3" cy="259.1" r="1.55" fill="#52bcd6" stroke="#237d92" stroke-width="0.45"/>
<circle cx="302.4" cy="242.0" r="1.55" fill="#52bcd6" stroke="#237d92" stroke-width="0.45"/>
<circle cx="289.5" cy="259.4" r="1.55" fill="#52bcd6" stroke="#237d92" stroke-width="0.45"/>
<circle cx="294.6" cy="302.2" r="1.55" fill="#52bcd6" stroke="#237d92" stroke-width="0.45"/>
<circle cx="284.6" cy="266.9" r="1.55" fill="#52bcd6" stroke="#237d92" stroke-width="0.45"/>
<circle cx="304.1" cy="263.7" r="1.55" fill="#52bcd6" stroke="#237d92" stroke-width="0.45"/>
<circle cx="315.2" cy="273.3" r="1.55" fill="#52bcd6" stroke="#237d92" stroke-width="0.45"/>
<circle cx="281.9" cy="277.5" r="1.55" fill="#52bcd6" stroke="#237d92" stroke-width="0.45"/>
<circle cx="317.2" cy="275.2" r="1.55" fill="#52bcd6" stroke="#237d92" stroke-width="0.45"/>
<circle cx="293.6" cy="269.3" r="1.55" fill="#52bcd6" stroke="#237d92" stroke-width="0.45"/>
<circle cx="301.0" cy="278.8" r="1.55" fill="#52bcd6" stroke="#237d92" stroke-width="0.45"/>
<circle cx="274.0" cy="246.0" r="1.55" fill="#52bcd6" stroke="#237d92" stroke-width="0.45"/>
<circle cx="307.9" cy="238.9" r="1.55" fill="#52bcd6" stroke="#237d92" stroke-width="0.45"/>
<circle cx="289.4" cy="269.0" r="1.55" fill="#52bcd6" stroke="#237d92" stroke-width="0.45"/>
<circle cx="303.8" cy="232.1" r="1.55" fill="#52bcd6" stroke="#237d92" stroke-width="0.45"/>
<circle cx="315.0" cy="286.3" r="1.55" fill="#52bcd6" stroke="#237d92" stroke-width="0.45"/>
<circle cx="294.9" cy="250.2" r="1.55" fill="#52bcd6" stroke="#237d92" stroke-width="0.45"/>
<circle cx="301.3" cy="254.8" r="1.55" fill="#52bcd6" stroke="#237d92" stroke-width="0.45"/>
<circle cx="302.9" cy="263.8" r="1.55" fill="#52bcd6" stroke="#237d92" stroke-width="0.45"/>
<circle cx="305.9" cy="243.1" r="1.55" fill="#52bcd6" stroke="#237d92" stroke-width="0.45"/>
<circle cx="311.6" cy="272.3" r="1.55" fill="#52bcd6" stroke="#237d92" stroke-width="0.45"/>
<circle cx="290.1" cy="261.0" r="1.55" fill="#52bcd6" stroke="#237d92" stroke-width="0.45"/>
<circle cx="292.7" cy="284.1" r="1.55" fill="#52bcd6" stroke="#237d92" stroke-width="0.45"/>
<circle cx="299.9" cy="264.4" r="1.55" fill="#52bcd6" stroke="#237d92" stroke-width="0.45"/>
<circle cx="302.7" cy="268.0" r="1.55" fill="#52bcd6" stroke="#237d92" stroke-width="0.45"/>
<circle cx="321.8" cy="288.5" r="1.55" fill="#52bcd6" stroke="#237d92" stroke-width="0.45"/>
<circle cx="295.9" cy="265.6" r="1.55" fill="#52bcd6" stroke="#237d92" stroke-width="0.45"/>
<circle cx="294.8" cy="256.2" r="1.55" fill="#52bcd6" stroke="#237d92" stroke-width="0.45"/>
<circle cx="317.6" cy="272.9" r="1.55" fill="#52bcd6" stroke="#237d92" stroke-width="0.45"/>
<circle cx="300.7" cy="269.7" r="1.55" fill="#52bcd6" stroke="#237d92" stroke-width="0.45"/>
<circle cx="322.8" cy="266.8" r="1.55" fill="#52bcd6" stroke="#237d92" stroke-width="0.45"/>
<circle cx="319.7" cy="272.3" r="1.55" fill="#52bcd6" stroke="#237d92" stroke-width="0.45"/>
<circle cx="302.9" cy="261.5" r="1.55" fill="#52bcd6" stroke="#237d92" stroke-width="0.45"/>
<circle cx="303.8" cy="269.8" r="1.55" fill="#52bcd6" stroke="#237d92" stroke-width="0.45"/>
<circle cx="311.1" cy="268.2" r="1.55" fill="#52bcd6" stroke="#237d92" stroke-width="0.45"/>
<circle cx="301.6" cy="254.0" r="1.55" fill="#52bcd6" stroke="#237d92" stroke-width="0.45"/>
<circle cx="299.1" cy="268.1" r="1.55" fill="#52bcd6" stroke="#237d92" stroke-width="0.45"/>
<circle cx="298.1" cy="261.3" r="1.55" fill="#52bcd6" stroke="#237d92" stroke-width="0.45"/>
<circle cx="277.1" cy="270.0" r="1.55" fill="#52bcd6" stroke="#237d92" stroke-width="0.45"/>
<circle cx="295.5" cy="252.6" r="1.55" fill="#52bcd6" stroke="#237d92" stroke-width="0.45"/>
<circle cx="291.0" cy="250.8" r="1.55" fill="#52bcd6" stroke="#237d92" stroke-width="0.45"/>
<circle cx="317.4" cy="261.8" r="1.55" fill="#52bcd6" stroke="#237d92" stroke-width="0.45"/>
<circle cx="309.5" cy="250.5" r="1.55" fill="#52bcd6" stroke="#237d92" stroke-width="0.45"/>
<circle cx="323.7" cy="258.0" r="1.55" fill="#52bcd6" stroke="#237d92" stroke-width="0.45"/>
<circle cx="294.8" cy="250.3" r="1.55" fill="#52bcd6" stroke="#237d92" stroke-width="0.45"/>
<circle cx="303.6" cy="261.0" r="1.55" fill="#52bcd6" stroke="#237d92" stroke-width="0.45"/>
<circle cx="299.6" cy="254.6" r="1.55" fill="#52bcd6" stroke="#237d92" stroke-width="0.45"/>
<circle cx="308.7" cy="256.4" r="1.55" fill="#52bcd6" stroke="#237d92" stroke-width="0.45"/>
<circle cx="292.0" cy="291.2" r="1.55" fill="#52bcd6" stroke="#237d92" stroke-width="0.45"/>
<circle cx="294.9" cy="289.1" r="1.55" fill="#52bcd6" stroke="#237d92" stroke-width="0.45"/>
<circle cx="295.9" cy="272.2" r="1.55" fill="#52bcd6" stroke="#237d92" stroke-width="0.45"/>
<circle cx="300.1" cy="268.2" r="1.55" fill="#52bcd6" stroke="#237d92" stroke-width="0.45"/>
<circle cx="304.9" cy="255.0" r="1.55" fill="#52bcd6" stroke="#237d92" stroke-width="0.45"/>
<circle cx="292.4" cy="253.5" r="1.55" fill="#52bcd6" stroke="#237d92" stroke-width="0.45"/>
<circle cx="300.7" cy="286.7" r="1.55" fill="#52bcd6" stroke="#237d92" stroke-width="0.45"/>
<circle cx="314.7" cy="265.6" r="1.55" fill="#52bcd6" stroke="#237d92" stroke-width="0.45"/>
<circle cx="288.7" cy="276.1" r="1.55" fill="#52bcd6" stroke="#237d92" stroke-width="0.45"/>
<circle cx="292.0" cy="252.6" r="1.55" fill="#52bcd6" stroke="#237d92" stroke-width="0.45"/>
<circle cx="321.1" cy="295.1" r="1.55" fill="#52bcd6" stroke="#237d92" stroke-width="0.45"/>
<circle cx="306.5" cy="290.5" r="1.55" fill="#52bcd6" stroke="#237d92" stroke-width="0.45"/>
<circle cx="276.9" cy="298.9" r="1.55" fill="#52bcd6" stroke="#237d92" stroke-width="0.45"/>
<circle cx="284.7" cy="276.8" r="1.55" fill="#52bcd6" stroke="#237d92" stroke-width="0.45"/>
<circle cx="317.3" cy="270.6" r="1.55" fill="#52bcd6" stroke="#237d92" stroke-width="0.45"/>
<circle cx="305.5" cy="268.7" r="1.55" fill="#52bcd6" stroke="#237d92" stroke-width="0.45"/>
<circle cx="292.4" cy="278.0" r="1.55" fill="#52bcd6" stroke="#237d92" stroke-width="0.45"/>
<circle cx="282.4" cy="260.5" r="1.55" fill="#52bcd6" stroke="#237d92" stroke-width="0.45"/>
<circle cx="308.0" cy="220.8" r="1.55" fill="#52bcd6" stroke="#237d92" stroke-width="0.45"/>
<circle cx="305.0" cy="245.3" r="1.55" fill="#52bcd6" stroke="#237d92" stroke-width="0.45"/>
<circle cx="280.1" cy="257.5" r="1.55" fill="#52bcd6" stroke="#237d92" stroke-width="0.45"/>
<circle cx="299.4" cy="274.5" r="1.55" fill="#52bcd6" stroke="#237d92" stroke-width="0.45"/>
<circle cx="298.8" cy="275.0" r="1.55" fill="#52bcd6" stroke="#237d92" stroke-width="0.45"/>
<circle cx="290.8" cy="263.8" r="1.55" fill="#52bcd6" stroke="#237d92" stroke-width="0.45"/>
<circle cx="314.2" cy="226.9" r="1.55" fill="#52bcd6" stroke="#237d92" stroke-width="0.45"/>
<circle cx="292.1" cy="269.8" r="1.55" fill="#52bcd6" stroke="#237d92" stroke-width="0.45"/>
<circle cx="311.9" cy="281.1" r="1.55" fill="#52bcd6" stroke="#237d92" stroke-width="0.45"/>
<circle cx="301.7" cy="225.3" r="1.55" fill="#52bcd6" stroke="#237d92" stroke-width="0.45"/>
<circle cx="317.5" cy="265.7" r="1.55" fill="#52bcd6" stroke="#237d92" stroke-width="0.45"/>
<circle cx="272.1" cy="274.9" r="1.55" fill="#52bcd6" stroke="#237d92" stroke-width="0.45"/>
<circle cx="313.0" cy="247.7" r="1.55" fill="#52bcd6" stroke="#237d92" stroke-width="0.45"/>
<circle cx="287.2" cy="296.6" r="1.55" fill="#52bcd6" stroke="#237d92" stroke-width="0.45"/>
<circle cx="299.0" cy="265.2" r="1.55" fill="#52bcd6" stroke="#237d92" stroke-width="0.45"/>
<circle cx="299.3" cy="288.8" r="1.55" fill="#52bcd6" stroke="#237d92" stroke-width="0.45"/>
<circle cx="304.6" cy="256.4" r="1.55" fill="#52bcd6" stroke="#237d92" stroke-width="0.45"/>
<circle cx="300.9" cy="267.9" r="1.55" fill="#52bcd6" stroke="#237d92" stroke-width="0.45"/>
<circle cx="296.4" cy="257.4" r="1.55" fill="#52bcd6" stroke="#237d92" stroke-width="0.45"/>
<circle cx="291.3" cy="261.4" r="1.55" fill="#52bcd6" stroke="#237d92" stroke-width="0.45"/>
<circle cx="299.6" cy="267.7" r="1.55" fill="#52bcd6" stroke="#237d92" stroke-width="0.45"/>
<circle cx="308.4" cy="289.5" r="1.55" fill="#52bcd6" stroke="#237d92" stroke-width="0.45"/>
<circle cx="296.2" cy="263.0" r="1.55" fill="#52bcd6" stroke="#237d92" stroke-width="0.45"/>
<circle cx="302.4" cy="240.8" r="1.55" fill="#52bcd6" stroke="#237d92" stroke-width="0.45"/>
<circle cx="287.6" cy="277.0" r="1.55" fill="#52bcd6" stroke="#237d92" stroke-width="0.45"/>
<circle cx="292.6" cy="297.1" r="1.55" fill="#52bcd6" stroke="#237d92" stroke-width="0.45"/>
<circle cx="297.0" cy="265.2" r="1.55" fill="#52bcd6" stroke="#237d92" stroke-width="0.45"/>
<circle cx="320.7" cy="242.5" r="1.55" fill="#52bcd6" stroke="#237d92" stroke-width="0.45"/>
<circle cx="295.5" cy="278.2" r="1.55" fill="#52bcd6" stroke="#237d92" stroke-width="0.45"/>
<circle cx="312.3" cy="260.3" r="1.55" fill="#52bcd6" stroke="#237d92" stroke-width="0.45"/>
<circle cx="307.5" cy="265.2" r="1.55" fill="#52bcd6" stroke="#237d92" stroke-width="0.45"/>
<circle cx="305.9" cy="282.2" r="1.55" fill="#52bcd6" stroke="#237d92" stroke-width="0.45"/>
<circle cx="308.4" cy="267.6" r="1.55" fill="#52bcd6" stroke="#237d92" stroke-width="0.45"/>
<circle cx="301.6" cy="266.1" r="1.55" fill="#52bcd6" stroke="#237d92" stroke-width="0.45"/>
<circle cx="293.1" cy="273.5" r="1.55" fill="#52bcd6" stroke="#237d92" stroke-width="0.45"/>
<circle cx="295.1" cy="257.9" r="1.55" fill="#52bcd6" stroke="#237d92" stroke-width="0.45"/>
<circle cx="283.6" cy="252.3" r="1.55" fill="#52bcd6" stroke="#237d92" stroke-width="0.45"/>
<circle cx="297.9" cy="236.7" r="1.55" fill="#52bcd6" stroke="#237d92" stroke-width="0.45"/>
<circle cx="295.9" cy="254.1" r="1.55" fill="#52bcd6" stroke="#237d92" stroke-width="0.45"/>
<circle cx="295.6" cy="299.5" r="1.55" fill="#52bcd6" stroke="#237d92" stroke-width="0.45"/>
<circle cx="288.5" cy="258.9" r="1.55" fill="#52bcd6" stroke="#237d92" stroke-width="0.45"/>
<circle cx="305.1" cy="289.0" r="1.55" fill="#52bcd6" stroke="#237d92" stroke-width="0.45"/>
<circle cx="288.6" cy="265.3" r="1.55" fill="#52bcd6" stroke="#237d92" stroke-width="0.45"/>
<circle cx="285.4" cy="271.1" r="1.55" fill="#52bcd6" stroke="#237d92" stroke-width="0.45"/>
<circle cx="304.4" cy="272.7" r="1.55" fill="#52bcd6" stroke="#237d92" stroke-width="0.45"/>
<circle cx="295.2" cy="256.0" r="1.55" fill="#52bcd6" stroke="#237d92" stroke-width="0.45"/>
<circle cx="316.3" cy="277.4" r="1.55" fill="#52bcd6" stroke="#237d92" stroke-width="0.45"/>
<circle cx="303.3" cy="280.4" r="1.55" fill="#52bcd6" stroke="#237d92" stroke-width="0.45"/>
<circle cx="299.9" cy="255.3" r="1.55" fill="#52bcd6" stroke="#237d92" stroke-width="0.45"/>
<circle cx="319.9" cy="268.0" r="1.55" fill="#52bcd6" stroke="#237d92" stroke-width="0.45"/>
<circle cx="297.6" cy="258.5" r="1.55" fill="#52bcd6" stroke="#237d92" stroke-width="0.45"/>
<circle cx="320.7" cy="257.6" r="1.55" fill="#52bcd6" stroke="#237d92" stroke-width="0.45"/>
<circle cx="285.1" cy="243.5" r="1.55" fill="#52bcd6" stroke="#237d92" stroke-width="0.45"/>
<circle cx="296.8" cy="273.2" r="1.55" fill="#52bcd6" stroke="#237d92" stroke-width="0.45"/>
<circle cx="270.1" cy="252.1" r="1.55" fill="#52bcd6" stroke="#237d92" stroke-width="0.45"/>
<circle cx="301.8" cy="223.1" r="1.55" fill="#52bcd6" stroke="#237d92" stroke-width="0.45"/>
<circle cx="281.5" cy="272.0" r="1.55" fill="#52bcd6" stroke="#237d92" stroke-width="0.45"/>
<circle cx="325.4" cy="252.0" r="1.55" fill="#52bcd6" stroke="#237d92" stroke-width="0.45"/>
<circle cx="295.2" cy="237.6" r="1.55" fill="#52bcd6" stroke="#237d92" stroke-width="0.45"/>
<circle cx="306.5" cy="246.5" r="1.55" fill="#52bcd6" stroke="#237d92" stroke-width="0.45"/>
<circle cx="311.0" cy="256.7" r="1.55" fill="#52bcd6" stroke="#237d92" stroke-width="0.45"/>
<circle cx="293.2" cy="272.3" r="1.55" fill="#52bcd6" stroke="#237d92" stroke-width="0.45"/>
<circle cx="295.1" cy="278.5" r="1.55" fill="#52bcd6" stroke="#237d92" stroke-width="0.45"/>
<circle cx="310.8" cy="253.8" r="1.55" fill="#52bcd6" stroke="#237d92" stroke-width="0.45"/>
<circle cx="295.4" cy="267.1" r="1.55" fill="#52bcd6" stroke="#237d92" stroke-width="0.45"/>
<circle cx="284.4" cy="252.1" r="1.55" fill="#52bcd6" stroke="#237d92" stroke-width="0.45"/>
<circle cx="295.6" cy="258.4" r="1.55" fill="#52bcd6" stroke="#237d92" stroke-width="0.45"/>
<circle cx="309.8" cy="287.7" r="1.55" fill="#52bcd6" stroke="#237d92" stroke-width="0.45"/>
<circle cx="293.2" cy="223.9" r="1.55" fill="#52bcd6" stroke="#237d92" stroke-width="0.45"/>
<circle cx="296.7" cy="281.6" r="1.55" fill="#52bcd6" stroke="#237d92" stroke-width="0.45"/>
<circle cx="297.3" cy="272.1" r="1.55" fill="#52bcd6" stroke="#237d92" stroke-width="0.45"/>
<circle cx="314.1" cy="266.4" r="1.55" fill="#52bcd6" stroke="#237d92" stroke-width="0.45"/>
<circle cx="318.6" cy="289.7" r="1.55" fill="#52bcd6" stroke="#237d92" stroke-width="0.45"/>
<circle cx="300.9" cy="257.7" r="1.55" fill="#52bcd6" stroke="#237d92" stroke-width="0.45"/>
<circle cx="296.9" cy="274.8" r="1.55" fill="#52bcd6" stroke="#237d92" stroke-width="0.45"/>
<circle cx="306.2" cy="258.5" r="1.55" fill="#52bcd6" stroke="#237d92" stroke-width="0.45"/>
<circle cx="297.9" cy="255.8" r="1.55" fill="#52bcd6" stroke="#237d92" stroke-width="0.45"/>
<circle cx="288.1" cy="279.8" r="1.55" fill="#52bcd6" stroke="#237d92" stroke-width="0.45"/>
<circle cx="302.5" cy="256.3" r="1.55" fill="#52bcd6" stroke="#237d92" stroke-width="0.45"/>
<circle cx="283.3" cy="267.7" r="1.55" fill="#52bcd6" stroke="#237d92" stroke-width="0.45"/>
<circle cx="308.2" cy="265.7" r="1.55" fill="#52bcd6" stroke="#237d92" stroke-width="0.45"/>
<circle cx="296.2" cy="298.6" r="1.55" fill="#52bcd6" stroke="#237d92" stroke-width="0.45"/>
<circle cx="292.0" cy="249.7" r="1.55" fill="#52bcd6" stroke="#237d92" stroke-width="0.45"/>
<circle cx="298.7" cy="264.6" r="1.55" fill="#52bcd6" stroke="#237d92" stroke-width="0.45"/>
<circle cx="303.9" cy="276.5" r="1.55" fill="#52bcd6" stroke="#237d92" stroke-width="0.45"/>
<circle cx="311.2" cy="257.5" r="1.55" fill="#52bcd6" stroke="#237d92" stroke-width="0.45"/>
<circle cx="308.6" cy="248.6" r="1.55" fill="#52bcd6" stroke="#237d92" stroke-width="0.45"/>
<circle cx="297.5" cy="288.3" r="1.55" fill="#52bcd6" stroke="#237d92" stroke-width="0.45"/>
<circle cx="315.3" cy="272.7" r="1.55" fill="#52bcd6" stroke="#237d92" stroke-width="0.45"/>
<circle cx="307.2" cy="242.6" r="1.55" fill="#52bcd6" stroke="#237d92" stroke-width="0.45"/>
<circle cx="270.3" cy="280.6" r="1.55" fill="#52bcd6" stroke="#237d92" stroke-width="0.45"/>
<circle cx="301.6" cy="276.5" r="1.55" fill="#52bcd6" stroke="#237d92" stroke-width="0.45"/>
<circle cx="320.6" cy="248.0" r="1.55" fill="#52bcd6" stroke="#237d92" stroke-width="0.45"/>
<circle cx="299.6" cy="274.9" r="1.55" fill="#52bcd6" stroke="#237d92" stroke-width="0.45"/>
<circle cx="306.6" cy="279.1" r="1.55" fill="#52bcd6" stroke="#237d92" stroke-width="0.45"/>
<circle cx="305.4" cy="284.8" r="1.55" fill="#52bcd6" stroke="#237d92" stroke-width="0.45"/>
<circle cx="305.6" cy="268.3" r="1.55" fill="#52bcd6" stroke="#237d92" stroke-width="0.45"/>
<circle cx="296.6" cy="244.3" r="1.55" fill="#52bcd6" stroke="#237d92" stroke-width="0.45"/>
<circle cx="289.3" cy="292.0" r="1.55" fill="#52bcd6" stroke="#237d92" stroke-width="0.45"/>
<circle cx="300.1" cy="284.3" r="1.55" fill="#52bcd6" stroke="#237d92" stroke-width="0.45"/>
<circle cx="279.9" cy="280.7" r="1.55" fill="#52bcd6" stroke="#237d92" stroke-width="0.45"/>
<circle cx="291.7" cy="239.3" r="1.55" fill="#52bcd6" stroke="#237d92" stroke-width="0.45"/>
<circle cx="291.8" cy="256.4" r="1.55" fill="#52bcd6" stroke="#237d92" stroke-width="0.45"/>
<circle cx="321.5" cy="238.3" r="1.55" fill="#52bcd6" stroke="#237d92" stroke-width="0.45"/>
<circle cx="309.5" cy="269.0" r="1.55" fill="#52bcd6" stroke="#237d92" stroke-width="0.45"/>
<circle cx="290.0" cy="260.2" r="1.55" fill="#52bcd6" stroke="#237d92" stroke-width="0.45"/>
<circle cx="272.0" cy="251.7" r="1.55" fill="#52bcd6" stroke="#237d92" stroke-width="0.45"/>
<circle cx="281.5" cy="261.0" r="1.55" fill="#52bcd6" stroke="#237d92" stroke-width="0.45"/>
<circle cx="287.7" cy="283.6" r="1.55" fill="#52bcd6" stroke="#237d92" stroke-width="0.45"/>
<circle cx="317.2" cy="247.1" r="1.55" fill="#52bcd6" stroke="#237d92" stroke-width="0.45"/>
<circle cx="317.8" cy="273.6" r="1.55" fill="#52bcd6" stroke="#237d92" stroke-width="0.45"/>
<circle cx="303.2" cy="294.3" r="1.55" fill="#52bcd6" stroke="#237d92" stroke-width="0.45"/>
<circle cx="301.4" cy="284.3" r="1.55" fill="#52bcd6" stroke="#237d92" stroke-width="0.45"/>
<circle cx="307.3" cy="288.3" r="1.55" fill="#52bcd6" stroke="#237d92" stroke-width="0.45"/>
<circle cx="318.7" cy="238.2" r="1.55" fill="#52bcd6" stroke="#237d92" stroke-width="0.45"/>
<circle cx="307.2" cy="259.2" r="1.55" fill="#52bcd6" stroke="#237d92" stroke-width="0.45"/>
<circle cx="309.3" cy="285.7" r="1.55" fill="#52bcd6" stroke="#237d92" stroke-width="0.45"/>
<circle cx="301.4" cy="272.9" r="1.55" fill="#52bcd6" stroke="#237d92" stroke-width="0.45"/>
<circle cx="314.0" cy="270.5" r="1.55" fill="#52bcd6" stroke="#237d92" stroke-width="0.45"/>
<circle cx="266.9" cy="266.5" r="1.55" fill="#52bcd6" stroke="#237d92" stroke-width="0.45"/>
<circle cx="292.3" cy="269.2" r="1.55" fill="#52bcd6" stroke="#237d92" stroke-width="0.45"/>
<circle cx="288.8" cy="257.6" r="1.55" fill="#52bcd6" stroke="#237d92" stroke-width="0.45"/>
<circle cx="295.3" cy="253.6" r="1.55" fill="#52bcd6" stroke="#237d92" stroke-width="0.45"/>
<circle cx="296.3" cy="272.7" r="1.55" fill="#52bcd6" stroke="#237d92" stroke-width="0.45"/>
<circle cx="273.1" cy="258.8" r="1.55" fill="#52bcd6" stroke="#237d92" stroke-width="0.45"/>
<circle cx="299.2" cy="258.4" r="1.55" fill="#52bcd6" stroke="#237d92" stroke-width="0.45"/>
<circle cx="303.5" cy="259.8" r="1.55" fill="#52bcd6" stroke="#237d92" stroke-width="0.45"/>
<circle cx="297.2" cy="260.1" r="1.55" fill="#52bcd6" stroke="#237d92" stroke-width="0.45"/>
<circle cx="283.6" cy="265.1" r="1.55" fill="#52bcd6" stroke="#237d92" stroke-width="0.45"/>
<circle cx="298.9" cy="272.1" r="1.55" fill="#52bcd6" stroke="#237d92" stroke-width="0.45"/>
<circle cx="305.7" cy="248.3" r="1.55" fill="#52bcd6" stroke="#237d92" stroke-width="0.45"/>
<circle cx="316.9" cy="222.9" r="1.55" fill="#52bcd6" stroke="#237d92" stroke-width="0.45"/>
<circle cx="283.3" cy="270.2" r="1.55" fill="#52bcd6" stroke="#237d92" stroke-width="0.45"/>
<circle cx="291.5" cy="240.2" r="1.55" fill="#52bcd6" stroke="#237d92" stroke-width="0.45"/>
<circle cx="309.2" cy="243.4" r="1.55" fill="#52bcd6" stroke="#237d92" stroke-width="0.45"/>
<circle cx="311.7" cy="271.4" r="1.55" fill="#52bcd6" stroke="#237d92" stroke-width="0.45"/>
<circle cx="293.3" cy="285.0" r="1.55" fill="#52bcd6" stroke="#237d92" stroke-width="0.45"/>
<circle cx="309.6" cy="269.7" r="1.55" fill="#52bcd6" stroke="#237d92" stroke-width="0.45"/>
<circle cx="315.0" cy="275.3" r="1.55" fill="#52bcd6" stroke="#237d92" stroke-width="0.45"/>
<circle cx="290.9" cy="264.5" r="1.55" fill="#52bcd6" stroke="#237d92" stroke-width="0.45"/>
<circle cx="302.5" cy="260.5" r="1.55" fill="#52bcd6" stroke="#237d92" stroke-width="0.45"/>
<circle cx="281.7" cy="244.6" r="1.55" fill="#52bcd6" stroke="#237d92" stroke-width="0.45"/>
<circle cx="282.2" cy="299.8" r="1.55" fill="#52bcd6" stroke="#237d92" stroke-width="0.45"/>
<circle cx="279.7" cy="268.1" r="1.55" fill="#52bcd6" stroke="#237d92" stroke-width="0.45"/>
<circle cx="298.3" cy="249.0" r="1.55" fill="#52bcd6" stroke="#237d92" stroke-width="0.45"/>
<circle cx="290.2" cy="286.7" r="1.55" fill="#52bcd6" stroke="#237d92" stroke-width="0.45"/>
<circle cx="287.8" cy="301.6" r="1.55" fill="#52bcd6" stroke="#237d92" stroke-width="0.45"/>
<circle cx="284.5" cy="266.9" r="1.55" fill="#52bcd6" stroke="#237d92" stroke-width="0.45"/>
<circle cx="313.5" cy="271.9" r="1.55" fill="#52bcd6" stroke="#237d92" stroke-width="0.45"/>
<circle cx="269.3" cy="250.1" r="1.55" fill="#52bcd6" stroke="#237d92" stroke-width="0.45"/>
<circle cx="297.6" cy="243.6" r="1.55" fill="#52bcd6" stroke="#237d92" stroke-width="0.45"/>
<circle cx="305.8" cy="270.3" r="1.55" fill="#52bcd6" stroke="#237d92" stroke-width="0.45"/>
<circle cx="302.0" cy="286.6" r="1.55" fill="#52bcd6" stroke="#237d92" stroke-width="0.45"/>
<circle cx="295.0" cy="288.8" r="1.55" fill="#52bcd6" stroke="#237d92" stroke-width="0.45"/>
<circle cx="306.0" cy="250.6" r="1.55" fill="#52bcd6" stroke="#237d92" stroke-width="0.45"/>
<circle cx="309.6" cy="235.2" r="1.55" fill="#52bcd6" stroke="#237d92" stroke-width="0.45"/>
<circle cx="293.4" cy="238.8" r="1.55" fill="#52bcd6" stroke="#237d92" stroke-width="0.45"/>
<circle cx="304.9" cy="253.8" r="1.55" fill="#52bcd6" stroke="#237d92" stroke-width="0.45"/>
<circle cx="294.9" cy="261.4" r="1.55" fill="#52bcd6" stroke="#237d92" stroke-width="0.45"/>
<circle cx="288.3" cy="258.9" r="1.55" fill="#52bcd6" stroke="#237d92" stroke-width="0.45"/>
<circle cx="287.8" cy="286.4" r="1.55" fill="#52bcd6" stroke="#237d92" stroke-width="0.45"/>
<circle cx="301.9" cy="276.9" r="1.55" fill="#52bcd6" stroke="#237d92" stroke-width="0.45"/>
<circle cx="286.5" cy="243.7" r="1.55" fill="#52bcd6" stroke="#237d92" stroke-width="0.45"/>
<circle cx="295.0" cy="261.4" r="1.55" fill="#52bcd6" stroke="#237d92" stroke-width="0.45"/>
<circle cx="296.0" cy="279.9" r="1.55" fill="#52bcd6" stroke="#237d92" stroke-width="0.45"/>
<circle cx="310.8" cy="283.4" r="1.55" fill="#52bcd6" stroke="#237d92" stroke-width="0.45"/>
<circle cx="307.6" cy="256.4" r="1.55" fill="#52bcd6" stroke="#237d92" stroke-width="0.45"/>
<circle cx="291.5" cy="273.0" r="1.55" fill="#52bcd6" stroke="#237d92" stroke-width="0.45"/>
<circle cx="297.9" cy="286.3" r="1.55" fill="#52bcd6" stroke="#237d92" stroke-width="0.45"/>
<circle cx="300.3" cy="270.6" r="1.55" fill="#52bcd6" stroke="#237d92" stroke-width="0.45"/>
<circle cx="279.4" cy="271.1" r="1.55" fill="#52bcd6" stroke="#237d92" stroke-width="0.45"/>
<circle cx="285.1" cy="253.2" r="1.55" fill="#52bcd6" stroke="#237d92" stroke-width="0.45"/>
<circle cx="302.7" cy="254.3" r="1.55" fill="#52bcd6" stroke="#237d92" stroke-width="0.45"/>
<circle cx="313.0" cy="245.0" r="1.55" fill="#52bcd6" stroke="#237d92" stroke-width="0.45"/>
<circle cx="300.7" cy="297.6" r="1.55" fill="#52bcd6" stroke="#237d92" stroke-width="0.45"/>
<circle cx="288.3" cy="249.2" r="1.55" fill="#52bcd6" stroke="#237d92" stroke-width="0.45"/>
<circle cx="286.5" cy="242.5" r="1.55" fill="#52bcd6" stroke="#237d92" stroke-width="0.45"/>
<circle cx="301.7" cy="272.4" r="1.55" fill="#52bcd6" stroke="#237d92" stroke-width="0.45"/>
<circle cx="310.0" cy="275.8" r="1.55" fill="#52bcd6" stroke="#237d92" stroke-width="0.45"/>
<circle cx="305.3" cy="263.9" r="1.55" fill="#52bcd6" stroke="#237d92" stroke-width="0.45"/>
<circle cx="320.7" cy="282.4" r="1.55" fill="#52bcd6" stroke="#237d92" stroke-width="0.45"/>
<circle cx="299.9" cy="277.8" r="1.55" fill="#52bcd6" stroke="#237d92" stroke-width="0.45"/>
<circle cx="305.1" cy="251.9" r="1.55" fill="#52bcd6" stroke="#237d92" stroke-width="0.45"/>
<circle cx="280.2" cy="254.6" r="1.55" fill="#52bcd6" stroke="#237d92" stroke-width="0.45"/>
<circle cx="299.7" cy="288.0" r="1.55" fill="#52bcd6" stroke="#237d92" stroke-width="0.45"/>
<circle cx="299.1" cy="287.3" r="1.55" fill="#52bcd6" stroke="#237d92" stroke-width="0.45"/>
<circle cx="316.5" cy="286.0" r="1.55" fill="#52bcd6" stroke="#237d92" stroke-width="0.45"/>
<circle cx="298.5" cy="278.7" r="1.55" fill="#52bcd6" stroke="#237d92" stroke-width="0.45"/>
<circle cx="299.0" cy="268.1" r="1.55" fill="#52bcd6" stroke="#237d92" stroke-width="0.45"/>
<circle cx="311.4" cy="272.7" r="1.55" fill="#52bcd6" stroke="#237d92" stroke-width="0.45"/>
<circle cx="288.3" cy="239.5" r="1.55" fill="#52bcd6" stroke="#237d92" stroke-width="0.45"/>
<circle cx="304.0" cy="260.8" r="1.55" fill="#52bcd6" stroke="#237d92" stroke-width="0.45"/>
<circle cx="273.1" cy="284.5" r="1.55" fill="#52bcd6" stroke="#237d92" stroke-width="0.45"/>
<circle cx="312.1" cy="251.1" r="1.55" fill="#52bcd6" stroke="#237d92" stroke-width="0.45"/>
<circle cx="287.3" cy="290.3" r="1.55" fill="#52bcd6" stroke="#237d92" stroke-width="0.45"/>
<circle cx="303.9" cy="254.0" r="1.55" fill="#52bcd6" stroke="#237d92" stroke-width="0.45"/>
<circle cx="308.5" cy="261.2" r="1.55" fill="#52bcd6" stroke="#237d92" stroke-width="0.45"/>
<circle cx="306.2" cy="287.7" r="1.55" fill="#52bcd6" stroke="#237d92" stroke-width="0.45"/>
<circle cx="314.9" cy="271.9" r="1.55" fill="#52bcd6" stroke="#237d92" stroke-width="0.45"/>
<circle cx="299.0" cy="249.7" r="1.55" fill="#52bcd6" stroke="#237d92" stroke-width="0.45"/>
<circle cx="294.5" cy="269.3" r="1.55" fill="#52bcd6" stroke="#237d92" stroke-width="0.45"/>
<circle cx="303.1" cy="262.1" r="1.55" fill="#52bcd6" stroke="#237d92" stroke-width="0.45"/>
<circle cx="284.3" cy="269.4" r="1.55" fill="#52bcd6" stroke="#237d92" stroke-width="0.45"/>
<circle cx="278.2" cy="275.2" r="1.55" fill="#52bcd6" stroke="#237d92" stroke-width="0.45"/>
<circle cx="296.4" cy="246.8" r="1.55" fill="#52bcd6" stroke="#237d92" stroke-width="0.45"/>
<circle cx="302.9" cy="266.4" r="1.55" fill="#52bcd6" stroke="#237d92" stroke-width="0.45"/>
<circle cx="307.4" cy="291.8" r="1.55" fill="#52bcd6" stroke="#237d92" stroke-width="0.45"/>
<circle cx="294.8" cy="280.2" r="1.55" fill="#52bcd6" stroke="#237d92" stroke-width="0.45"/>
<circle cx="283.0" cy="279.7" r="1.55" fill="#52bcd6" stroke="#237d92" stroke-width="0.45"/>
<circle cx="290.6" cy="242.9" r="1.55" fill="#52bcd6" stroke="#237d92" stroke-width="0.45"/>
<circle cx="305.0" cy="272.6" r="1.55" fill="#52bcd6" stroke="#237d92" stroke-width="0.45"/>
<circle cx="298.1" cy="275.2" r="1.55" fill="#52bcd6" stroke="#237d92" stroke-width="0.45"/>
<circle cx="305.7" cy="262.2" r="1.55" fill="#52bcd6" stroke="#237d92" stroke-width="0.45"/>
<circle cx="297.2" cy="257.8" r="1.55" fill="#52bcd6" stroke="#237d92" stroke-width="0.45"/>
<circle cx="324.7" cy="287.9" r="1.55" fill="#52bcd6" stroke="#237d92" stroke-width="0.45"/>
<circle cx="306.9" cy="262.1" r="1.55" fill="#52bcd6" stroke="#237d92" stroke-width="0.45"/>
<circle cx="293.5" cy="301.6" r="1.55" fill="#52bcd6" stroke="#237d92" stroke-width="0.45"/>
<circle cx="303.3" cy="269.4" r="1.55" fill="#52bcd6" stroke="#237d92" stroke-width="0.45"/>
<circle cx="309.5" cy="262.5" r="1.55" fill="#52bcd6" stroke="#237d92" stroke-width="0.45"/>
<circle cx="292.3" cy="267.3" r="1.55" fill="#52bcd6" stroke="#237d92" stroke-width="0.45"/>
<circle cx="325.5" cy="273.0" r="1.55" fill="#52bcd6" stroke="#237d92" stroke-width="0.45"/>
<circle cx="301.4" cy="261.0" r="1.55" fill="#52bcd6" stroke="#237d92" stroke-width="0.45"/>
<circle cx="312.1" cy="292.5" r="1.55" fill="#52bcd6" stroke="#237d92" stroke-width="0.45"/>
<circle cx="281.8" cy="277.5" r="1.55" fill="#52bcd6" stroke="#237d92" stroke-width="0.45"/>
<circle cx="308.5" cy="259.6" r="1.55" fill="#52bcd6" stroke="#237d92" stroke-width="0.45"/>
<circle cx="310.4" cy="288.4" r="1.55" fill="#52bcd6" stroke="#237d92" stroke-width="0.45"/>
<circle cx="299.5" cy="255.5" r="1.55" fill="#52bcd6" stroke="#237d92" stroke-width="0.45"/>
<circle cx="322.2" cy="260.8" r="1.55" fill="#52bcd6" stroke="#237d92" stroke-width="0.45"/>
<circle cx="324.1" cy="259.0" r="1.55" fill="#52bcd6" stroke="#237d92" stroke-width="0.45"/>
<circle cx="308.0" cy="228.1" r="1.55" fill="#52bcd6" stroke="#237d92" stroke-width="0.45"/>
<circle cx="303.4" cy="275.3" r="1.55" fill="#52bcd6" stroke="#237d92" stroke-width="0.45"/>
<circle cx="287.2" cy="278.6" r="1.55" fill="#52bcd6" stroke="#237d92" stroke-width="0.45"/>
<circle cx="303.3" cy="254.2" r="1.55" fill="#52bcd6" stroke="#237d92" stroke-width="0.45"/>
<circle cx="318.3" cy="266.1" r="1.55" fill="#52bcd6" stroke="#237d92" stroke-width="0.45"/>
<circle cx="299.6" cy="296.4" r="1.55" fill="#52bcd6" stroke="#237d92" stroke-width="0.45"/>
<circle cx="301.3" cy="281.9" r="1.55" fill="#52bcd6" stroke="#237d92" stroke-width="0.45"/>
<circle cx="306.8" cy="275.5" r="1.55" fill="#52bcd6" stroke="#237d92" stroke-width="0.45"/>
<circle cx="293.2" cy="281.4" r="1.55" fill="#52bcd6" stroke="#237d92" stroke-width="0.45"/>
<circle cx="300.5" cy="262.7" r="1.55" fill="#52bcd6" stroke="#237d92" stroke-width="0.45"/>
<circle cx="284.3" cy="247.2" r="1.55" fill="#52bcd6" stroke="#237d92" stroke-width="0.45"/>
<circle cx="292.1" cy="254.5" r="1.55" fill="#52bcd6" stroke="#237d92" stroke-width="0.45"/>
<circle cx="295.6" cy="265.0" r="1.55" fill="#52bcd6" stroke="#237d92" stroke-width="0.45"/>
<circle cx="302.2" cy="267.6" r="1.55" fill="#52bcd6" stroke="#237d92" stroke-width="0.45"/>
<circle cx="321.0" cy="256.4" r="1.55" fill="#52bcd6" stroke="#237d92" stroke-width="0.45"/>
<circle cx="314.5" cy="259.7" r="1.55" fill="#52bcd6" stroke="#237d92" stroke-width="0.45"/>
<circle cx="294.4" cy="233.0" r="1.55" fill="#52bcd6" stroke="#237d92" stroke-width="0.45"/>
<circle cx="303.5" cy="266.8" r="1.55" fill="#52bcd6" stroke="#237d92" stroke-width="0.45"/>
<circle cx="317.4" cy="262.3" r="1.55" fill="#52bcd6" stroke="#237d92" stroke-width="0.45"/>
<circle cx="303.0" cy="268.9" r="1.55" fill="#52bcd6" stroke="#237d92" stroke-width="0.45"/>
<circle cx="300.9" cy="264.6" r="1.55" fill="#52bcd6" stroke="#237d92" stroke-width="0.45"/>
<circle cx="308.5" cy="286.0" r="1.55" fill="#52bcd6" stroke="#237d92" stroke-width="0.45"/>
<circle cx="277.9" cy="267.9" r="1.55" fill="#52bcd6" stroke="#237d92" stroke-width="0.45"/>
<circle cx="292.8" cy="280.4" r="1.55" fill="#52bcd6" stroke="#237d92" stroke-width="0.45"/>
<circle cx="305.8" cy="264.8" r="1.55" fill="#52bcd6" stroke="#237d92" stroke-width="0.45"/>
<circle cx="292.2" cy="294.9" r="1.55" fill="#52bcd6" stroke="#237d92" stroke-width="0.45"/>
<circle cx="303.9" cy="274.4" r="1.55" fill="#52bcd6" stroke="#237d92" stroke-width="0.45"/>
<circle cx="300.4" cy="271.1" r="1.55" fill="#52bcd6" stroke="#237d92" stroke-width="0.45"/>
<circle cx="292.8" cy="243.2" r="1.55" fill="#52bcd6" stroke="#237d92" stroke-width="0.45"/>
<circle cx="314.1" cy="256.5" r="1.55" fill="#52bcd6" stroke="#237d92" stroke-width="0.45"/>
<circle cx="300.5" cy="263.6" r="1.55" fill="#52bcd6" stroke="#237d92" stroke-width="0.45"/>
<circle cx="298.4" cy="295.4" r="1.55" fill="#52bcd6" stroke="#237d92" stroke-width="0.45"/>
<circle cx="311.9" cy="245.0" r="1.55" fill="#52bcd6" stroke="#237d92" stroke-width="0.45"/>
<circle cx="312.7" cy="246.0" r="1.55" fill="#52bcd6" stroke="#237d92" stroke-width="0.45"/>
<circle cx="286.0" cy="293.0" r="1.55" fill="#52bcd6" stroke="#237d92" stroke-width="0.45"/>
<circle cx="287.9" cy="279.8" r="1.55" fill="#52bcd6" stroke="#237d92" stroke-width="0.45"/>
<circle cx="303.7" cy="283.9" r="1.55" fill="#52bcd6" stroke="#237d92" stroke-width="0.45"/>
<circle cx="306.0" cy="270.7" r="1.55" fill="#52bcd6" stroke="#237d92" stroke-width="0.45"/>
<circle cx="298.3" cy="274.1" r="1.55" fill="#52bcd6" stroke="#237d92" stroke-width="0.45"/>
<circle cx="302.6" cy="251.1" r="1.55" fill="#52bcd6" stroke="#237d92" stroke-width="0.45"/>
<circle cx="303.9" cy="273.6" r="1.55" fill="#52bcd6" stroke="#237d92" stroke-width="0.45"/>
<circle cx="311.7" cy="264.4" r="1.55" fill="#52bcd6" stroke="#237d92" stroke-width="0.45"/>
<circle cx="294.0" cy="265.2" r="1.55" fill="#52bcd6" stroke="#237d92" stroke-width="0.45"/>
<circle cx="301.2" cy="257.5" r="1.55" fill="#52bcd6" stroke="#237d92" stroke-width="0.45"/>
<circle cx="313.3" cy="263.5" r="1.55" fill="#52bcd6" stroke="#237d92" stroke-width="0.45"/>
<circle cx="300.4" cy="286.1" r="1.55" fill="#52bcd6" stroke="#237d92" stroke-width="0.45"/>
<circle cx="300.6" cy="252.3" r="1.55" fill="#52bcd6" stroke="#237d92" stroke-width="0.45"/>
<circle cx="297.3" cy="278.5" r="1.55" fill="#52bcd6" stroke="#237d92" stroke-width="0.45"/>
<circle cx="313.9" cy="285.6" r="1.55" fill="#52bcd6" stroke="#237d92" stroke-width="0.45"/>
<circle cx="308.4" cy="257.6" r="1.55" fill="#52bcd6" stroke="#237d92" stroke-width="0.45"/>
<circle cx="296.5" cy="265.2" r="1.55" fill="#52bcd6" stroke="#237d92" stroke-width="0.45"/>
<circle cx="279.9" cy="283.6" r="1.55" fill="#52bcd6" stroke="#237d92" stroke-width="0.45"/>
<circle cx="311.2" cy="267.5" r="1.55" fill="#52bcd6" stroke="#237d92" stroke-width="0.45"/>
<circle cx="281.3" cy="254.3" r="1.55" fill="#52bcd6" stroke="#237d92" stroke-width="0.45"/>
<circle cx="306.1" cy="275.6" r="1.55" fill="#52bcd6" stroke="#237d92" stroke-width="0.45"/>
<circle cx="291.8" cy="281.2" r="1.55" fill="#52bcd6" stroke="#237d92" stroke-width="0.45"/>
<circle cx="289.6" cy="267.6" r="1.55" fill="#52bcd6" stroke="#237d92" stroke-width="0.45"/>
<circle cx="294.0" cy="272.2" r="1.55" fill="#52bcd6" stroke="#237d92" stroke-width="0.45"/>
<circle cx="311.5" cy="238.8" r="1.55" fill="#52bcd6" stroke="#237d92" stroke-width="0.45"/>
<circle cx="297.3" cy="265.8" r="1.55" fill="#52bcd6" stroke="#237d92" stroke-width="0.45"/>
<circle cx="303.6" cy="279.9" r="1.55" fill="#52bcd6" stroke="#237d92" stroke-width="0.45"/>
<circle cx="291.7" cy="278.8" r="1.55" fill="#52bcd6" stroke="#237d92" stroke-width="0.45"/>
<circle cx="282.4" cy="286.3" r="1.55" fill="#52bcd6" stroke="#237d92" stroke-width="0.45"/>
<circle cx="301.8" cy="251.3" r="1.55" fill="#52bcd6" stroke="#237d92" stroke-width="0.45"/>
<circle cx="284.1" cy="258.5" r="1.55" fill="#52bcd6" stroke="#237d92" stroke-width="0.45"/>
<circle cx="306.0" cy="293.7" r="1.55" fill="#52bcd6" stroke="#237d92" stroke-width="0.45"/>
<circle cx="301.4" cy="261.6" r="1.55" fill="#52bcd6" stroke="#237d92" stroke-width="0.45"/>
<circle cx="296.5" cy="250.0" r="1.55" fill="#52bcd6" stroke="#237d92" stroke-width="0.45"/>
<circle cx="280.3" cy="253.1" r="1.55" fill="#52bcd6" stroke="#237d92" stroke-width="0.45"/>
<circle cx="302.5" cy="240.8" r="1.55" fill="#52bcd6" stroke="#237d92" stroke-width="0.45"/>
<circle cx="313.1" cy="246.0" r="1.55" fill="#52bcd6" stroke="#237d92" stroke-width="0.45"/>
<circle cx="349.5" cy="304.0" r="1.55" fill="#52bcd6" stroke="#237d92" stroke-width="0.45"/>
<circle cx="327.9" cy="304.7" r="1.55" fill="#52bcd6" stroke="#237d92" stroke-width="0.45"/>
<circle cx="369.6" cy="291.0" r="1.55" fill="#52bcd6" stroke="#237d92" stroke-width="0.45"/>
<circle cx="334.3" cy="300.6" r="1.55" fill="#52bcd6" stroke="#237d92" stroke-width="0.45"/>
<circle cx="323.9" cy="289.6" r="1.55" fill="#52bcd6" stroke="#237d92" stroke-width="0.45"/>
<circle cx="323.1" cy="321.3" r="1.55" fill="#52bcd6" stroke="#237d92" stroke-width="0.45"/>
<circle cx="339.2" cy="292.3" r="1.55" fill="#52bcd6" stroke="#237d92" stroke-width="0.45"/>
<circle cx="346.9" cy="302.2" r="1.55" fill="#52bcd6" stroke="#237d92" stroke-width="0.45"/>
<circle cx="322.1" cy="312.2" r="1.55" fill="#52bcd6" stroke="#237d92" stroke-width="0.45"/>
<circle cx="334.7" cy="309.0" r="1.55" fill="#52bcd6" stroke="#237d92" stroke-width="0.45"/>
<circle cx="288.2" cy="308.4" r="1.55" fill="#52bcd6" stroke="#237d92" stroke-width="0.45"/>
<circle cx="369.2" cy="311.3" r="1.55" fill="#52bcd6" stroke="#237d92" stroke-width="0.45"/>
<circle cx="336.1" cy="315.7" r="1.55" fill="#52bcd6" stroke="#237d92" stroke-width="0.45"/>
<circle cx="317.7" cy="297.3" r="1.55" fill="#52bcd6" stroke="#237d92" stroke-width="0.45"/>
<circle cx="321.1" cy="307.0" r="1.55" fill="#52bcd6" stroke="#237d92" stroke-width="0.45"/>
<circle cx="313.5" cy="298.4" r="1.55" fill="#52bcd6" stroke="#237d92" stroke-width="0.45"/>
<circle cx="303.0" cy="320.0" r="1.55" fill="#52bcd6" stroke="#237d92" stroke-width="0.45"/>
<circle cx="324.9" cy="295.0" r="1.55" fill="#52bcd6" stroke="#237d92" stroke-width="0.45"/>
<circle cx="345.9" cy="300.9" r="1.55" fill="#52bcd6" stroke="#237d92" stroke-width="0.45"/>
<circle cx="362.1" cy="321.3" r="1.55" fill="#52bcd6" stroke="#237d92" stroke-width="0.45"/>
<circle cx="338.3" cy="310.7" r="1.55" fill="#52bcd6" stroke="#237d92" stroke-width="0.45"/>
<circle cx="319.7" cy="304.8" r="1.55" fill="#52bcd6" stroke="#237d92" stroke-width="0.45"/>
<circle cx="315.4" cy="294.1" r="1.55" fill="#52bcd6" stroke="#237d92" stroke-width="0.45"/>
<circle cx="334.7" cy="302.8" r="1.55" fill="#52bcd6" stroke="#237d92" stroke-width="0.45"/>
<circle cx="328.3" cy="304.0" r="1.55" fill="#52bcd6" stroke="#237d92" stroke-width="0.45"/>
<circle cx="332.2" cy="304.4" r="1.55" fill="#52bcd6" stroke="#237d92" stroke-width="0.45"/>
<circle cx="309.8" cy="305.1" r="1.55" fill="#52bcd6" stroke="#237d92" stroke-width="0.45"/>
<circle cx="336.1" cy="303.3" r="1.55" fill="#52bcd6" stroke="#237d92" stroke-width="0.45"/>
<circle cx="330.6" cy="305.9" r="1.55" fill="#52bcd6" stroke="#237d92" stroke-width="0.45"/>
<circle cx="359.8" cy="306.0" r="1.55" fill="#52bcd6" stroke="#237d92" stroke-width="0.45"/>
<circle cx="248.7" cy="312.4" r="1.55" fill="#e07b26" stroke="#8a4510" stroke-width="0.45"/>
<circle cx="248.3" cy="303.6" r="1.55" fill="#e07b26" stroke="#8a4510" stroke-width="0.45"/>
<circle cx="256.9" cy="308.2" r="1.55" fill="#e07b26" stroke="#8a4510" stroke-width="0.45"/>
<circle cx="251.4" cy="305.4" r="1.55" fill="#e07b26" stroke="#8a4510" stroke-width="0.45"/>
<circle cx="246.5" cy="293.0" r="1.55" fill="#e07b26" stroke="#8a4510" stroke-width="0.45"/>
<circle cx="252.9" cy="283.6" r="1.55" fill="#e07b26" stroke="#8a4510" stroke-width="0.45"/>
<circle cx="244.6" cy="301.2" r="1.55" fill="#e07b26" stroke="#8a4510" stroke-width="0.45"/>
<circle cx="255.8" cy="307.6" r="1.55" fill="#e07b26" stroke="#8a4510" stroke-width="0.45"/>
<circle cx="246.9" cy="283.6" r="1.55" fill="#e07b26" stroke="#8a4510" stroke-width="0.45"/>
<circle cx="254.4" cy="278.2" r="1.55" fill="#e07b26" stroke="#8a4510" stroke-width="0.45"/>
<circle cx="255.9" cy="293.9" r="1.55" fill="#e07b26" stroke="#8a4510" stroke-width="0.45"/>
<circle cx="246.6" cy="302.5" r="1.55" fill="#e07b26" stroke="#8a4510" stroke-width="0.45"/>
<circle cx="245.2" cy="311.3" r="1.55" fill="#e07b26" stroke="#8a4510" stroke-width="0.45"/>
<circle cx="248.1" cy="303.6" r="1.55" fill="#e07b26" stroke="#8a4510" stroke-width="0.45"/>
<circle cx="244.9" cy="291.2" r="1.55" fill="#e07b26" stroke="#8a4510" stroke-width="0.45"/>
<circle cx="263.6" cy="321.3" r="1.55" fill="#e07b26" stroke="#8a4510" stroke-width="0.45"/>
<circle cx="268.2" cy="272.5" r="1.55" fill="#e07b26" stroke="#8a4510" stroke-width="0.45"/>
<circle cx="252.7" cy="283.6" r="1.55" fill="#e07b26" stroke="#8a4510" stroke-width="0.45"/>
<circle cx="257.1" cy="288.5" r="1.55" fill="#e07b26" stroke="#8a4510" stroke-width="0.45"/>
<circle cx="264.4" cy="306.2" r="1.55" fill="#e07b26" stroke="#8a4510" stroke-width="0.45"/>
<circle cx="258.1" cy="283.6" r="1.55" fill="#e07b26" stroke="#8a4510" stroke-width="0.45"/>
<circle cx="273.8" cy="292.6" r="1.55" fill="#e07b26" stroke="#8a4510" stroke-width="0.45"/>
<circle cx="271.7" cy="305.8" r="1.55" fill="#e07b26" stroke="#8a4510" stroke-width="0.45"/>
<circle cx="258.3" cy="277.3" r="1.55" fill="#e07b26" stroke="#8a4510" stroke-width="0.45"/>
<circle cx="244.6" cy="311.3" r="1.55" fill="#e07b26" stroke="#8a4510" stroke-width="0.45"/>
<circle cx="266.9" cy="293.9" r="1.55" fill="#e07b26" stroke="#8a4510" stroke-width="0.45"/>
<circle cx="253.0" cy="283.6" r="1.55" fill="#e07b26" stroke="#8a4510" stroke-width="0.45"/>
<circle cx="266.5" cy="293.0" r="1.55" fill="#e07b26" stroke="#8a4510" stroke-width="0.45"/>
<circle cx="258.2" cy="277.3" r="1.55" fill="#e07b26" stroke="#8a4510" stroke-width="0.45"/>
<circle cx="269.3" cy="300.4" r="1.55" fill="#e07b26" stroke="#8a4510" stroke-width="0.45"/>
<circle cx="259.5" cy="297.2" r="1.55" fill="#e07b26" stroke="#8a4510" stroke-width="0.45"/>
<circle cx="248.4" cy="303.6" r="1.55" fill="#e07b26" stroke="#8a4510" stroke-width="0.45"/>
<circle cx="257.0" cy="295.1" r="1.55" fill="#e07b26" stroke="#8a4510" stroke-width="0.45"/>
<circle cx="258.3" cy="277.3" r="1.55" fill="#e07b26" stroke="#8a4510" stroke-width="0.45"/>
<circle cx="251.5" cy="305.4" r="1.55" fill="#e07b26" stroke="#8a4510" stroke-width="0.45"/>
<circle cx="264.6" cy="286.1" r="1.55" fill="#e07b26" stroke="#8a4510" stroke-width="0.45"/>
<circle cx="247.0" cy="311.9" r="1.55" fill="#e07b26" stroke="#8a4510" stroke-width="0.45"/>
<circle cx="256.9" cy="288.5" r="1.55" fill="#e07b26" stroke="#8a4510" stroke-width="0.45"/>
<circle cx="246.7" cy="274.2" r="1.55" fill="#e07b26" stroke="#8a4510" stroke-width="0.45"/>
<circle cx="249.8" cy="312.9" r="1.55" fill="#e07b26" stroke="#8a4510" stroke-width="0.45"/>
<circle cx="246.5" cy="311.9" r="1.55" fill="#e07b26" stroke="#8a4510" stroke-width="0.45"/>
<circle cx="261.2" cy="293.4" r="1.55" fill="#e07b26" stroke="#8a4510" stroke-width="0.45"/>
<circle cx="257.1" cy="314.7" r="1.55" fill="#e07b26" stroke="#8a4510" stroke-width="0.45"/>
<circle cx="248.6" cy="303.6" r="1.55" fill="#e07b26" stroke="#8a4510" stroke-width="0.45"/>
<circle cx="264.5" cy="261.0" r="1.55" fill="#e07b26" stroke="#8a4510" stroke-width="0.45"/>
<circle cx="246.5" cy="311.9" r="1.55" fill="#e07b26" stroke="#8a4510" stroke-width="0.45"/>
<circle cx="248.3" cy="312.4" r="1.55" fill="#e07b26" stroke="#8a4510" stroke-width="0.45"/>
<circle cx="248.4" cy="285.8" r="1.55" fill="#e07b26" stroke="#8a4510" stroke-width="0.45"/>
<circle cx="255.8" cy="266.5" r="1.55" fill="#e07b26" stroke="#8a4510" stroke-width="0.45"/>
<circle cx="259.1" cy="303.2" r="1.55" fill="#e07b26" stroke="#8a4510" stroke-width="0.45"/>
<circle cx="248.4" cy="294.7" r="1.55" fill="#e07b26" stroke="#8a4510" stroke-width="0.45"/>
<circle cx="259.5" cy="297.2" r="1.55" fill="#e07b26" stroke="#8a4510" stroke-width="0.45"/>
<circle cx="254.5" cy="285.4" r="1.55" fill="#e07b26" stroke="#8a4510" stroke-width="0.45"/>
<circle cx="249.9" cy="279.4" r="1.55" fill="#e07b26" stroke="#8a4510" stroke-width="0.45"/>
<circle cx="259.3" cy="297.2" r="1.55" fill="#e07b26" stroke="#8a4510" stroke-width="0.45"/>
<circle cx="249.8" cy="271.1" r="1.55" fill="#e07b26" stroke="#8a4510" stroke-width="0.45"/>
<circle cx="249.9" cy="271.1" r="1.55" fill="#e07b26" stroke="#8a4510" stroke-width="0.45"/>
<circle cx="263.6" cy="290.1" r="1.55" fill="#e07b26" stroke="#8a4510" stroke-width="0.45"/>
<circle cx="254.2" cy="285.4" r="1.55" fill="#e07b26" stroke="#8a4510" stroke-width="0.45"/>
<circle cx="246.5" cy="274.2" r="1.55" fill="#e07b26" stroke="#8a4510" stroke-width="0.45"/>
<circle cx="248.3" cy="285.8" r="1.55" fill="#e07b26" stroke="#8a4510" stroke-width="0.45"/>
<circle cx="254.2" cy="285.4" r="1.55" fill="#e07b26" stroke="#8a4510" stroke-width="0.45"/>
</g>
<circle cx="380.7" cy="186.5" r="1.55" fill="#52bcd6" stroke="#237d92" stroke-width="0.45"/>
<circle cx="330.4" cy="200.8" r="1.55" fill="#52bcd6" stroke="#237d92" stroke-width="0.45"/>
<circle cx="349.9" cy="210" r="1.55" fill="#52bcd6" stroke="#237d92" stroke-width="0.45"/>
<circle cx="429.8" cy="253.8" r="1.55" fill="#52bcd6" stroke="#237d92" stroke-width="0.45"/>
<circle cx="458.7" cy="250.9" r="1.55" fill="#52bcd6" stroke="#237d92" stroke-width="0.45"/>
<circle cx="414.5" cy="292" r="1.55" fill="#52bcd6" stroke="#237d92" stroke-width="0.45"/>
<circle cx="393.3" cy="266" r="1.55" fill="#52bcd6" stroke="#237d92" stroke-width="0.45"/>
<rect x="335.7" y="176.8" width="6.6" height="6.6" fill="none" stroke="#c04848" stroke-width="0.85"/>
<rect x="348.1" y="173.0" width="6.6" height="6.6" fill="none" stroke="#c04848" stroke-width="0.85"/>
<rect x="350.6" y="171.8" width="6.6" height="6.6" fill="none" stroke="#c04848" stroke-width="0.85"/>
<rect x="355.0" y="176.3" width="6.6" height="6.6" fill="none" stroke="#c04848" stroke-width="0.85"/>
<rect x="363.7" y="193.1" width="6.6" height="6.6" fill="none" stroke="#c04848" stroke-width="0.85"/>
<circle cx="339" cy="180.1" r="1.6" fill="#e07b26" stroke="#333" stroke-width="0.4"/>
<circle cx="351.4" cy="176.3" r="1.6" fill="#4a9a38" stroke="#333" stroke-width="0.4"/>
<circle cx="353.9" cy="175.1" r="1.6" fill="#d40f0f" stroke="#333" stroke-width="0.4"/>
<circle cx="358.3" cy="179.6" r="1.6" fill="#d40f0f" stroke="#333" stroke-width="0.4"/>
<circle cx="367" cy="196.4" r="1.6" fill="#5bb8cf" stroke="#333" stroke-width="0.4"/>
<circle cx="247.5" cy="294.8" r="3.1" fill="#fff" fill-opacity="0.7" stroke="#c45050" stroke-width="0.8"/>
<circle cx="247.5" cy="294.8" r="1.4" fill="#52bcd6" stroke="#237d92" stroke-width="0.4"/>
<circle cx="303.5" cy="242.4" r="3.1" fill="#fff" fill-opacity="0.7" stroke="#c45050" stroke-width="0.8"/>
<circle cx="303.5" cy="242.4" r="1.4" fill="#52bcd6" stroke="#237d92" stroke-width="0.4"/>
<circle cx="293.5" cy="298.5" r="3.1" fill="#fff" fill-opacity="0.7" stroke="#c45050" stroke-width="0.8"/>
<circle cx="293.5" cy="298.5" r="1.4" fill="#52bcd6" stroke="#237d92" stroke-width="0.4"/>
<circle cx="304.5" cy="277.5" r="3.1" fill="#fff" fill-opacity="0.7" stroke="#c45050" stroke-width="0.8"/>
<circle cx="304.5" cy="277.5" r="1.4" fill="#52bcd6" stroke="#237d92" stroke-width="0.4"/>
<circle cx="306.8" cy="277.5" r="3.1" fill="#fff" fill-opacity="0.7" stroke="#c45050" stroke-width="0.8"/>
<circle cx="306.8" cy="277.5" r="1.4" fill="#52bcd6" stroke="#237d92" stroke-width="0.4"/>
<circle cx="316.1" cy="302.7" r="3.1" fill="#fff" fill-opacity="0.7" stroke="#c45050" stroke-width="0.8"/>
<circle cx="316.1" cy="302.7" r="1.4" fill="#52bcd6" stroke="#237d92" stroke-width="0.4"/>
<circle cx="322.3" cy="301.5" r="3.1" fill="#fff" fill-opacity="0.7" stroke="#c45050" stroke-width="0.8"/>
<circle cx="322.3" cy="301.5" r="1.4" fill="#52bcd6" stroke="#237d92" stroke-width="0.4"/>
<rect x="243.6" y="165.0" width="244.79999999999998" height="162.39999999999998" fill="none" stroke="#111" stroke-width="1.1"/>
<line x1="240.29999999999998" y1="321.30" x2="243.6" y2="321.30" stroke="#000" stroke-width="0.8"/>
<text transform="translate(237.40,323.60) scale(0.8929,1)" font-size="5.60" text-anchor="end" fill="#000" >0.0</text>
<line x1="240.29999999999998" y1="291.16" x2="243.6" y2="291.16" stroke="#000" stroke-width="0.8"/>
<text transform="translate(237.40,293.46) scale(0.8929,1)" font-size="5.60" text-anchor="end" fill="#000" >0.2</text>
<line x1="240.29999999999998" y1="261.02" x2="243.6" y2="261.02" stroke="#000" stroke-width="0.8"/>
<text transform="translate(237.40,263.32) scale(0.8929,1)" font-size="5.60" text-anchor="end" fill="#000" >0.4</text>
<line x1="240.29999999999998" y1="230.88" x2="243.6" y2="230.88" stroke="#000" stroke-width="0.8"/>
<text transform="translate(237.40,233.18) scale(0.8929,1)" font-size="5.60" text-anchor="end" fill="#000" >0.6</text>
<line x1="240.29999999999998" y1="200.74" x2="243.6" y2="200.74" stroke="#000" stroke-width="0.8"/>
<text transform="translate(237.40,203.04) scale(0.8929,1)" font-size="5.60" text-anchor="end" fill="#000" >0.8</text>
<line x1="240.29999999999998" y1="170.60" x2="243.6" y2="170.60" stroke="#000" stroke-width="0.8"/>
<text transform="translate(237.40,172.90) scale(0.8929,1)" font-size="5.60" text-anchor="end" fill="#000" >1.0</text>
<line x1="253.00" y1="327.4" x2="253.00" y2="330.59999999999997" stroke="#000" stroke-width="0.8"/>
<text transform="translate(253.00,337.90) scale(0.8929,1)" font-size="5.49" text-anchor="middle" fill="#000" >20</text>
<line x1="278.90" y1="327.4" x2="278.90" y2="330.59999999999997" stroke="#000" stroke-width="0.8"/>
<text transform="translate(278.90,337.90) scale(0.8929,1)" font-size="5.49" text-anchor="middle" fill="#000" >50</text>
<line x1="298.50" y1="327.4" x2="298.50" y2="330.59999999999997" stroke="#000" stroke-width="0.8"/>
<text transform="translate(298.50,337.90) scale(0.8929,1)" font-size="5.49" text-anchor="middle" fill="#000" >100</text>
<line x1="318.10" y1="327.4" x2="318.10" y2="330.59999999999997" stroke="#000" stroke-width="0.8"/>
<text transform="translate(318.10,337.90) scale(0.8929,1)" font-size="5.49" text-anchor="middle" fill="#000" >200</text>
<line x1="344.00" y1="327.4" x2="344.00" y2="330.59999999999997" stroke="#000" stroke-width="0.8"/>
<text transform="translate(344.00,337.90) scale(0.8929,1)" font-size="5.49" text-anchor="middle" fill="#000" >500</text>
<line x1="363.60" y1="327.4" x2="363.60" y2="330.59999999999997" stroke="#000" stroke-width="0.8"/>
<text transform="translate(363.60,337.90) scale(0.8929,1)" font-size="5.49" text-anchor="middle" fill="#000" >1000</text>
<line x1="383.20" y1="327.4" x2="383.20" y2="330.59999999999997" stroke="#000" stroke-width="0.8"/>
<text transform="translate(383.20,337.90) scale(0.8929,1)" font-size="5.49" text-anchor="middle" fill="#000" >2000</text>
<line x1="409.10" y1="327.4" x2="409.10" y2="330.59999999999997" stroke="#000" stroke-width="0.8"/>
<text transform="translate(409.10,337.90) scale(0.8929,1)" font-size="5.49" text-anchor="middle" fill="#000" >5000</text>
<line x1="428.70" y1="327.4" x2="428.70" y2="330.59999999999997" stroke="#000" stroke-width="0.8"/>
<text transform="translate(428.70,337.90) scale(0.8929,1)" font-size="5.49" text-anchor="middle" fill="#000" >10000</text>
<line x1="448.30" y1="327.4" x2="448.30" y2="330.59999999999997" stroke="#000" stroke-width="0.8"/>
<text transform="translate(448.30,337.90) scale(0.8929,1)" font-size="5.49" text-anchor="middle" fill="#000" >20000</text>
<line x1="474.20" y1="327.4" x2="474.20" y2="330.59999999999997" stroke="#000" stroke-width="0.8"/>
<text transform="translate(474.20,337.90) scale(0.8929,1)" font-size="5.49" text-anchor="middle" fill="#000" >50000</text>
<text transform="translate(364.20,347.30) scale(0.8929,1)" font-size="7.84" text-anchor="middle" fill="#000" >Base substitutions</text>
<text transform="translate(223.60,247.50) rotate(-90) scale(0.8929,1)" font-size="7.62" text-anchor="middle" fill="#000" >Proportion CG&gt;TG</text>
<rect x="243.6" y="165.0" width="57.6" height="18.5" fill="#fff" stroke="#000" stroke-width="0.8"/>
<circle cx="247.5" cy="171.2" r="2.4" fill="none" stroke="#c45050" stroke-width="0.8"/>
<text transform="translate(252.60,172.90) scale(0.8929,1)" font-size="5.32" text-anchor="start" fill="#000" >MBD4 (Monoallelic)</text>
<rect x="245.1" y="175.6" width="4.9" height="4.9" fill="none" stroke="#c45050" stroke-width="0.8"/>
<text transform="translate(252.60,179.70) scale(0.8929,1)" font-size="5.32" text-anchor="start" fill="#000" >MBD4 (Biallelic)</text>
<rect x="436.9" y="165.0" width="51.5" height="44.2" fill="#fff" stroke="#000" stroke-width="0.8"/>
<circle cx="441.3" cy="171.00" r="1.55" fill="#4a4f9c" stroke="#272a66" stroke-width="0.45"/>
<text transform="translate(445.30,172.70) scale(0.8929,1)" font-size="5.38" text-anchor="start" fill="#000" >TCGA AML</text>
<circle cx="441.3" cy="177.45" r="1.55" fill="#d40f0f" stroke="#7a1010" stroke-width="0.45"/>
<text transform="translate(445.30,179.15) scale(0.8929,1)" font-size="5.38" text-anchor="start" fill="#000" >WEHI−AML</text>
<circle cx="441.3" cy="183.90" r="1.55" fill="#4a9a38" stroke="#2e6124" stroke-width="0.45"/>
<text transform="translate(445.30,185.60) scale(0.8929,1)" font-size="5.38" text-anchor="start" fill="#000" >EMC−AML−1</text>
<circle cx="441.3" cy="190.35" r="1.55" fill="#e07b26" stroke="#8a4510" stroke-width="0.45"/>
<text transform="translate(445.30,192.05) scale(0.8929,1)" font-size="5.38" text-anchor="start" fill="#000" >Uveal melanoma</text>
<circle cx="441.3" cy="196.80" r="1.55" fill="#5bb8cf" stroke="#2f7a8c" stroke-width="0.45"/>
<text transform="translate(445.30,198.50) scale(0.8929,1)" font-size="5.38" text-anchor="start" fill="#000" >Glioblastoma</text>
<circle cx="441.3" cy="203.25" r="1.1" fill="#111" stroke="#111" stroke-width="0.45"/>
<text transform="translate(445.30,204.95) scale(0.8929,1)" font-size="5.38" text-anchor="start" fill="#000" >other</text>
</svg></body></html>
